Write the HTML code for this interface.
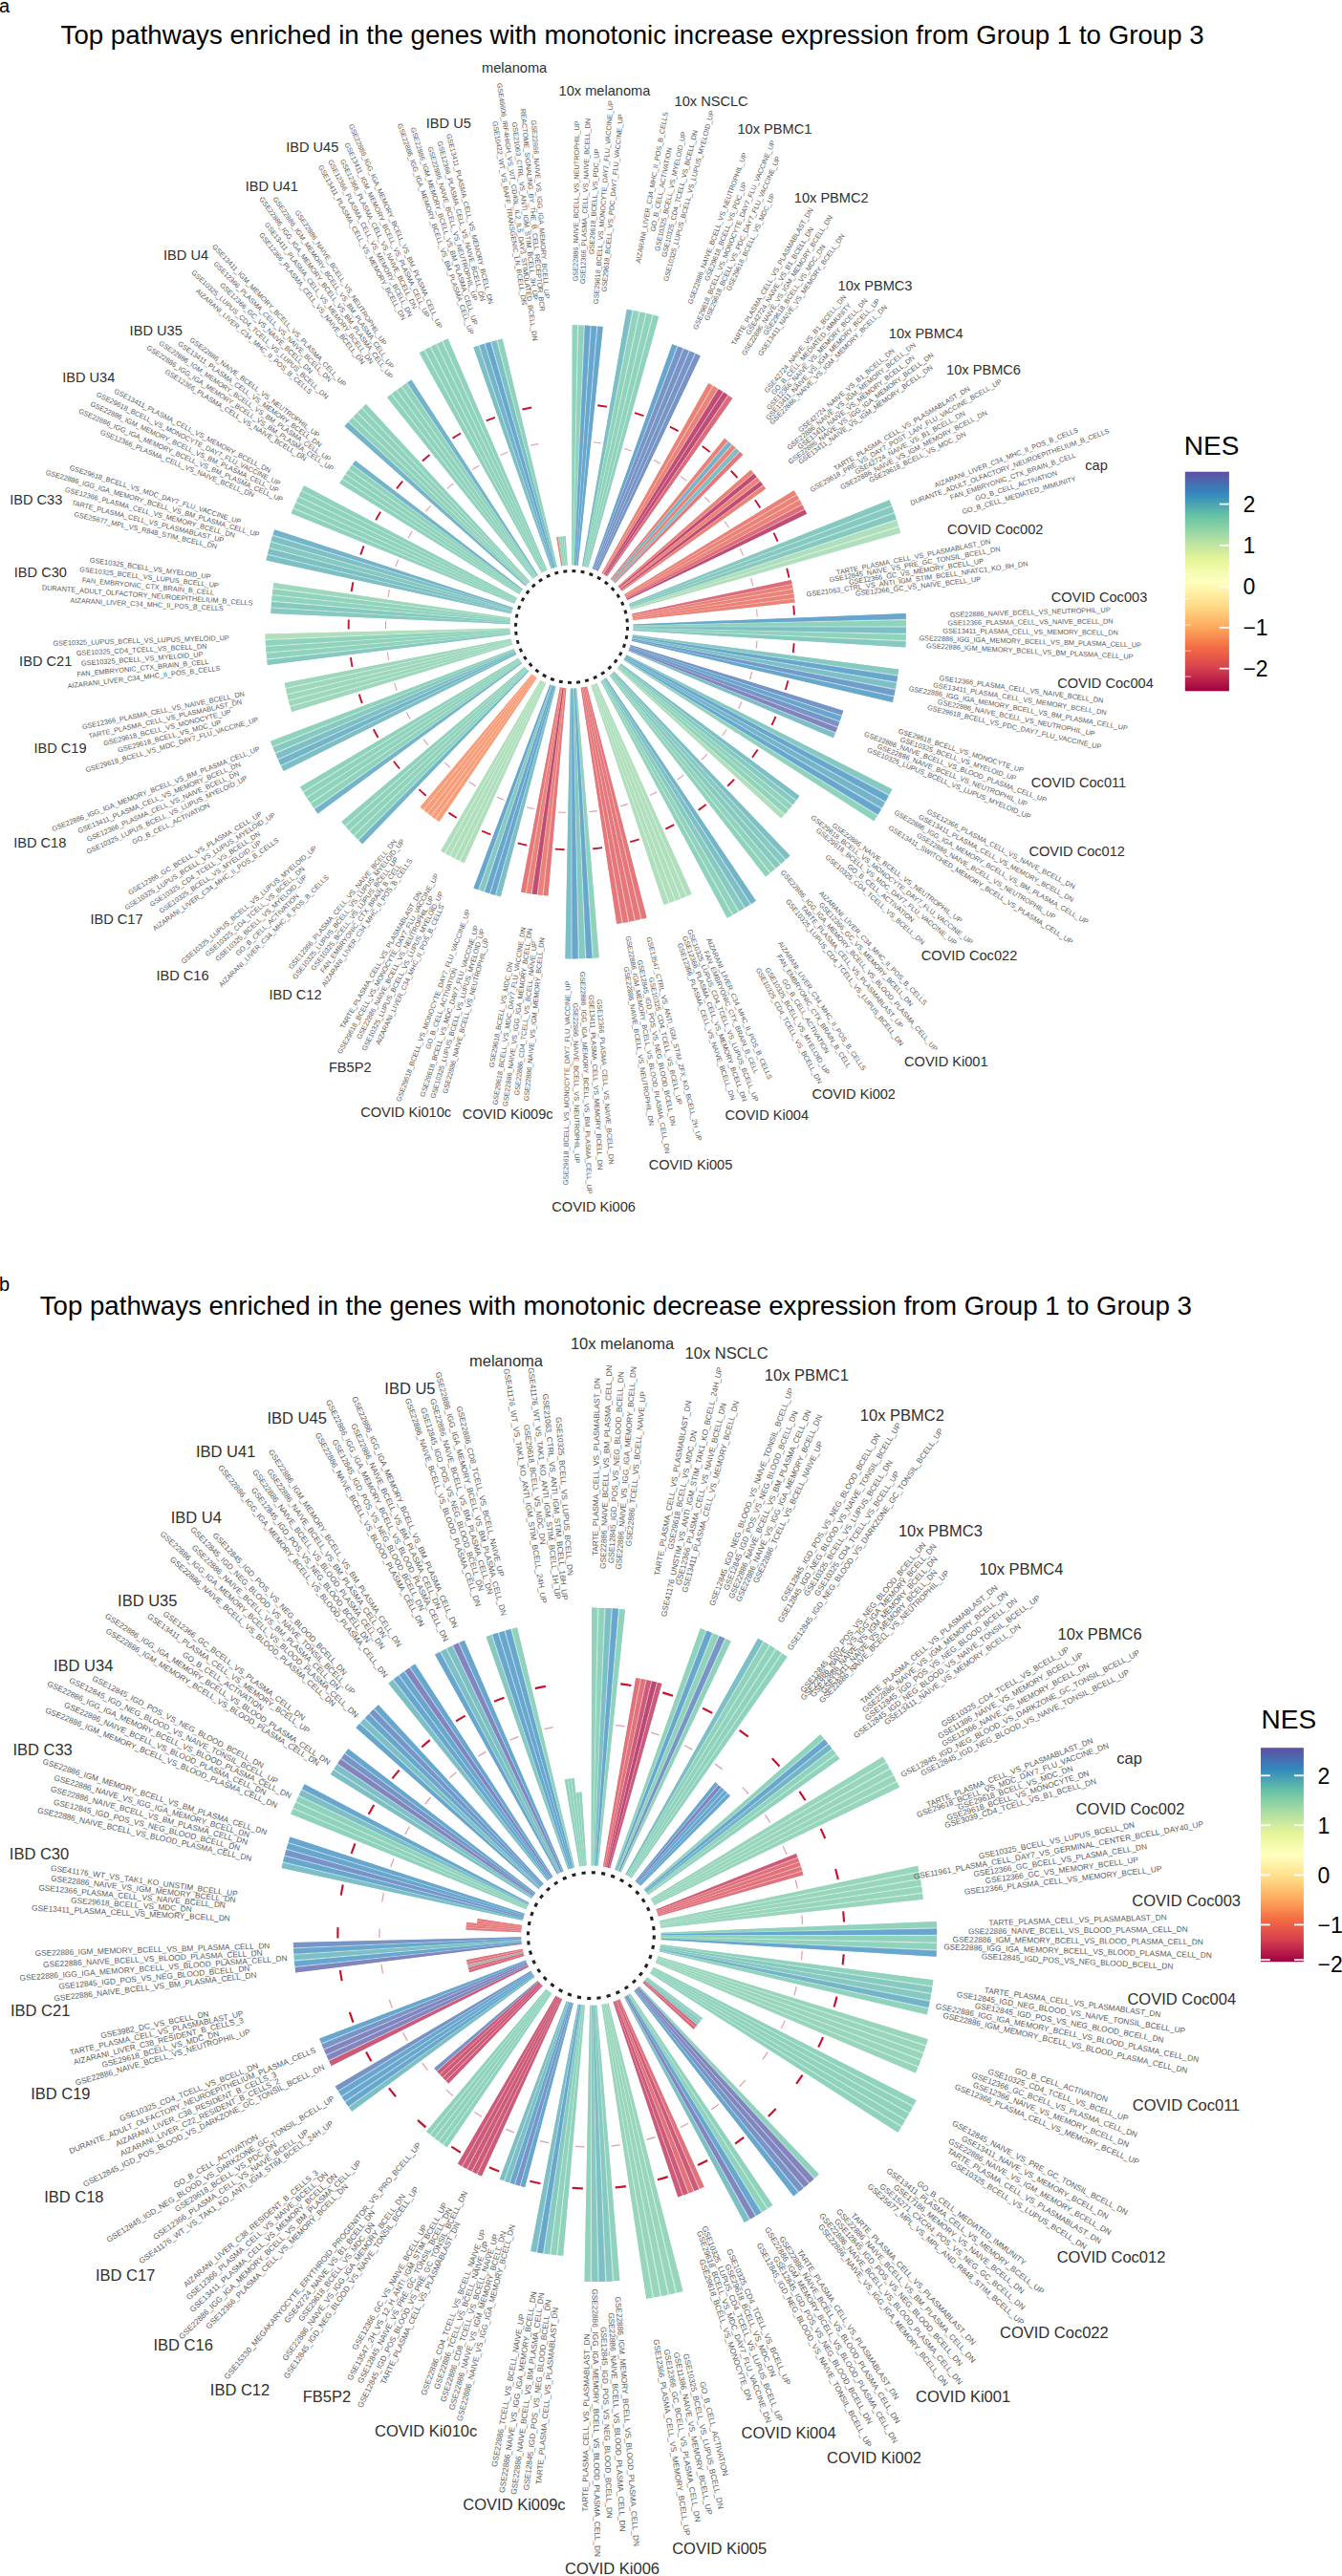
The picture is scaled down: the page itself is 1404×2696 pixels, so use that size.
<!DOCTYPE html><html><head><meta charset="utf-8"><title>Top pathways</title>
<style>html,body{margin:0;padding:0;background:#fff}svg{display:block;font-family:"Liberation Sans",Arial,Helvetica,sans-serif}</style></head><body>
<svg width="1404" height="2696" viewBox="0 0 1404 2696">
<rect width="1404" height="2696" fill="#fff"/>
<text x="-1" y="13.2" font-size="20" fill="#000">a</text>
<text x="63.6" y="46" font-size="27.66" fill="#000">Top pathways enriched in the genes with monotonic increase expression from Group 1 to Group 3</text>
<g>
<path d="M598.14 591.50L598.67 340.30A315.70 315.70 0 0 1 604.70 340.37L599.37 591.51A64.50 64.50 0 0 0 598.14 591.50Z" fill="#bfe5d8"/>
<path d="M599.37 591.51L604.70 340.37A315.70 315.70 0 0 1 611.40 340.58L600.74 591.56A64.50 64.50 0 0 0 599.37 591.51Z" fill="#bfe5d8"/>
<path d="M600.74 591.56L611.40 340.58A315.70 315.70 0 0 1 618.09 340.94L602.10 591.63A64.50 64.50 0 0 0 600.74 591.56Z" fill="#a7cce3"/>
<path d="M602.10 591.63L618.09 340.94A315.70 315.70 0 0 1 624.77 341.44L603.47 591.73A64.50 64.50 0 0 0 602.10 591.63Z" fill="#a7cce3"/>
<path d="M603.47 591.73L624.77 341.44A315.70 315.70 0 0 1 630.78 342.01L604.70 591.85A64.50 64.50 0 0 0 603.47 591.73Z" fill="#a7cce3"/>
<path d="M598.14 591.50L598.67 340.30A315.70 315.70 0 0 1 604.03 340.36L599.23 591.51A64.50 64.50 0 0 0 598.14 591.50Z" fill="#90d3bc"/>
<path d="M599.51 591.52L605.37 340.39A315.70 315.70 0 0 1 610.73 340.56L600.60 591.55A64.50 64.50 0 0 0 599.51 591.52Z" fill="#90d3bc"/>
<path d="M600.87 591.56L612.07 340.61A315.70 315.70 0 0 1 617.42 340.90L601.97 591.62A64.50 64.50 0 0 0 600.87 591.56Z" fill="#67a7ce"/>
<path d="M602.24 591.64L618.76 340.98A315.70 315.70 0 0 1 624.11 341.38L603.33 591.72A64.50 64.50 0 0 0 602.24 591.64Z" fill="#67a7ce"/>
<path d="M603.61 591.74L625.44 341.49A315.70 315.70 0 0 1 630.78 342.01L604.70 591.85A64.50 64.50 0 0 0 603.61 591.74Z" fill="#67a7ce"/>
<path d="M609.04 592.45L655.71 323.67A337.30 337.30 0 0 1 662.05 324.84L610.25 592.67A64.50 64.50 0 0 0 609.04 592.45Z" fill="#b3dadd"/>
<path d="M610.25 592.67L662.05 324.84A337.30 337.30 0 0 1 669.06 326.27L611.59 592.95A64.50 64.50 0 0 0 610.25 592.67Z" fill="#bfe5d8"/>
<path d="M611.59 592.95L669.06 326.27A337.30 337.30 0 0 1 676.04 327.85L612.92 593.25A64.50 64.50 0 0 0 611.59 592.95Z" fill="#bfe5d8"/>
<path d="M612.92 593.25L676.04 327.85A337.30 337.30 0 0 1 682.99 329.58L614.25 593.58A64.50 64.50 0 0 0 612.92 593.25Z" fill="#bfe5d8"/>
<path d="M614.25 593.58L682.99 329.58A337.30 337.30 0 0 1 689.21 331.27L615.44 593.90A64.50 64.50 0 0 0 614.25 593.58Z" fill="#bfe5d8"/>
<path d="M609.04 592.45L655.71 323.67A337.30 337.30 0 0 1 661.34 324.70L610.11 592.65A64.50 64.50 0 0 0 609.04 592.45Z" fill="#7cbfc4"/>
<path d="M610.38 592.70L662.75 324.97A337.30 337.30 0 0 1 668.36 326.12L611.45 592.92A64.50 64.50 0 0 0 610.38 592.70Z" fill="#90d3bc"/>
<path d="M611.72 592.98L669.76 326.42A337.30 337.30 0 0 1 675.35 327.69L612.79 593.22A64.50 64.50 0 0 0 611.72 592.98Z" fill="#90d3bc"/>
<path d="M613.06 593.28L676.74 328.02A337.30 337.30 0 0 1 682.30 329.40L614.12 593.55A64.50 64.50 0 0 0 613.06 593.28Z" fill="#90d3bc"/>
<path d="M614.39 593.62L683.68 329.76A337.30 337.30 0 0 1 689.21 331.27L615.44 593.90A64.50 64.50 0 0 0 614.39 593.62Z" fill="#90d3bc"/>
<path d="M619.62 595.23L703.23 360.16A314.00 314.00 0 0 1 708.87 362.22L620.77 595.65A64.50 64.50 0 0 0 619.62 595.23Z" fill="#a7cce3"/>
<path d="M620.77 595.65L708.87 362.22A314.00 314.00 0 0 1 715.08 364.64L622.05 596.15A64.50 64.50 0 0 0 620.77 595.65Z" fill="#b0c1dd"/>
<path d="M622.05 596.15L715.08 364.64A314.00 314.00 0 0 1 721.23 367.19L623.31 596.68A64.50 64.50 0 0 0 622.05 596.15Z" fill="#b0c1dd"/>
<path d="M623.31 596.68L721.23 367.19A314.00 314.00 0 0 1 727.34 369.87L624.57 597.23A64.50 64.50 0 0 0 623.31 596.68Z" fill="#b0c1dd"/>
<path d="M624.57 597.23L727.34 369.87A314.00 314.00 0 0 1 732.78 372.40L625.69 597.74A64.50 64.50 0 0 0 624.57 597.23Z" fill="#b0c1dd"/>
<path d="M619.62 595.23L703.23 360.16A314.00 314.00 0 0 1 708.24 361.99L620.65 595.61A64.50 64.50 0 0 0 619.62 595.23Z" fill="#67a7ce"/>
<path d="M620.90 595.70L709.49 362.46A314.00 314.00 0 0 1 714.46 364.39L621.92 596.10A64.50 64.50 0 0 0 620.90 595.70Z" fill="#7694c5"/>
<path d="M622.18 596.20L715.70 364.89A314.00 314.00 0 0 1 720.62 366.93L623.19 596.62A64.50 64.50 0 0 0 622.18 596.20Z" fill="#7694c5"/>
<path d="M623.44 596.73L721.85 367.46A314.00 314.00 0 0 1 726.73 369.60L624.44 597.17A64.50 64.50 0 0 0 623.44 596.73Z" fill="#7694c5"/>
<path d="M624.69 597.28L727.94 370.15A314.00 314.00 0 0 1 732.78 372.40L625.69 597.74A64.50 64.50 0 0 0 624.69 597.28Z" fill="#7694c5"/>
<path d="M629.58 599.76L741.19 400.95A292.50 292.50 0 0 1 746.04 403.73L630.64 600.37A64.50 64.50 0 0 0 629.58 599.76Z" fill="#f3b6b1"/>
<path d="M630.64 600.37L746.04 403.73A292.50 292.50 0 0 1 751.36 406.93L631.82 601.08A64.50 64.50 0 0 0 630.64 600.37Z" fill="#f3b6b1"/>
<path d="M631.82 601.08L751.36 406.93A292.50 292.50 0 0 1 756.61 410.24L632.98 601.81A64.50 64.50 0 0 0 631.82 601.08Z" fill="#da97af"/>
<path d="M632.98 601.81L756.61 410.24A292.50 292.50 0 0 1 761.79 413.66L634.12 602.56A64.50 64.50 0 0 0 632.98 601.81Z" fill="#da97af"/>
<path d="M634.12 602.56L761.79 413.66A292.50 292.50 0 0 1 766.39 416.83L635.13 603.26A64.50 64.50 0 0 0 634.12 602.56Z" fill="#ebaab3"/>
<path d="M629.58 599.76L741.19 400.95A292.50 292.50 0 0 1 745.50 403.42L630.53 600.30A64.50 64.50 0 0 0 629.58 599.76Z" fill="#eb8278"/>
<path d="M630.76 600.44L746.57 404.04A292.50 292.50 0 0 1 750.83 406.60L631.70 601.00A64.50 64.50 0 0 0 630.76 600.44Z" fill="#eb8278"/>
<path d="M631.93 601.15L751.89 407.25A292.50 292.50 0 0 1 756.09 409.90L632.86 601.73A64.50 64.50 0 0 0 631.93 601.15Z" fill="#bf4c75"/>
<path d="M633.09 601.88L757.13 410.58A292.50 292.50 0 0 1 761.28 413.31L634.00 602.48A64.50 64.50 0 0 0 633.09 601.88Z" fill="#bf4c75"/>
<path d="M634.23 602.64L762.31 414.01A292.50 292.50 0 0 1 766.39 416.83L635.13 603.26A64.50 64.50 0 0 0 634.23 602.64Z" fill="#dc6c7c"/>
<path d="M638.63 605.90L757.99 458.72A254.00 254.00 0 0 1 761.73 461.81L639.58 606.69A64.50 64.50 0 0 0 638.63 605.90Z" fill="#f3b6b1"/>
<path d="M639.58 606.69L761.73 461.81A254.00 254.00 0 0 1 765.81 465.33L640.61 607.58A64.50 64.50 0 0 0 639.58 606.69Z" fill="#aed4e0"/>
<path d="M640.61 607.58L765.81 465.33A254.00 254.00 0 0 1 769.82 468.93L641.63 608.50A64.50 64.50 0 0 0 640.61 607.58Z" fill="#f3b6b1"/>
<path d="M641.63 608.50L769.82 468.93A254.00 254.00 0 0 1 773.75 472.62L642.63 609.43A64.50 64.50 0 0 0 641.63 608.50Z" fill="#b3dadd"/>
<path d="M642.63 609.43L773.75 472.62A254.00 254.00 0 0 1 777.22 476.01L643.51 610.29A64.50 64.50 0 0 0 642.63 609.43Z" fill="#f0b0b2"/>
<path d="M638.63 605.90L757.99 458.72A254.00 254.00 0 0 1 761.31 461.46L639.47 606.60A64.50 64.50 0 0 0 638.63 605.90Z" fill="#eb8278"/>
<path d="M639.68 606.78L762.14 462.16A254.00 254.00 0 0 1 765.41 464.97L640.51 607.49A64.50 64.50 0 0 0 639.68 606.78Z" fill="#73b4c9"/>
<path d="M640.72 607.67L766.22 465.69A254.00 254.00 0 0 1 769.42 468.57L641.53 608.40A64.50 64.50 0 0 0 640.72 607.67Z" fill="#eb8278"/>
<path d="M641.73 608.59L770.22 469.30A254.00 254.00 0 0 1 773.36 472.25L642.53 609.34A64.50 64.50 0 0 0 641.73 608.59Z" fill="#7cbfc4"/>
<path d="M642.73 609.53L774.14 473.00A254.00 254.00 0 0 1 777.22 476.01L643.51 610.29A64.50 64.50 0 0 0 642.73 609.53Z" fill="#e5777b"/>
<path d="M646.51 613.49L785.49 491.69A249.30 249.30 0 0 1 788.60 495.30L647.31 614.42A64.50 64.50 0 0 0 646.51 613.49Z" fill="#f3b6b1"/>
<path d="M647.31 614.42L788.60 495.30A249.30 249.30 0 0 1 791.96 499.38L648.18 615.48A64.50 64.50 0 0 0 647.31 614.42Z" fill="#da97af"/>
<path d="M648.18 615.48L791.96 499.38A249.30 249.30 0 0 1 795.24 503.54L649.03 616.55A64.50 64.50 0 0 0 648.18 615.48Z" fill="#f3b6b1"/>
<path d="M649.03 616.55L795.24 503.54A249.30 249.30 0 0 1 798.44 507.76L649.86 617.65A64.50 64.50 0 0 0 649.03 616.55Z" fill="#da97af"/>
<path d="M649.86 617.65L798.44 507.76A249.30 249.30 0 0 1 801.23 511.61L650.58 618.64A64.50 64.50 0 0 0 649.86 617.65Z" fill="#f3b6b1"/>
<path d="M646.51 613.49L785.49 491.69A249.30 249.30 0 0 1 788.25 494.90L647.22 614.32A64.50 64.50 0 0 0 646.51 613.49Z" fill="#eb8278"/>
<path d="M647.40 614.53L788.94 495.71A249.30 249.30 0 0 1 791.63 498.97L648.10 615.37A64.50 64.50 0 0 0 647.40 614.53Z" fill="#bf4c75"/>
<path d="M648.27 615.59L792.30 499.80A249.30 249.30 0 0 1 794.92 503.12L648.95 616.45A64.50 64.50 0 0 0 648.27 615.59Z" fill="#eb8278"/>
<path d="M649.12 616.66L795.57 503.96A249.30 249.30 0 0 1 798.12 507.33L649.78 617.54A64.50 64.50 0 0 0 649.12 616.66Z" fill="#bf4c75"/>
<path d="M649.94 617.76L798.75 508.18A249.30 249.30 0 0 1 801.23 511.61L650.58 618.64A64.50 64.50 0 0 0 649.94 617.76Z" fill="#eb8278"/>
<path d="M653.00 622.30L830.77 513.36A273.00 273.00 0 0 1 833.45 517.83L653.63 623.36A64.50 64.50 0 0 0 653.00 622.30Z" fill="#f3b6b1"/>
<path d="M653.63 623.36L833.45 517.83A273.00 273.00 0 0 1 836.33 522.86L654.31 624.54A64.50 64.50 0 0 0 653.63 623.36Z" fill="#f3b6b1"/>
<path d="M654.31 624.54L836.33 522.86A273.00 273.00 0 0 1 839.11 527.95L654.96 625.75A64.50 64.50 0 0 0 654.31 624.54Z" fill="#f3b6b1"/>
<path d="M654.96 625.75L839.11 527.95A273.00 273.00 0 0 1 841.77 533.09L655.59 626.96A64.50 64.50 0 0 0 654.96 625.75Z" fill="#ebaab3"/>
<path d="M655.59 626.96L841.77 533.09A273.00 273.00 0 0 1 844.07 537.77L656.14 628.07A64.50 64.50 0 0 0 655.59 626.96Z" fill="#da97af"/>
<path d="M653.00 622.30L830.77 513.36A273.00 273.00 0 0 1 833.16 517.33L653.56 623.24A64.50 64.50 0 0 0 653.00 622.30Z" fill="#eb8278"/>
<path d="M653.70 623.47L833.75 518.33A273.00 273.00 0 0 1 836.05 522.35L654.24 624.42A64.50 64.50 0 0 0 653.70 623.47Z" fill="#eb8278"/>
<path d="M654.38 624.66L836.61 523.37A273.00 273.00 0 0 1 838.83 527.44L654.90 625.63A64.50 64.50 0 0 0 654.38 624.66Z" fill="#eb8278"/>
<path d="M655.03 625.87L839.38 528.46A273.00 273.00 0 0 1 841.51 532.58L655.53 626.84A64.50 64.50 0 0 0 655.03 625.87Z" fill="#dc6c7c"/>
<path d="M655.66 627.08L842.03 533.61A273.00 273.00 0 0 1 844.07 537.77L656.14 628.07A64.50 64.50 0 0 0 655.66 627.08Z" fill="#bf4c75"/>
<path d="M657.90 632.08L930.47 523.22A358.00 358.00 0 0 1 932.94 529.60L658.35 633.23A64.50 64.50 0 0 0 657.90 632.08Z" fill="#b9e0da"/>
<path d="M658.35 633.23L932.94 529.60A358.00 358.00 0 0 1 935.55 536.74L658.82 634.51A64.50 64.50 0 0 0 658.35 633.23Z" fill="#b9e0da"/>
<path d="M658.82 634.51L935.55 536.74A358.00 358.00 0 0 1 938.01 543.93L659.26 635.81A64.50 64.50 0 0 0 658.82 634.51Z" fill="#b9e0da"/>
<path d="M659.26 635.81L938.01 543.93A358.00 358.00 0 0 1 940.31 551.17L659.67 637.11A64.50 64.50 0 0 0 659.26 635.81Z" fill="#d1ecd8"/>
<path d="M659.67 637.11L940.31 551.17A358.00 358.00 0 0 1 942.25 557.73L660.02 638.29A64.50 64.50 0 0 0 659.67 637.11Z" fill="#d1ecd8"/>
<path d="M657.90 632.08L930.47 523.22A358.00 358.00 0 0 1 932.67 528.89L658.30 633.10A64.50 64.50 0 0 0 657.90 632.08Z" fill="#86c9c0"/>
<path d="M658.39 633.35L933.21 530.31A358.00 358.00 0 0 1 935.30 536.02L658.77 634.38A64.50 64.50 0 0 0 658.39 633.35Z" fill="#86c9c0"/>
<path d="M658.86 634.64L935.80 537.45A358.00 358.00 0 0 1 937.77 543.21L659.21 635.68A64.50 64.50 0 0 0 658.86 634.64Z" fill="#86c9c0"/>
<path d="M659.30 635.94L938.24 544.65A358.00 358.00 0 0 1 940.08 550.44L659.63 636.98A64.50 64.50 0 0 0 659.30 635.94Z" fill="#afdfbc"/>
<path d="M659.71 637.24L940.53 551.90A358.00 358.00 0 0 1 942.25 557.73L660.02 638.29A64.50 64.50 0 0 0 659.71 637.24Z" fill="#afdfbc"/>
<path d="M661.08 642.55L827.83 606.98A235.00 235.00 0 0 1 828.72 611.38L661.33 643.75A64.50 64.50 0 0 0 661.08 642.55Z" fill="#ebaab3"/>
<path d="M661.33 643.75L828.72 611.38A235.00 235.00 0 0 1 829.62 616.28L661.57 645.10A64.50 64.50 0 0 0 661.33 643.75Z" fill="#f3b6b1"/>
<path d="M661.57 645.10L829.62 616.28A235.00 235.00 0 0 1 830.41 621.21L661.79 646.45A64.50 64.50 0 0 0 661.57 645.10Z" fill="#f3b6b1"/>
<path d="M661.79 646.45L830.41 621.21A235.00 235.00 0 0 1 831.10 626.15L661.98 647.81A64.50 64.50 0 0 0 661.79 646.45Z" fill="#f3b6b1"/>
<path d="M661.98 647.81L831.10 626.15A235.00 235.00 0 0 1 831.62 630.61L662.12 649.03A64.50 64.50 0 0 0 661.98 647.81Z" fill="#f3b6b1"/>
<path d="M661.08 642.55L827.83 606.98A235.00 235.00 0 0 1 828.63 610.89L661.30 643.62A64.50 64.50 0 0 0 661.08 642.55Z" fill="#dc6c7c"/>
<path d="M661.35 643.89L828.82 611.87A235.00 235.00 0 0 1 829.53 615.79L661.55 644.96A64.50 64.50 0 0 0 661.35 643.89Z" fill="#eb8278"/>
<path d="M661.60 645.23L829.70 616.78A235.00 235.00 0 0 1 830.34 620.72L661.77 646.32A64.50 64.50 0 0 0 661.60 645.23Z" fill="#eb8278"/>
<path d="M661.81 646.59L830.48 621.70A235.00 235.00 0 0 1 831.03 625.66L661.96 647.67A64.50 64.50 0 0 0 661.81 646.59Z" fill="#eb8278"/>
<path d="M661.99 647.94L831.16 626.65A235.00 235.00 0 0 1 831.62 630.61L662.12 649.03A64.50 64.50 0 0 0 661.99 647.94Z" fill="#eb8278"/>
<path d="M662.45 653.40L947.72 641.89A350.00 350.00 0 0 1 947.92 648.57L662.49 654.63A64.50 64.50 0 0 0 662.45 653.40Z" fill="#a7cce3"/>
<path d="M662.49 654.63L947.92 648.57A350.00 350.00 0 0 1 948.00 656.00L662.50 656.00A64.50 64.50 0 0 0 662.49 654.63Z" fill="#bfe5d8"/>
<path d="M662.50 656.00L948.00 656.00A350.00 350.00 0 0 1 947.92 663.43L662.49 657.37A64.50 64.50 0 0 0 662.50 656.00Z" fill="#b3dadd"/>
<path d="M662.49 657.37L947.92 663.43A350.00 350.00 0 0 1 947.68 670.85L662.44 658.74A64.50 64.50 0 0 0 662.49 657.37Z" fill="#bfe5d8"/>
<path d="M662.44 658.74L947.68 670.85A350.00 350.00 0 0 1 947.34 677.53L662.38 659.97A64.50 64.50 0 0 0 662.44 658.74Z" fill="#b9e0da"/>
<path d="M662.45 653.40L947.72 641.89A350.00 350.00 0 0 1 947.90 647.83L662.48 654.49A64.50 64.50 0 0 0 662.45 653.40Z" fill="#67a7ce"/>
<path d="M662.49 654.77L947.94 649.31A350.00 350.00 0 0 1 948.00 655.26L662.50 655.86A64.50 64.50 0 0 0 662.49 654.77Z" fill="#90d3bc"/>
<path d="M662.50 656.14L948.00 656.74A350.00 350.00 0 0 1 947.94 662.69L662.49 657.23A64.50 64.50 0 0 0 662.50 656.14Z" fill="#7cbfc4"/>
<path d="M662.48 657.51L947.90 664.17A350.00 350.00 0 0 1 947.72 670.11L662.45 658.60A64.50 64.50 0 0 0 662.48 657.51Z" fill="#90d3bc"/>
<path d="M662.44 658.87L947.65 671.60A350.00 350.00 0 0 1 947.34 677.53L662.38 659.97A64.50 64.50 0 0 0 662.44 658.87Z" fill="#86c9c0"/>
<path d="M661.96 664.33L940.11 700.55A345.00 345.00 0 0 1 939.20 707.07L661.79 665.55A64.50 64.50 0 0 0 661.96 664.33Z" fill="#b9e0da"/>
<path d="M661.79 665.55L939.20 707.07A345.00 345.00 0 0 1 938.04 714.31L661.57 666.90A64.50 64.50 0 0 0 661.79 665.55Z" fill="#a7cce3"/>
<path d="M661.57 666.90L938.04 714.31A345.00 345.00 0 0 1 936.72 721.51L661.33 668.25A64.50 64.50 0 0 0 661.57 666.90Z" fill="#b3dadd"/>
<path d="M661.33 668.25L936.72 721.51A345.00 345.00 0 0 1 935.26 728.68L661.05 669.59A64.50 64.50 0 0 0 661.33 668.25Z" fill="#abc6e0"/>
<path d="M661.05 669.59L935.26 728.68A345.00 345.00 0 0 1 933.81 735.11L660.78 670.79A64.50 64.50 0 0 0 661.05 669.59Z" fill="#a7cce3"/>
<path d="M661.96 664.33L940.11 700.55A345.00 345.00 0 0 1 939.31 706.35L661.81 665.41A64.50 64.50 0 0 0 661.96 664.33Z" fill="#86c9c0"/>
<path d="M661.77 665.68L939.09 707.80A345.00 345.00 0 0 1 938.16 713.58L661.60 666.77A64.50 64.50 0 0 0 661.77 665.68Z" fill="#67a7ce"/>
<path d="M661.55 667.04L937.91 715.03A345.00 345.00 0 0 1 936.86 720.79L661.35 668.11A64.50 64.50 0 0 0 661.55 667.04Z" fill="#7cbfc4"/>
<path d="M661.30 668.38L936.58 722.23A345.00 345.00 0 0 1 935.41 727.97L661.08 669.45A64.50 64.50 0 0 0 661.30 668.38Z" fill="#6f9cc9"/>
<path d="M661.02 669.72L935.10 729.40A345.00 345.00 0 0 1 933.81 735.11L660.78 670.79A64.50 64.50 0 0 0 661.02 669.72Z" fill="#67a7ce"/>
<path d="M659.63 675.02L882.27 743.72A297.50 297.50 0 0 1 880.55 749.13L659.26 676.19A64.50 64.50 0 0 0 659.63 675.02Z" fill="#b0c1dd"/>
<path d="M659.26 676.19L880.55 749.13A297.50 297.50 0 0 1 878.51 755.11L658.82 677.49A64.50 64.50 0 0 0 659.26 676.19Z" fill="#a7cce3"/>
<path d="M658.82 677.49L878.51 755.11A297.50 297.50 0 0 1 876.34 761.04L658.35 678.77A64.50 64.50 0 0 0 658.82 677.49Z" fill="#b0c1dd"/>
<path d="M658.35 678.77L876.34 761.04A297.50 297.50 0 0 1 874.05 766.92L657.85 680.05A64.50 64.50 0 0 0 658.35 678.77Z" fill="#b6b8d9"/>
<path d="M657.85 680.05L874.05 766.92A297.50 297.50 0 0 1 871.88 772.18L657.38 681.19A64.50 64.50 0 0 0 657.85 680.05Z" fill="#b3dadd"/>
<path d="M659.63 675.02L882.27 743.72A297.50 297.50 0 0 1 880.74 748.53L659.30 676.06A64.50 64.50 0 0 0 659.63 675.02Z" fill="#7694c5"/>
<path d="M659.21 676.32L880.35 749.73A297.50 297.50 0 0 1 878.72 754.51L658.86 677.36A64.50 64.50 0 0 0 659.21 676.32Z" fill="#67a7ce"/>
<path d="M658.77 677.62L878.30 755.70A297.50 297.50 0 0 1 876.56 760.45L658.39 678.65A64.50 64.50 0 0 0 658.77 677.62Z" fill="#7694c5"/>
<path d="M658.30 678.90L876.12 761.63A297.50 297.50 0 0 1 874.28 766.34L657.90 679.92A64.50 64.50 0 0 0 658.30 678.90Z" fill="#8185be"/>
<path d="M657.80 680.18L873.81 767.51A297.50 297.50 0 0 1 871.88 772.18L657.38 681.19A64.50 64.50 0 0 0 657.80 680.18Z" fill="#7cbfc4"/>
<path d="M655.53 685.16L933.38 825.99A376.00 376.00 0 0 1 930.07 832.36L654.96 686.25A64.50 64.50 0 0 0 655.53 685.16Z" fill="#b9e0da"/>
<path d="M654.96 686.25L930.07 832.36A376.00 376.00 0 0 1 926.25 839.37L654.31 687.46A64.50 64.50 0 0 0 654.96 686.25Z" fill="#a7cce3"/>
<path d="M654.31 687.46L926.25 839.37A376.00 376.00 0 0 1 922.29 846.30L653.63 688.64A64.50 64.50 0 0 0 654.31 687.46Z" fill="#aed4e0"/>
<path d="M653.63 688.64L922.29 846.30A376.00 376.00 0 0 1 918.17 853.14L652.92 689.82A64.50 64.50 0 0 0 653.63 688.64Z" fill="#a7cce3"/>
<path d="M652.92 689.82L918.17 853.14A376.00 376.00 0 0 1 914.35 859.22L652.27 690.86A64.50 64.50 0 0 0 652.92 689.82Z" fill="#bfe5d8"/>
<path d="M655.53 685.16L933.38 825.99A376.00 376.00 0 0 1 930.45 831.66L655.03 686.13A64.50 64.50 0 0 0 655.53 685.16Z" fill="#86c9c0"/>
<path d="M654.90 686.37L929.70 833.07A376.00 376.00 0 0 1 926.64 838.68L654.38 687.34A64.50 64.50 0 0 0 654.90 686.37Z" fill="#67a7ce"/>
<path d="M654.24 687.58L925.86 840.07A376.00 376.00 0 0 1 922.69 845.61L653.70 688.53A64.50 64.50 0 0 0 654.24 687.58Z" fill="#73b4c9"/>
<path d="M653.56 688.76L921.88 846.99A376.00 376.00 0 0 1 918.59 852.46L653.00 689.70A64.50 64.50 0 0 0 653.56 688.76Z" fill="#67a7ce"/>
<path d="M652.85 689.93L917.76 853.82A376.00 376.00 0 0 1 914.35 859.22L652.27 690.86A64.50 64.50 0 0 0 652.85 689.93Z" fill="#90d3bc"/>
<path d="M649.78 694.46L836.41 833.11A297.00 297.00 0 0 1 832.98 837.63L649.03 695.45A64.50 64.50 0 0 0 649.78 694.46Z" fill="#b3dadd"/>
<path d="M649.03 695.45L832.98 837.63A297.00 297.00 0 0 1 829.08 842.58L648.18 696.52A64.50 64.50 0 0 0 649.03 695.45Z" fill="#b9e0da"/>
<path d="M648.18 696.52L829.08 842.58A297.00 297.00 0 0 1 825.06 847.44L647.31 697.58A64.50 64.50 0 0 0 648.18 696.52Z" fill="#bfe5d8"/>
<path d="M647.31 697.58L825.06 847.44A297.00 297.00 0 0 1 820.95 852.22L646.42 698.61A64.50 64.50 0 0 0 647.31 697.58Z" fill="#bfe5d8"/>
<path d="M646.42 698.61L820.95 852.22A297.00 297.00 0 0 1 817.16 856.44L645.60 699.53A64.50 64.50 0 0 0 646.42 698.61Z" fill="#d1ecd8"/>
<path d="M649.78 694.46L836.41 833.11A297.00 297.00 0 0 1 833.37 837.14L649.12 695.34A64.50 64.50 0 0 0 649.78 694.46Z" fill="#7cbfc4"/>
<path d="M648.95 695.55L832.60 838.13A297.00 297.00 0 0 1 829.47 842.09L648.27 696.41A64.50 64.50 0 0 0 648.95 695.55Z" fill="#86c9c0"/>
<path d="M648.10 696.63L828.68 843.07A297.00 297.00 0 0 1 825.47 846.96L647.40 697.47A64.50 64.50 0 0 0 648.10 696.63Z" fill="#90d3bc"/>
<path d="M647.22 697.68L824.66 847.93A297.00 297.00 0 0 1 821.37 851.75L646.51 698.51A64.50 64.50 0 0 0 647.22 697.68Z" fill="#90d3bc"/>
<path d="M646.33 698.72L820.53 852.69A297.00 297.00 0 0 1 817.16 856.44L645.60 699.53A64.50 64.50 0 0 0 646.33 698.72Z" fill="#afdfbc"/>
<path d="M642.53 702.66L826.52 895.45A331.00 331.00 0 0 1 821.91 899.77L641.63 703.50A64.50 64.50 0 0 0 642.53 702.66Z" fill="#b3dadd"/>
<path d="M641.63 703.50L821.91 899.77A331.00 331.00 0 0 1 816.68 904.47L640.61 704.42A64.50 64.50 0 0 0 641.63 703.50Z" fill="#b9e0da"/>
<path d="M640.61 704.42L816.68 904.47A331.00 331.00 0 0 1 811.36 909.06L639.58 705.31A64.50 64.50 0 0 0 640.61 704.42Z" fill="#b9e0da"/>
<path d="M639.58 705.31L811.36 909.06A331.00 331.00 0 0 1 805.94 913.53L638.52 706.18A64.50 64.50 0 0 0 639.58 705.31Z" fill="#bfe5d8"/>
<path d="M638.52 706.18L805.94 913.53A331.00 331.00 0 0 1 800.98 917.46L637.55 706.95A64.50 64.50 0 0 0 638.52 706.18Z" fill="#bfe5d8"/>
<path d="M642.53 702.66L826.52 895.45A331.00 331.00 0 0 1 822.42 899.30L641.73 703.41A64.50 64.50 0 0 0 642.53 702.66Z" fill="#7cbfc4"/>
<path d="M641.53 703.60L821.39 900.25A331.00 331.00 0 0 1 817.21 904.01L640.72 704.33A64.50 64.50 0 0 0 641.53 703.60Z" fill="#86c9c0"/>
<path d="M640.51 704.51L816.16 904.94A331.00 331.00 0 0 1 811.90 908.60L639.68 705.22A64.50 64.50 0 0 0 640.51 704.51Z" fill="#86c9c0"/>
<path d="M639.47 705.40L810.82 909.51A331.00 331.00 0 0 1 806.49 913.09L638.63 706.10A64.50 64.50 0 0 0 639.47 705.40Z" fill="#90d3bc"/>
<path d="M638.41 706.27L805.39 913.97A331.00 331.00 0 0 1 800.98 917.46L637.55 706.95A64.50 64.50 0 0 0 638.41 706.27Z" fill="#90d3bc"/>
<path d="M634.00 709.52L790.86 942.66A345.50 345.50 0 0 1 785.35 946.29L632.98 710.19A64.50 64.50 0 0 0 634.00 709.52Z" fill="#aed4e0"/>
<path d="M632.98 710.19L785.35 946.29A345.50 345.50 0 0 1 779.15 950.20L631.82 710.92A64.50 64.50 0 0 0 632.98 710.19Z" fill="#b3dadd"/>
<path d="M631.82 710.92L779.15 950.20A345.50 345.50 0 0 1 772.86 953.98L630.64 711.63A64.50 64.50 0 0 0 631.82 710.92Z" fill="#b9e0da"/>
<path d="M630.64 711.63L772.86 953.98A345.50 345.50 0 0 1 766.50 957.63L629.46 712.31A64.50 64.50 0 0 0 630.64 711.63Z" fill="#bfe5d8"/>
<path d="M629.46 712.31L766.50 957.63A345.50 345.50 0 0 1 760.71 960.79L628.37 712.90A64.50 64.50 0 0 0 629.46 712.31Z" fill="#bfe5d8"/>
<path d="M634.00 709.52L790.86 942.66A345.50 345.50 0 0 1 785.97 945.89L633.09 710.12A64.50 64.50 0 0 0 634.00 709.52Z" fill="#73b4c9"/>
<path d="M632.86 710.27L784.74 946.69A345.50 345.50 0 0 1 779.77 949.82L631.93 710.85A64.50 64.50 0 0 0 632.86 710.27Z" fill="#7cbfc4"/>
<path d="M631.70 711.00L778.52 950.59A345.50 345.50 0 0 1 773.49 953.61L630.76 711.56A64.50 64.50 0 0 0 631.70 711.00Z" fill="#86c9c0"/>
<path d="M630.53 711.70L772.23 954.35A345.50 345.50 0 0 1 767.14 957.27L629.58 712.24A64.50 64.50 0 0 0 630.53 711.70Z" fill="#90d3bc"/>
<path d="M629.34 712.38L765.86 957.98A345.50 345.50 0 0 1 760.71 960.79L628.37 712.90A64.50 64.50 0 0 0 629.34 712.38Z" fill="#90d3bc"/>
<path d="M624.44 714.83L723.65 935.56A306.50 306.50 0 0 1 718.29 937.91L623.31 715.32A64.50 64.50 0 0 0 624.44 714.83Z" fill="#d1ecd8"/>
<path d="M623.31 715.32L718.29 937.91A306.50 306.50 0 0 1 712.28 940.40L622.05 715.85A64.50 64.50 0 0 0 623.31 715.32Z" fill="#d1ecd8"/>
<path d="M622.05 715.85L712.28 940.40A306.50 306.50 0 0 1 706.22 942.76L620.77 716.35A64.50 64.50 0 0 0 622.05 715.85Z" fill="#d1ecd8"/>
<path d="M620.77 716.35L706.22 942.76A306.50 306.50 0 0 1 700.11 944.99L619.49 716.82A64.50 64.50 0 0 0 620.77 716.35Z" fill="#d1ecd8"/>
<path d="M619.49 716.82L700.11 944.99A306.50 306.50 0 0 1 694.57 946.89L618.32 717.21A64.50 64.50 0 0 0 619.49 716.82Z" fill="#d1ecd8"/>
<path d="M624.44 714.83L723.65 935.56A306.50 306.50 0 0 1 718.89 937.65L623.44 715.27A64.50 64.50 0 0 0 624.44 714.83Z" fill="#afdfbc"/>
<path d="M623.19 715.38L717.69 938.16A306.50 306.50 0 0 1 712.88 940.15L622.18 715.80A64.50 64.50 0 0 0 623.19 715.38Z" fill="#afdfbc"/>
<path d="M621.92 715.90L711.68 940.64A306.50 306.50 0 0 1 706.83 942.53L620.90 716.30A64.50 64.50 0 0 0 621.92 715.90Z" fill="#afdfbc"/>
<path d="M620.65 716.39L705.61 942.99A306.50 306.50 0 0 1 700.72 944.77L619.62 716.77A64.50 64.50 0 0 0 620.65 716.39Z" fill="#afdfbc"/>
<path d="M619.36 716.86L699.49 945.21A306.50 306.50 0 0 1 694.57 946.89L618.32 717.21A64.50 64.50 0 0 0 619.36 716.86Z" fill="#afdfbc"/>
<path d="M614.12 718.45L676.60 960.52A314.50 314.50 0 0 1 670.77 961.97L612.92 718.75A64.50 64.50 0 0 0 614.12 718.45Z" fill="#f0b0b2"/>
<path d="M612.92 718.75L670.77 961.97A314.50 314.50 0 0 1 664.26 963.44L611.59 719.05A64.50 64.50 0 0 0 612.92 718.75Z" fill="#f0b0b2"/>
<path d="M611.59 719.05L664.26 963.44A314.50 314.50 0 0 1 657.72 964.78L610.25 719.33A64.50 64.50 0 0 0 611.59 719.05Z" fill="#f0b0b2"/>
<path d="M610.25 719.33L657.72 964.78A314.50 314.50 0 0 1 651.15 965.98L608.90 719.57A64.50 64.50 0 0 0 610.25 719.33Z" fill="#f0b0b2"/>
<path d="M608.90 719.57L651.15 965.98A314.50 314.50 0 0 1 645.22 966.93L607.68 719.77A64.50 64.50 0 0 0 608.90 719.57Z" fill="#f0b0b2"/>
<path d="M614.12 718.45L676.60 960.52A314.50 314.50 0 0 1 671.42 961.81L613.06 718.72A64.50 64.50 0 0 0 614.12 718.45Z" fill="#e5777b"/>
<path d="M612.79 718.78L670.12 962.12A314.50 314.50 0 0 1 664.91 963.30L611.72 719.02A64.50 64.50 0 0 0 612.79 718.78Z" fill="#e5777b"/>
<path d="M611.45 719.08L663.61 963.58A314.50 314.50 0 0 1 658.37 964.65L610.38 719.30A64.50 64.50 0 0 0 611.45 719.08Z" fill="#e5777b"/>
<path d="M610.11 719.35L657.06 964.90A314.50 314.50 0 0 1 651.81 965.86L609.04 719.55A64.50 64.50 0 0 0 610.11 719.35Z" fill="#e5777b"/>
<path d="M608.77 719.60L650.49 966.09A314.50 314.50 0 0 1 645.22 966.93L607.68 719.77A64.50 64.50 0 0 0 608.77 719.60Z" fill="#e5777b"/>
<path d="M603.33 720.28L626.73 1002.21A347.40 347.40 0 0 1 620.11 1002.70L602.10 720.37A64.50 64.50 0 0 0 603.33 720.28Z" fill="#bfe5d8"/>
<path d="M602.10 720.37L620.11 1002.70A347.40 347.40 0 0 1 612.74 1003.09L600.74 720.44A64.50 64.50 0 0 0 602.10 720.37Z" fill="#a7cce3"/>
<path d="M600.74 720.44L612.74 1003.09A347.40 347.40 0 0 1 605.37 1003.32L599.37 720.49A64.50 64.50 0 0 0 600.74 720.44Z" fill="#b9e0da"/>
<path d="M599.37 720.49L605.37 1003.32A347.40 347.40 0 0 1 598.00 1003.40L598.00 720.50A64.50 64.50 0 0 0 599.37 720.49Z" fill="#a7cce3"/>
<path d="M598.00 720.50L598.00 1003.40A347.40 347.40 0 0 1 591.36 1003.34L596.77 720.49A64.50 64.50 0 0 0 598.00 720.50Z" fill="#b3dadd"/>
<path d="M603.33 720.28L626.73 1002.21A347.40 347.40 0 0 1 620.84 1002.65L602.24 720.36A64.50 64.50 0 0 0 603.33 720.28Z" fill="#90d3bc"/>
<path d="M601.97 720.38L619.37 1002.74A347.40 347.40 0 0 1 613.48 1003.05L600.87 720.44A64.50 64.50 0 0 0 601.97 720.38Z" fill="#67a7ce"/>
<path d="M600.60 720.45L612.01 1003.12A347.40 347.40 0 0 1 606.11 1003.31L599.51 720.48A64.50 64.50 0 0 0 600.60 720.45Z" fill="#86c9c0"/>
<path d="M599.23 720.49L604.64 1003.34A347.40 347.40 0 0 1 598.74 1003.40L598.14 720.50A64.50 64.50 0 0 0 599.23 720.49Z" fill="#67a7ce"/>
<path d="M597.86 720.50L597.26 1003.40A347.40 347.40 0 0 1 591.36 1003.34L596.77 720.49A64.50 64.50 0 0 0 597.86 720.50Z" fill="#7cbfc4"/>
<path d="M592.39 720.26L573.44 937.53A282.60 282.60 0 0 1 568.06 937.01L591.17 720.14A64.50 64.50 0 0 0 592.39 720.26Z" fill="#f0b0b2"/>
<path d="M591.17 720.14L568.06 937.01A282.60 282.60 0 0 1 562.10 936.31L589.81 719.98A64.50 64.50 0 0 0 591.17 720.14Z" fill="#f3b6b1"/>
<path d="M589.81 719.98L562.10 936.31A282.60 282.60 0 0 1 556.16 935.49L588.45 719.79A64.50 64.50 0 0 0 589.81 719.98Z" fill="#da97af"/>
<path d="M588.45 719.79L556.16 935.49A282.60 282.60 0 0 1 550.24 934.54L587.10 719.57A64.50 64.50 0 0 0 588.45 719.79Z" fill="#f3b6b1"/>
<path d="M587.10 719.57L550.24 934.54A282.60 282.60 0 0 1 544.93 933.57L585.89 719.35A64.50 64.50 0 0 0 587.10 719.57Z" fill="#f0b0b2"/>
<path d="M592.39 720.26L573.44 937.53A282.60 282.60 0 0 1 568.66 937.07L591.30 720.15A64.50 64.50 0 0 0 592.39 720.26Z" fill="#e5777b"/>
<path d="M591.03 720.12L567.47 936.95A282.60 282.60 0 0 1 562.70 936.39L589.94 719.99A64.50 64.50 0 0 0 591.03 720.12Z" fill="#eb8278"/>
<path d="M589.67 719.96L561.51 936.23A282.60 282.60 0 0 1 556.76 935.57L588.59 719.81A64.50 64.50 0 0 0 589.67 719.96Z" fill="#bf4c75"/>
<path d="M588.32 719.77L555.57 935.40A282.60 282.60 0 0 1 550.83 934.64L587.23 719.60A64.50 64.50 0 0 0 588.32 719.77Z" fill="#eb8278"/>
<path d="M586.96 719.55L549.65 934.43A282.60 282.60 0 0 1 544.93 933.57L585.89 719.35A64.50 64.50 0 0 0 586.96 719.55Z" fill="#e5777b"/>
<path d="M581.61 718.38L523.82 938.42A292.00 292.00 0 0 1 518.44 936.95L580.43 718.06A64.50 64.50 0 0 0 581.61 718.38Z" fill="#b3dadd"/>
<path d="M580.43 718.06L518.44 936.95A292.00 292.00 0 0 1 512.50 935.20L579.11 717.67A64.50 64.50 0 0 0 580.43 718.06Z" fill="#a7cce3"/>
<path d="M579.11 717.67L512.50 935.20A292.00 292.00 0 0 1 506.59 933.32L577.81 717.26A64.50 64.50 0 0 0 579.11 717.67Z" fill="#a7cce3"/>
<path d="M577.81 717.26L506.59 933.32A292.00 292.00 0 0 1 500.72 931.32L576.51 716.82A64.50 64.50 0 0 0 577.81 717.26Z" fill="#b9e0da"/>
<path d="M576.51 716.82L500.72 931.32A292.00 292.00 0 0 1 495.48 929.41L575.35 716.39A64.50 64.50 0 0 0 576.51 716.82Z" fill="#a7cce3"/>
<path d="M581.61 718.38L523.82 938.42A292.00 292.00 0 0 1 519.04 937.12L580.56 718.10A64.50 64.50 0 0 0 581.61 718.38Z" fill="#7cbfc4"/>
<path d="M580.29 718.02L517.84 936.78A292.00 292.00 0 0 1 513.09 935.38L579.24 717.71A64.50 64.50 0 0 0 580.29 718.02Z" fill="#67a7ce"/>
<path d="M578.98 717.63L511.90 935.02A292.00 292.00 0 0 1 507.18 933.52L577.94 717.30A64.50 64.50 0 0 0 578.98 717.63Z" fill="#67a7ce"/>
<path d="M577.68 717.21L506.00 933.13A292.00 292.00 0 0 1 501.31 931.53L576.64 716.86A64.50 64.50 0 0 0 577.68 717.21Z" fill="#86c9c0"/>
<path d="M576.38 716.77L500.14 931.11A292.00 292.00 0 0 1 495.48 929.41L575.35 716.39A64.50 64.50 0 0 0 576.38 716.77Z" fill="#67a7ce"/>
<path d="M571.31 714.72L485.64 903.16A271.50 271.50 0 0 1 480.94 900.97L570.19 714.20A64.50 64.50 0 0 0 571.31 714.72Z" fill="#d1ecd8"/>
<path d="M570.19 714.20L480.94 900.97A271.50 271.50 0 0 1 475.77 898.43L568.96 713.59A64.50 64.50 0 0 0 570.19 714.20Z" fill="#d1ecd8"/>
<path d="M568.96 713.59L475.77 898.43A271.50 271.50 0 0 1 470.65 895.78L567.75 712.96A64.50 64.50 0 0 0 568.96 713.59Z" fill="#d1ecd8"/>
<path d="M567.75 712.96L470.65 895.78A271.50 271.50 0 0 1 465.59 893.02L566.54 712.31A64.50 64.50 0 0 0 567.75 712.96Z" fill="#d1ecd8"/>
<path d="M566.54 712.31L465.59 893.02A271.50 271.50 0 0 1 461.09 890.45L565.47 711.70A64.50 64.50 0 0 0 566.54 712.31Z" fill="#d1ecd8"/>
<path d="M571.31 714.72L485.64 903.16A271.50 271.50 0 0 1 481.46 901.22L570.31 714.26A64.50 64.50 0 0 0 571.31 714.72Z" fill="#afdfbc"/>
<path d="M570.07 714.14L480.42 900.72A271.50 271.50 0 0 1 476.28 898.69L569.08 713.66A64.50 64.50 0 0 0 570.07 714.14Z" fill="#afdfbc"/>
<path d="M568.84 713.53L475.26 898.17A271.50 271.50 0 0 1 471.16 896.05L567.87 713.03A64.50 64.50 0 0 0 568.84 713.53Z" fill="#afdfbc"/>
<path d="M567.63 712.90L470.14 895.51A271.50 271.50 0 0 1 466.09 893.30L566.66 712.38A64.50 64.50 0 0 0 567.63 712.90Z" fill="#afdfbc"/>
<path d="M566.42 712.24L465.09 892.74A271.50 271.50 0 0 1 461.09 890.45L565.47 711.70A64.50 64.50 0 0 0 566.42 712.24Z" fill="#afdfbc"/>
<path d="M561.77 709.36L459.53 859.93A246.50 246.50 0 0 1 455.66 857.25L560.76 708.66A64.50 64.50 0 0 0 561.77 709.36Z" fill="#fbc6b1"/>
<path d="M560.76 708.66L455.66 857.25A246.50 246.50 0 0 1 451.42 854.19L559.65 707.86A64.50 64.50 0 0 0 560.76 708.66Z" fill="#fbc6b1"/>
<path d="M559.65 707.86L451.42 854.19A246.50 246.50 0 0 1 447.25 851.03L558.55 707.03A64.50 64.50 0 0 0 559.65 707.86Z" fill="#fbc6b1"/>
<path d="M558.55 707.03L447.25 851.03A246.50 246.50 0 0 1 443.14 847.79L557.48 706.18A64.50 64.50 0 0 0 558.55 707.03Z" fill="#fbc6b1"/>
<path d="M557.48 706.18L443.14 847.79A246.50 246.50 0 0 1 439.51 844.79L556.53 705.40A64.50 64.50 0 0 0 557.48 706.18Z" fill="#fbc6b1"/>
<path d="M561.77 709.36L459.53 859.93A246.50 246.50 0 0 1 456.09 857.55L560.87 708.74A64.50 64.50 0 0 0 561.77 709.36Z" fill="#f89d78"/>
<path d="M560.64 708.58L455.24 856.95A246.50 246.50 0 0 1 451.84 854.50L559.76 707.94A64.50 64.50 0 0 0 560.64 708.58Z" fill="#f89d78"/>
<path d="M559.54 707.78L451.00 853.87A246.50 246.50 0 0 1 447.66 851.35L558.66 707.12A64.50 64.50 0 0 0 559.54 707.78Z" fill="#f89d78"/>
<path d="M558.45 706.95L446.84 850.71A246.50 246.50 0 0 1 443.55 848.11L557.59 706.27A64.50 64.50 0 0 0 558.45 706.95Z" fill="#f89d78"/>
<path d="M557.37 706.10L442.74 847.46A246.50 246.50 0 0 1 439.51 844.79L556.53 705.40A64.50 64.50 0 0 0 557.37 706.10Z" fill="#f89d78"/>
<path d="M553.27 702.47L379.21 883.31A315.50 315.50 0 0 1 374.91 879.09L552.39 701.61A64.50 64.50 0 0 0 553.27 702.47Z" fill="#aed4e0"/>
<path d="M552.39 701.61L374.91 879.09A315.50 315.50 0 0 1 370.22 874.31L551.43 700.63A64.50 64.50 0 0 0 552.39 701.61Z" fill="#bfe5d8"/>
<path d="M551.43 700.63L370.22 874.31A315.50 315.50 0 0 1 365.64 869.42L550.50 699.63A64.50 64.50 0 0 0 551.43 700.63Z" fill="#bfe5d8"/>
<path d="M550.50 699.63L365.64 869.42A315.50 315.50 0 0 1 361.16 864.44L549.58 698.61A64.50 64.50 0 0 0 550.50 699.63Z" fill="#bfe5d8"/>
<path d="M549.58 698.61L361.16 864.44A315.50 315.50 0 0 1 357.22 859.88L548.78 697.68A64.50 64.50 0 0 0 549.58 698.61Z" fill="#bfe5d8"/>
<path d="M553.27 702.47L379.21 883.31A315.50 315.50 0 0 1 375.38 879.57L552.49 701.71A64.50 64.50 0 0 0 553.27 702.47Z" fill="#73b4c9"/>
<path d="M552.29 701.51L374.43 878.62A315.50 315.50 0 0 1 370.69 874.79L551.53 700.73A64.50 64.50 0 0 0 552.29 701.51Z" fill="#90d3bc"/>
<path d="M551.34 700.53L369.76 873.82A315.50 315.50 0 0 1 366.09 869.92L550.59 699.73A64.50 64.50 0 0 0 551.34 700.53Z" fill="#90d3bc"/>
<path d="M550.40 699.53L365.19 868.93A315.50 315.50 0 0 1 361.61 864.95L549.67 698.72A64.50 64.50 0 0 0 550.40 699.53Z" fill="#90d3bc"/>
<path d="M549.49 698.51L360.72 863.94A315.50 315.50 0 0 1 357.22 859.88L548.78 697.68A64.50 64.50 0 0 0 549.49 698.51Z" fill="#90d3bc"/>
<path d="M546.06 694.24L332.51 851.49A329.70 329.70 0 0 1 328.82 846.38L545.34 693.24A64.50 64.50 0 0 0 546.06 694.24Z" fill="#aed4e0"/>
<path d="M545.34 693.24L328.82 846.38A329.70 329.70 0 0 1 324.84 840.62L544.56 692.12A64.50 64.50 0 0 0 545.34 693.24Z" fill="#bfe5d8"/>
<path d="M544.56 692.12L324.84 840.62A329.70 329.70 0 0 1 320.98 834.78L543.81 690.98A64.50 64.50 0 0 0 544.56 692.12Z" fill="#bfe5d8"/>
<path d="M543.81 690.98L320.98 834.78A329.70 329.70 0 0 1 317.25 828.86L543.08 689.82A64.50 64.50 0 0 0 543.81 690.98Z" fill="#bfe5d8"/>
<path d="M543.08 689.82L317.25 828.86A329.70 329.70 0 0 1 314.00 823.47L542.44 688.76A64.50 64.50 0 0 0 543.08 689.82Z" fill="#bfe5d8"/>
<path d="M546.06 694.24L332.51 851.49A329.70 329.70 0 0 1 329.23 846.95L545.42 693.36A64.50 64.50 0 0 0 546.06 694.24Z" fill="#73b4c9"/>
<path d="M545.26 693.13L328.42 845.81A329.70 329.70 0 0 1 325.23 841.20L544.64 692.23A64.50 64.50 0 0 0 545.26 693.13Z" fill="#90d3bc"/>
<path d="M544.48 692.00L324.45 840.04A329.70 329.70 0 0 1 321.36 835.37L543.88 691.09A64.50 64.50 0 0 0 544.48 692.00Z" fill="#90d3bc"/>
<path d="M543.73 690.86L320.60 834.20A329.70 329.70 0 0 1 317.62 829.46L543.15 689.93A64.50 64.50 0 0 0 543.73 690.86Z" fill="#90d3bc"/>
<path d="M543.00 689.70L316.88 828.27A329.70 329.70 0 0 1 314.00 823.47L542.44 688.76A64.50 64.50 0 0 0 543.00 689.70Z" fill="#90d3bc"/>
<path d="M540.34 684.92L296.76 807.08A337.00 337.00 0 0 1 293.93 801.30L539.80 683.81A64.50 64.50 0 0 0 540.34 684.92Z" fill="#b3dadd"/>
<path d="M539.80 683.81L293.93 801.30A337.00 337.00 0 0 1 290.92 794.81L539.23 682.57A64.50 64.50 0 0 0 539.80 683.81Z" fill="#aed4e0"/>
<path d="M539.23 682.57L290.92 794.81A337.00 337.00 0 0 1 288.04 788.26L538.68 681.31A64.50 64.50 0 0 0 539.23 682.57Z" fill="#b3dadd"/>
<path d="M538.68 681.31L288.04 788.26A337.00 337.00 0 0 1 285.30 781.65L538.15 680.05A64.50 64.50 0 0 0 538.68 681.31Z" fill="#b9e0da"/>
<path d="M538.15 680.05L285.30 781.65A337.00 337.00 0 0 1 282.96 775.66L537.70 678.90A64.50 64.50 0 0 0 538.15 680.05Z" fill="#bfe5d8"/>
<path d="M540.34 684.92L296.76 807.08A337.00 337.00 0 0 1 294.24 801.94L539.86 683.93A64.50 64.50 0 0 0 540.34 684.92Z" fill="#7cbfc4"/>
<path d="M539.74 683.69L293.62 800.65A337.00 337.00 0 0 1 291.21 795.46L539.28 682.69A64.50 64.50 0 0 0 539.74 683.69Z" fill="#73b4c9"/>
<path d="M539.17 682.44L290.62 794.16A337.00 337.00 0 0 1 288.32 788.92L538.73 681.44A64.50 64.50 0 0 0 539.17 682.44Z" fill="#7cbfc4"/>
<path d="M538.62 681.19L287.76 787.60A337.00 337.00 0 0 1 285.57 782.32L538.20 680.18A64.50 64.50 0 0 0 538.62 681.19Z" fill="#86c9c0"/>
<path d="M538.10 679.92L285.04 780.99A337.00 337.00 0 0 1 282.96 775.66L537.70 678.90A64.50 64.50 0 0 0 538.10 679.92Z" fill="#90d3bc"/>
<path d="M536.29 674.76L305.22 744.98A306.00 306.00 0 0 1 303.58 739.37L535.94 673.57A64.50 64.50 0 0 0 536.29 674.76Z" fill="#c6e8d8"/>
<path d="M535.94 673.57L303.58 739.37A306.00 306.00 0 0 1 301.87 733.11L535.58 672.25A64.50 64.50 0 0 0 535.94 673.57Z" fill="#c6e8d8"/>
<path d="M535.58 672.25L301.87 733.11A306.00 306.00 0 0 1 300.30 726.80L535.25 670.92A64.50 64.50 0 0 0 535.58 672.25Z" fill="#c6e8d8"/>
<path d="M535.25 670.92L300.30 726.80A306.00 306.00 0 0 1 298.87 720.47L534.95 669.59A64.50 64.50 0 0 0 535.25 670.92Z" fill="#c6e8d8"/>
<path d="M534.95 669.59L298.87 720.47A306.00 306.00 0 0 1 297.69 714.74L534.70 668.38A64.50 64.50 0 0 0 534.95 669.59Z" fill="#c6e8d8"/>
<path d="M536.29 674.76L305.22 744.98A306.00 306.00 0 0 1 303.75 740.00L535.98 673.71A64.50 64.50 0 0 0 536.29 674.76Z" fill="#9dd8bc"/>
<path d="M535.90 673.44L303.40 738.75A306.00 306.00 0 0 1 302.04 733.73L535.62 672.39A64.50 64.50 0 0 0 535.90 673.44Z" fill="#9dd8bc"/>
<path d="M535.55 672.12L301.71 732.48A306.00 306.00 0 0 1 300.45 727.43L535.28 671.06A64.50 64.50 0 0 0 535.55 672.12Z" fill="#9dd8bc"/>
<path d="M535.22 670.79L300.15 726.17A306.00 306.00 0 0 1 299.01 721.10L534.98 669.72A64.50 64.50 0 0 0 535.22 670.79Z" fill="#9dd8bc"/>
<path d="M534.92 669.45L298.73 719.83A306.00 306.00 0 0 1 297.69 714.74L534.70 668.38A64.50 64.50 0 0 0 534.92 669.45Z" fill="#9dd8bc"/>
<path d="M534.01 664.06L279.91 696.05A320.60 320.60 0 0 1 279.20 689.96L533.86 662.83A64.50 64.50 0 0 0 534.01 664.06Z" fill="#b9e0da"/>
<path d="M533.86 662.83L279.20 689.96A320.60 320.60 0 0 1 278.55 683.19L533.73 661.47A64.50 64.50 0 0 0 533.86 662.83Z" fill="#bfe5d8"/>
<path d="M533.73 661.47L278.55 683.19A320.60 320.60 0 0 1 278.05 676.40L533.63 660.10A64.50 64.50 0 0 0 533.73 661.47Z" fill="#bfe5d8"/>
<path d="M533.63 660.10L278.05 676.40A320.60 320.60 0 0 1 277.69 669.61L533.56 658.74A64.50 64.50 0 0 0 533.63 660.10Z" fill="#bfe5d8"/>
<path d="M533.56 658.74L277.69 669.61A320.60 320.60 0 0 1 277.49 663.49L533.52 657.51A64.50 64.50 0 0 0 533.56 658.74Z" fill="#d1ecd8"/>
<path d="M534.01 664.06L279.91 696.05A320.60 320.60 0 0 1 279.28 690.64L533.88 662.97A64.50 64.50 0 0 0 534.01 664.06Z" fill="#86c9c0"/>
<path d="M533.85 662.70L279.13 689.29A320.60 320.60 0 0 1 278.61 683.87L533.74 661.61A64.50 64.50 0 0 0 533.85 662.70Z" fill="#90d3bc"/>
<path d="M533.72 661.33L278.50 682.51A320.60 320.60 0 0 1 278.09 677.08L533.64 660.24A64.50 64.50 0 0 0 533.72 661.33Z" fill="#90d3bc"/>
<path d="M533.62 659.97L278.01 675.72A320.60 320.60 0 0 1 277.72 670.29L533.56 658.87A64.50 64.50 0 0 0 533.62 659.97Z" fill="#90d3bc"/>
<path d="M533.55 658.60L277.66 668.93A320.60 320.60 0 0 1 277.49 663.49L533.52 657.51A64.50 64.50 0 0 0 533.55 658.60Z" fill="#afdfbc"/>
<path d="M533.56 653.13L283.31 641.96A315.00 315.00 0 0 1 283.64 635.95L533.63 651.90A64.50 64.50 0 0 0 533.56 653.13Z" fill="#b9e0da"/>
<path d="M533.63 651.90L283.64 635.95A315.00 315.00 0 0 1 284.13 629.29L533.73 650.53A64.50 64.50 0 0 0 533.63 651.90Z" fill="#b9e0da"/>
<path d="M533.73 650.53L284.13 629.29A315.00 315.00 0 0 1 284.77 622.63L533.86 649.17A64.50 64.50 0 0 0 533.73 650.53Z" fill="#bfe5d8"/>
<path d="M533.86 649.17L284.77 622.63A315.00 315.00 0 0 1 285.55 615.99L534.02 647.81A64.50 64.50 0 0 0 533.86 649.17Z" fill="#bfe5d8"/>
<path d="M534.02 647.81L285.55 615.99A315.00 315.00 0 0 1 286.37 610.03L534.19 646.59A64.50 64.50 0 0 0 534.02 647.81Z" fill="#c6e8d8"/>
<path d="M533.56 653.13L283.31 641.96A315.00 315.00 0 0 1 283.60 636.62L533.62 652.03A64.50 64.50 0 0 0 533.56 653.13Z" fill="#86c9c0"/>
<path d="M533.64 651.76L283.68 635.29A315.00 315.00 0 0 1 284.08 629.95L533.72 650.67A64.50 64.50 0 0 0 533.64 651.76Z" fill="#86c9c0"/>
<path d="M533.74 650.39L284.19 628.62A315.00 315.00 0 0 1 284.70 623.30L533.85 649.30A64.50 64.50 0 0 0 533.74 650.39Z" fill="#90d3bc"/>
<path d="M533.88 649.03L284.84 621.97A315.00 315.00 0 0 1 285.47 616.65L534.01 647.94A64.50 64.50 0 0 0 533.88 649.03Z" fill="#90d3bc"/>
<path d="M534.04 647.67L285.64 615.33A315.00 315.00 0 0 1 286.37 610.03L534.19 646.59A64.50 64.50 0 0 0 534.04 647.67Z" fill="#9dd8bc"/>
<path d="M534.98 642.28L278.49 586.43A327.00 327.00 0 0 1 279.87 580.34L535.25 641.08A64.50 64.50 0 0 0 534.98 642.28Z" fill="#b3dadd"/>
<path d="M535.25 641.08L279.87 580.34A327.00 327.00 0 0 1 281.55 573.60L535.58 639.75A64.50 64.50 0 0 0 535.25 641.08Z" fill="#b3dadd"/>
<path d="M535.58 639.75L281.55 573.60A327.00 327.00 0 0 1 283.37 566.90L535.94 638.43A64.50 64.50 0 0 0 535.58 639.75Z" fill="#b9e0da"/>
<path d="M535.94 638.43L283.37 566.90A327.00 327.00 0 0 1 285.33 560.25L536.33 637.11A64.50 64.50 0 0 0 535.94 638.43Z" fill="#b3dadd"/>
<path d="M536.33 637.11L285.33 560.25A327.00 327.00 0 0 1 287.22 554.29L536.70 635.94A64.50 64.50 0 0 0 536.33 637.11Z" fill="#aed4e0"/>
<path d="M534.98 642.28L278.49 586.43A327.00 327.00 0 0 1 279.71 581.01L535.22 641.21A64.50 64.50 0 0 0 534.98 642.28Z" fill="#7cbfc4"/>
<path d="M535.28 640.94L280.04 579.66A327.00 327.00 0 0 1 281.38 574.28L535.55 639.88A64.50 64.50 0 0 0 535.28 640.94Z" fill="#7cbfc4"/>
<path d="M535.62 639.61L281.73 572.93A327.00 327.00 0 0 1 283.18 567.57L535.90 638.56A64.50 64.50 0 0 0 535.62 639.61Z" fill="#86c9c0"/>
<path d="M535.98 638.29L283.56 566.24A327.00 327.00 0 0 1 285.13 560.91L536.29 637.24A64.50 64.50 0 0 0 535.98 638.29Z" fill="#7cbfc4"/>
<path d="M536.37 636.98L285.54 559.58A327.00 327.00 0 0 1 287.22 554.29L536.70 635.94A64.50 64.50 0 0 0 536.37 636.98Z" fill="#73b4c9"/>
<path d="M538.20 631.82L304.57 537.37A316.50 316.50 0 0 1 306.89 531.78L538.68 630.69A64.50 64.50 0 0 0 538.20 631.82Z" fill="#bfe5d8"/>
<path d="M538.68 630.69L306.89 531.78A316.50 316.50 0 0 1 309.60 525.63L539.23 629.43A64.50 64.50 0 0 0 538.68 630.69Z" fill="#bfe5d8"/>
<path d="M539.23 629.43L309.60 525.63A316.50 316.50 0 0 1 312.43 519.54L539.80 628.19A64.50 64.50 0 0 0 539.23 629.43Z" fill="#bfe5d8"/>
<path d="M539.80 628.19L312.43 519.54A316.50 316.50 0 0 1 315.39 513.51L540.41 626.96A64.50 64.50 0 0 0 539.80 628.19Z" fill="#bfe5d8"/>
<path d="M540.41 626.96L315.39 513.51A316.50 316.50 0 0 1 318.16 508.14L540.97 625.87A64.50 64.50 0 0 0 540.41 626.96Z" fill="#bfe5d8"/>
<path d="M538.20 631.82L304.57 537.37A316.50 316.50 0 0 1 306.63 532.40L538.62 630.81A64.50 64.50 0 0 0 538.20 631.82Z" fill="#90d3bc"/>
<path d="M538.73 630.56L307.16 531.17A316.50 316.50 0 0 1 309.32 526.25L539.17 629.56A64.50 64.50 0 0 0 538.73 630.56Z" fill="#90d3bc"/>
<path d="M539.28 629.31L309.87 525.02A316.50 316.50 0 0 1 312.14 520.15L539.74 628.31A64.50 64.50 0 0 0 539.28 629.31Z" fill="#90d3bc"/>
<path d="M539.86 628.07L312.72 518.94A316.50 316.50 0 0 1 315.09 514.11L540.34 627.08A64.50 64.50 0 0 0 539.86 628.07Z" fill="#90d3bc"/>
<path d="M540.47 626.84L315.69 512.91A316.50 316.50 0 0 1 318.16 508.14L540.97 625.87A64.50 64.50 0 0 0 540.47 626.84Z" fill="#90d3bc"/>
<path d="M543.15 622.07L355.21 505.79A285.50 285.50 0 0 1 358.12 501.18L543.81 621.02A64.50 64.50 0 0 0 543.15 622.07Z" fill="#bfe5d8"/>
<path d="M543.81 621.02L358.12 501.18A285.50 285.50 0 0 1 361.46 496.13L544.56 619.88A64.50 64.50 0 0 0 543.81 621.02Z" fill="#bfe5d8"/>
<path d="M544.56 619.88L361.46 496.13A285.50 285.50 0 0 1 364.91 491.14L545.34 618.76A64.50 64.50 0 0 0 544.56 619.88Z" fill="#bfe5d8"/>
<path d="M545.34 618.76L364.91 491.14A285.50 285.50 0 0 1 368.46 486.23L546.14 617.65A64.50 64.50 0 0 0 545.34 618.76Z" fill="#bfe5d8"/>
<path d="M546.14 617.65L368.46 486.23A285.50 285.50 0 0 1 371.74 481.88L546.88 616.66A64.50 64.50 0 0 0 546.14 617.65Z" fill="#aed4e0"/>
<path d="M543.15 622.07L355.21 505.79A285.50 285.50 0 0 1 357.79 501.69L543.73 621.14A64.50 64.50 0 0 0 543.15 622.07Z" fill="#90d3bc"/>
<path d="M543.88 620.91L358.45 500.68A285.50 285.50 0 0 1 361.12 496.63L544.48 620.00A64.50 64.50 0 0 0 543.88 620.91Z" fill="#90d3bc"/>
<path d="M544.64 619.77L361.80 495.63A285.50 285.50 0 0 1 364.56 491.64L545.26 618.87A64.50 64.50 0 0 0 544.64 619.77Z" fill="#90d3bc"/>
<path d="M545.42 618.64L365.26 490.65A285.50 285.50 0 0 1 368.10 486.72L546.06 617.76A64.50 64.50 0 0 0 545.42 618.64Z" fill="#90d3bc"/>
<path d="M546.22 617.54L368.82 485.75A285.50 285.50 0 0 1 371.74 481.88L546.88 616.66A64.50 64.50 0 0 0 546.22 617.54Z" fill="#73b4c9"/>
<path d="M549.67 613.28L360.48 446.06A317.00 317.00 0 0 1 364.54 441.56L550.50 612.37A64.50 64.50 0 0 0 549.67 613.28Z" fill="#aed4e0"/>
<path d="M550.50 612.37L364.54 441.56A317.00 317.00 0 0 1 369.14 436.66L551.43 611.37A64.50 64.50 0 0 0 550.50 612.37Z" fill="#bfe5d8"/>
<path d="M551.43 611.37L369.14 436.66A317.00 317.00 0 0 1 373.85 431.85L552.39 610.39A64.50 64.50 0 0 0 551.43 611.37Z" fill="#bfe5d8"/>
<path d="M552.39 610.39L373.85 431.85A317.00 317.00 0 0 1 378.66 427.14L553.37 609.43A64.50 64.50 0 0 0 552.39 610.39Z" fill="#bfe5d8"/>
<path d="M553.37 609.43L378.66 427.14A317.00 317.00 0 0 1 383.07 422.99L554.27 608.59A64.50 64.50 0 0 0 553.37 609.43Z" fill="#bfe5d8"/>
<path d="M549.67 613.28L360.48 446.06A317.00 317.00 0 0 1 364.08 442.06L550.40 612.47A64.50 64.50 0 0 0 549.67 613.28Z" fill="#73b4c9"/>
<path d="M550.59 612.27L364.99 441.07A317.00 317.00 0 0 1 368.67 437.14L551.34 611.47A64.50 64.50 0 0 0 550.59 612.27Z" fill="#90d3bc"/>
<path d="M551.53 611.27L369.61 436.17A317.00 317.00 0 0 1 373.37 432.32L552.29 610.49A64.50 64.50 0 0 0 551.53 611.27Z" fill="#90d3bc"/>
<path d="M552.49 610.29L374.32 431.37A317.00 317.00 0 0 1 378.17 427.61L553.27 609.53A64.50 64.50 0 0 0 552.49 610.29Z" fill="#90d3bc"/>
<path d="M553.47 609.34L379.14 426.67A317.00 317.00 0 0 1 383.07 422.99L554.27 608.59A64.50 64.50 0 0 0 553.47 609.34Z" fill="#90d3bc"/>
<path d="M557.59 605.73L405.02 415.95A308.00 308.00 0 0 1 409.64 412.31L558.55 604.97A64.50 64.50 0 0 0 557.59 605.73Z" fill="#bfe5d8"/>
<path d="M558.55 604.97L409.64 412.31A308.00 308.00 0 0 1 414.85 408.37L559.65 604.14A64.50 64.50 0 0 0 558.55 604.97Z" fill="#bfe5d8"/>
<path d="M559.65 604.14L414.85 408.37A308.00 308.00 0 0 1 420.15 404.54L560.76 603.34A64.50 64.50 0 0 0 559.65 604.14Z" fill="#bfe5d8"/>
<path d="M560.76 603.34L420.15 404.54A308.00 308.00 0 0 1 425.53 400.82L561.88 602.56A64.50 64.50 0 0 0 560.76 603.34Z" fill="#bfe5d8"/>
<path d="M561.88 602.56L425.53 400.82A308.00 308.00 0 0 1 430.43 397.57L562.91 601.88A64.50 64.50 0 0 0 561.88 602.56Z" fill="#aed4e0"/>
<path d="M557.59 605.73L405.02 415.95A308.00 308.00 0 0 1 409.12 412.71L558.45 605.05A64.50 64.50 0 0 0 557.59 605.73Z" fill="#90d3bc"/>
<path d="M558.66 604.88L410.16 411.91A308.00 308.00 0 0 1 414.33 408.76L559.54 604.22A64.50 64.50 0 0 0 558.66 604.88Z" fill="#90d3bc"/>
<path d="M559.76 604.06L415.38 407.98A308.00 308.00 0 0 1 419.62 404.92L560.64 603.42A64.50 64.50 0 0 0 559.76 604.06Z" fill="#90d3bc"/>
<path d="M560.87 603.26L420.68 404.16A308.00 308.00 0 0 1 424.99 401.19L561.77 602.64A64.50 64.50 0 0 0 560.87 603.26Z" fill="#90d3bc"/>
<path d="M562.00 602.48L426.07 400.45A308.00 308.00 0 0 1 430.43 397.57L562.91 601.88A64.50 64.50 0 0 0 562.00 602.48Z" fill="#73b4c9"/>
<path d="M566.66 599.62L438.64 369.31A328.00 328.00 0 0 1 444.15 366.32L567.75 599.04A64.50 64.50 0 0 0 566.66 599.62Z" fill="#bfe5d8"/>
<path d="M567.75 599.04L444.15 366.32A328.00 328.00 0 0 1 450.33 363.12L568.96 598.41A64.50 64.50 0 0 0 567.75 599.04Z" fill="#bfe5d8"/>
<path d="M568.96 598.41L450.33 363.12A328.00 328.00 0 0 1 456.58 360.05L570.19 597.80A64.50 64.50 0 0 0 568.96 598.41Z" fill="#bfe5d8"/>
<path d="M570.19 597.80L456.58 360.05A328.00 328.00 0 0 1 462.90 357.12L571.43 597.23A64.50 64.50 0 0 0 570.19 597.80Z" fill="#bfe5d8"/>
<path d="M571.43 597.23L462.90 357.12A328.00 328.00 0 0 1 468.63 354.59L572.56 596.73A64.50 64.50 0 0 0 571.43 597.23Z" fill="#bfe5d8"/>
<path d="M566.66 599.62L438.64 369.31A328.00 328.00 0 0 1 443.54 366.65L567.63 599.10A64.50 64.50 0 0 0 566.66 599.62Z" fill="#90d3bc"/>
<path d="M567.87 598.97L444.77 365.99A328.00 328.00 0 0 1 449.71 363.43L568.84 598.47A64.50 64.50 0 0 0 567.87 598.97Z" fill="#90d3bc"/>
<path d="M569.08 598.34L450.96 362.81A328.00 328.00 0 0 1 455.96 360.35L570.07 597.86A64.50 64.50 0 0 0 569.08 598.34Z" fill="#90d3bc"/>
<path d="M570.31 597.74L457.21 359.75A328.00 328.00 0 0 1 462.26 357.40L571.31 597.28A64.50 64.50 0 0 0 570.31 597.74Z" fill="#90d3bc"/>
<path d="M571.56 597.17L463.53 356.83A328.00 328.00 0 0 1 468.63 354.59L572.56 596.73A64.50 64.50 0 0 0 571.56 597.17Z" fill="#90d3bc"/>
<path d="M576.64 595.14L495.35 363.49A310.00 310.00 0 0 1 500.95 361.58L577.81 594.74A64.50 64.50 0 0 0 576.64 595.14Z" fill="#b3dadd"/>
<path d="M577.81 594.74L500.95 361.58A310.00 310.00 0 0 1 507.22 359.59L579.11 594.33A64.50 64.50 0 0 0 577.81 594.74Z" fill="#aed4e0"/>
<path d="M579.11 594.33L507.22 359.59A310.00 310.00 0 0 1 513.54 357.73L580.43 593.94A64.50 64.50 0 0 0 579.11 594.33Z" fill="#a7cce3"/>
<path d="M580.43 593.94L513.54 357.73A310.00 310.00 0 0 1 519.89 356.00L581.75 593.58A64.50 64.50 0 0 0 580.43 593.94Z" fill="#b3dadd"/>
<path d="M581.75 593.58L519.89 356.00A310.00 310.00 0 0 1 525.63 354.57L582.94 593.28A64.50 64.50 0 0 0 581.75 593.58Z" fill="#bfe5d8"/>
<path d="M576.64 595.14L495.35 363.49A310.00 310.00 0 0 1 500.33 361.79L577.68 594.79A64.50 64.50 0 0 0 576.64 595.14Z" fill="#7cbfc4"/>
<path d="M577.94 594.70L501.58 361.38A310.00 310.00 0 0 1 506.60 359.78L578.98 594.37A64.50 64.50 0 0 0 577.94 594.70Z" fill="#73b4c9"/>
<path d="M579.24 594.29L507.85 359.40A310.00 310.00 0 0 1 512.90 357.91L580.29 593.98A64.50 64.50 0 0 0 579.24 594.29Z" fill="#67a7ce"/>
<path d="M580.56 593.90L514.17 357.55A310.00 310.00 0 0 1 519.25 356.17L581.61 593.62A64.50 64.50 0 0 0 580.56 593.90Z" fill="#7cbfc4"/>
<path d="M581.88 593.55L520.52 355.84A310.00 310.00 0 0 1 525.63 354.57L582.94 593.28A64.50 64.50 0 0 0 581.88 593.55Z" fill="#90d3bc"/>
<path d="M587.23 592.40L582.14 562.33A95.00 95.00 0 0 1 583.94 562.05L588.45 592.21A64.50 64.50 0 0 0 587.23 592.40Z" fill="#f3b6b1"/>
<path d="M588.45 592.21L583.94 562.05A95.00 95.00 0 0 1 585.93 561.77L589.81 592.02A64.50 64.50 0 0 0 588.45 592.21Z" fill="#bfe5d8"/>
<path d="M589.81 592.02L585.93 561.77A95.00 95.00 0 0 1 587.94 561.53L591.17 591.86A64.50 64.50 0 0 0 589.81 592.02Z" fill="#bfe5d8"/>
<path d="M591.17 591.86L587.94 561.53A95.00 95.00 0 0 1 589.94 561.34L592.53 591.73A64.50 64.50 0 0 0 591.17 591.86Z" fill="#bfe5d8"/>
<path d="M592.53 591.73L589.94 561.34A95.00 95.00 0 0 1 591.75 561.21L593.76 591.64A64.50 64.50 0 0 0 592.53 591.73Z" fill="#bfe5d8"/>
<path d="M587.23 592.40L582.14 562.33A95.00 95.00 0 0 1 583.74 562.08L588.32 592.23A64.50 64.50 0 0 0 587.23 592.40Z" fill="#eb8278"/>
<path d="M588.59 592.19L584.14 562.02A95.00 95.00 0 0 1 585.73 561.80L589.67 592.04A64.50 64.50 0 0 0 588.59 592.19Z" fill="#90d3bc"/>
<path d="M589.94 592.01L586.13 561.74A95.00 95.00 0 0 1 587.74 561.56L591.03 591.88A64.50 64.50 0 0 0 589.94 592.01Z" fill="#90d3bc"/>
<path d="M591.30 591.85L588.14 561.51A95.00 95.00 0 0 1 589.74 561.36L592.39 591.74A64.50 64.50 0 0 0 591.30 591.85Z" fill="#90d3bc"/>
<path d="M592.67 591.72L590.14 561.33A95.00 95.00 0 0 1 591.75 561.21L593.76 591.64A64.50 64.50 0 0 0 592.67 591.72Z" fill="#90d3bc"/>
</g>
<g>
<path d="M620.64 462.82A194.50 194.50 0 0 1 628.85 463.96" fill="none" stroke="#dda0a6" stroke-width="1.10"/>
<path d="M625.16 424.29A233.30 233.30 0 0 1 635.00 425.65" fill="none" stroke="#c4122f" stroke-width="1.90"/>
<path d="M652.96 469.43A194.50 194.50 0 0 1 660.86 471.94" fill="none" stroke="#dda0a6" stroke-width="1.10"/>
<path d="M663.93 432.21A233.30 233.30 0 0 1 673.40 435.22" fill="none" stroke="#c4122f" stroke-width="1.90"/>
<path d="M683.70 481.40A194.50 194.50 0 0 1 691.06 485.21" fill="none" stroke="#dda0a6" stroke-width="1.10"/>
<path d="M700.80 446.57A233.30 233.30 0 0 1 709.62 451.14" fill="none" stroke="#c4122f" stroke-width="1.90"/>
<path d="M711.98 498.40A194.50 194.50 0 0 1 718.59 503.39" fill="none" stroke="#dda0a6" stroke-width="1.10"/>
<path d="M734.72 466.96A233.30 233.30 0 0 1 742.64 472.95" fill="none" stroke="#c4122f" stroke-width="1.90"/>
<path d="M736.98 519.93A194.50 194.50 0 0 1 742.64 525.97" fill="none" stroke="#dda0a6" stroke-width="1.10"/>
<path d="M764.70 492.78A233.30 233.30 0 0 1 771.50 500.03" fill="none" stroke="#c4122f" stroke-width="1.90"/>
<path d="M757.97 545.37A194.50 194.50 0 0 1 762.54 552.28" fill="none" stroke="#dda0a6" stroke-width="1.10"/>
<path d="M789.89 523.30A233.30 233.30 0 0 1 795.36 531.59" fill="none" stroke="#c4122f" stroke-width="1.90"/>
<path d="M774.37 574.00A194.50 194.50 0 0 1 777.70 581.58" fill="none" stroke="#dda0a6" stroke-width="1.10"/>
<path d="M809.55 557.64A233.30 233.30 0 0 1 813.55 566.73" fill="none" stroke="#c4122f" stroke-width="1.90"/>
<path d="M785.69 604.98A194.50 194.50 0 0 1 787.69 613.02" fill="none" stroke="#dda0a6" stroke-width="1.10"/>
<path d="M823.13 594.81A233.30 233.30 0 0 1 825.53 604.45" fill="none" stroke="#c4122f" stroke-width="1.90"/>
<path d="M791.61 637.44A194.50 194.50 0 0 1 792.23 645.70" fill="none" stroke="#dda0a6" stroke-width="1.10"/>
<path d="M830.23 633.73A233.30 233.30 0 0 1 830.97 643.64" fill="none" stroke="#c4122f" stroke-width="1.90"/>
<path d="M791.96 670.42A194.50 194.50 0 0 1 791.17 678.67" fill="none" stroke="#dda0a6" stroke-width="1.10"/>
<path d="M830.66 673.30A233.30 233.30 0 0 1 829.71 683.19" fill="none" stroke="#c4122f" stroke-width="1.90"/>
<path d="M786.74 703.00A194.50 194.50 0 0 1 784.56 710.99" fill="none" stroke="#dda0a6" stroke-width="1.10"/>
<path d="M824.39 712.37A233.30 233.30 0 0 1 821.78 721.96" fill="none" stroke="#c4122f" stroke-width="1.90"/>
<path d="M776.08 734.22A194.50 194.50 0 0 1 772.59 741.73" fill="none" stroke="#dda0a6" stroke-width="1.10"/>
<path d="M811.60 749.82A233.30 233.30 0 0 1 807.42 758.83" fill="none" stroke="#c4122f" stroke-width="1.90"/>
<path d="M760.30 763.19A194.50 194.50 0 0 1 755.59 770.00" fill="none" stroke="#dda0a6" stroke-width="1.10"/>
<path d="M792.68 784.57A233.30 233.30 0 0 1 787.03 792.74" fill="none" stroke="#c4122f" stroke-width="1.90"/>
<path d="M739.85 789.07A194.50 194.50 0 0 1 734.06 794.99" fill="none" stroke="#dda0a6" stroke-width="1.10"/>
<path d="M768.15 815.62A233.30 233.30 0 0 1 761.20 822.72" fill="none" stroke="#c4122f" stroke-width="1.90"/>
<path d="M715.32 811.13A194.50 194.50 0 0 1 708.61 815.99" fill="none" stroke="#dda0a6" stroke-width="1.10"/>
<path d="M738.72 842.08A233.30 233.30 0 0 1 730.67 847.90" fill="none" stroke="#c4122f" stroke-width="1.90"/>
<path d="M687.41 828.73A194.50 194.50 0 0 1 679.98 832.38" fill="none" stroke="#dda0a6" stroke-width="1.10"/>
<path d="M705.25 863.19A233.30 233.30 0 0 1 696.33 867.56" fill="none" stroke="#c4122f" stroke-width="1.90"/>
<path d="M656.94 841.36A194.50 194.50 0 0 1 648.99 843.70" fill="none" stroke="#dda0a6" stroke-width="1.10"/>
<path d="M668.69 878.33A233.30 233.30 0 0 1 659.16 881.14" fill="none" stroke="#c4122f" stroke-width="1.90"/>
<path d="M624.76 848.65A194.50 194.50 0 0 1 616.54 849.61" fill="none" stroke="#dda0a6" stroke-width="1.10"/>
<path d="M630.10 887.08A233.30 233.30 0 0 1 620.24 888.24" fill="none" stroke="#c4122f" stroke-width="1.90"/>
<path d="M591.82 850.40A194.50 194.50 0 0 1 583.55 849.96" fill="none" stroke="#dda0a6" stroke-width="1.10"/>
<path d="M590.59 889.18A233.30 233.30 0 0 1 580.67 888.66" fill="none" stroke="#c4122f" stroke-width="1.90"/>
<path d="M559.06 846.56A194.50 194.50 0 0 1 550.98 844.73" fill="none" stroke="#dda0a6" stroke-width="1.10"/>
<path d="M551.29 884.58A233.30 233.30 0 0 1 541.60 882.38" fill="none" stroke="#c4122f" stroke-width="1.90"/>
<path d="M527.41 837.24A194.50 194.50 0 0 1 519.76 834.07" fill="none" stroke="#dda0a6" stroke-width="1.10"/>
<path d="M513.33 873.39A233.30 233.30 0 0 1 504.15 869.59" fill="none" stroke="#c4122f" stroke-width="1.90"/>
<path d="M497.80 822.70A194.50 194.50 0 0 1 490.79 818.28" fill="none" stroke="#dda0a6" stroke-width="1.10"/>
<path d="M477.81 855.96A233.30 233.30 0 0 1 469.40 850.66" fill="none" stroke="#c4122f" stroke-width="1.90"/>
<path d="M471.07 803.37A194.50 194.50 0 0 1 464.91 797.83" fill="none" stroke="#dda0a6" stroke-width="1.10"/>
<path d="M445.74 832.77A233.30 233.30 0 0 1 438.36 826.13" fill="none" stroke="#c4122f" stroke-width="1.90"/>
<path d="M447.99 779.80A194.50 194.50 0 0 1 442.85 773.30" fill="none" stroke="#dda0a6" stroke-width="1.10"/>
<path d="M418.06 804.49A233.30 233.30 0 0 1 411.90 796.70" fill="none" stroke="#c4122f" stroke-width="1.90"/>
<path d="M429.22 752.66A194.50 194.50 0 0 1 425.26 745.39" fill="none" stroke="#dda0a6" stroke-width="1.10"/>
<path d="M395.55 771.95A233.30 233.30 0 0 1 390.80 763.22" fill="none" stroke="#c4122f" stroke-width="1.90"/>
<path d="M415.31 722.75A194.50 194.50 0 0 1 412.64 714.91" fill="none" stroke="#dda0a6" stroke-width="1.10"/>
<path d="M378.87 736.07A233.30 233.30 0 0 1 375.66 726.66" fill="none" stroke="#c4122f" stroke-width="1.90"/>
<path d="M406.66 690.92A194.50 194.50 0 0 1 405.35 682.74" fill="none" stroke="#dda0a6" stroke-width="1.10"/>
<path d="M368.49 697.88A233.30 233.30 0 0 1 366.92 688.07" fill="none" stroke="#c4122f" stroke-width="1.90"/>
<path d="M403.51 658.08A194.50 194.50 0 0 1 403.60 649.80" fill="none" stroke="#dda0a6" stroke-width="1.10"/>
<path d="M364.71 658.49A233.30 233.30 0 0 1 364.82 648.56" fill="none" stroke="#c4122f" stroke-width="1.90"/>
<path d="M405.96 625.18A194.50 194.50 0 0 1 407.44 617.03" fill="none" stroke="#dda0a6" stroke-width="1.10"/>
<path d="M367.65 619.03A233.30 233.30 0 0 1 369.43 609.26" fill="none" stroke="#c4122f" stroke-width="1.90"/>
<path d="M413.93 593.17A194.50 194.50 0 0 1 416.77 585.39" fill="none" stroke="#dda0a6" stroke-width="1.10"/>
<path d="M377.21 580.63A233.30 233.30 0 0 1 380.62 571.30" fill="none" stroke="#c4122f" stroke-width="1.90"/>
<path d="M427.20 562.96A194.50 194.50 0 0 1 431.31 555.77" fill="none" stroke="#dda0a6" stroke-width="1.10"/>
<path d="M393.12 544.40A233.30 233.30 0 0 1 398.06 535.78" fill="none" stroke="#c4122f" stroke-width="1.90"/>
<path d="M445.38 535.43A194.50 194.50 0 0 1 450.65 529.05" fill="none" stroke="#dda0a6" stroke-width="1.10"/>
<path d="M414.93 511.38A233.30 233.30 0 0 1 421.25 503.72" fill="none" stroke="#c4122f" stroke-width="1.90"/>
<path d="M467.95 511.37A194.50 194.50 0 0 1 474.22 505.97" fill="none" stroke="#dda0a6" stroke-width="1.10"/>
<path d="M442.00 482.52A233.30 233.30 0 0 1 449.53 476.04" fill="none" stroke="#c4122f" stroke-width="1.90"/>
<path d="M494.26 491.48A194.50 194.50 0 0 1 501.36 487.21" fill="none" stroke="#dda0a6" stroke-width="1.10"/>
<path d="M473.56 458.66A233.30 233.30 0 0 1 482.08 453.54" fill="none" stroke="#c4122f" stroke-width="1.90"/>
<path d="M523.56 476.31A194.50 194.50 0 0 1 531.27 473.30" fill="none" stroke="#dda0a6" stroke-width="1.10"/>
<path d="M508.71 440.46A233.30 233.30 0 0 1 517.96 436.86" fill="none" stroke="#c4122f" stroke-width="1.90"/>
<path d="M554.99 466.31A194.50 194.50 0 0 1 563.11 464.66" fill="none" stroke="#dda0a6" stroke-width="1.10"/>
<path d="M546.42 428.47A233.30 233.30 0 0 1 556.15 426.48" fill="none" stroke="#c4122f" stroke-width="1.90"/>
</g>
<circle cx="598.00" cy="656.00" r="58.50" fill="none" stroke="#222" stroke-width="3.00" stroke-dasharray="3.9 5.29"/>
<g font-size="7.30" fill="#5c5c5c" text-anchor="middle">
<text transform="translate(602.73 210.33) rotate(-89.39)" dy="2.55">GSE22886_NAIVE_BCELL_VS_NEUTROPHIL_UP</text>
<text transform="translate(612.19 210.53) rotate(-88.18)" dy="2.55">GSE12366_PLASMA_CELL_VS_NAIVE_BCELL_DN</text>
<text transform="translate(621.64 210.93) rotate(-86.96)" dy="2.55">GSE29618_BCELL_VS_PDC_UP</text>
<text transform="translate(631.08 211.53) rotate(-85.74)" dy="2.55">GSE29618_BCELL_VS_MONOCYTE_DAY7_FLU_VACCINE_UP</text>
<text transform="translate(640.51 212.33) rotate(-84.53)" dy="2.55">GSE29618_BCELL_VS_PDC_DAY7_FLU_VACCINE_UP</text>
<text transform="translate(681.86 196.29) rotate(-79.66)" dy="2.55">AIZARANI_LIVER_C34_MHC_II_POS_B_CELLS</text>
<text transform="translate(691.60 198.17) rotate(-78.45)" dy="2.55">GO_B_CELL_ACTIVATION</text>
<text transform="translate(701.29 200.26) rotate(-77.23)" dy="2.55">GSE10325_BCELL_VS_MYELOID_UP</text>
<text transform="translate(710.94 202.55) rotate(-76.01)" dy="2.55">GSE10325_CD4_TCELL_VS_BCELL_DN</text>
<text transform="translate(720.54 205.05) rotate(-74.80)" dy="2.55">GSE10325_LUPUS_BCELL_VS_LUPUS_MYELOID_UP</text>
<text transform="translate(750.35 238.96) rotate(-69.93)" dy="2.55">GSE22886_NAIVE_BCELL_VS_NEUTROPHIL_UP</text>
<text transform="translate(759.17 242.28) rotate(-68.72)" dy="2.55">GSE29618_BCELL_VS_PDC_UP</text>
<text transform="translate(767.91 245.80) rotate(-67.50)" dy="2.55">GSE29618_BCELL_VS_MONOCYTE_DAY7_FLU_VACCINE_UP</text>
<text transform="translate(776.58 249.50) rotate(-66.28)" dy="2.55">GSE29618_BCELL_VS_PDC_DAY7_FLU_VACCINE_UP</text>
<text transform="translate(785.17 253.38) rotate(-65.07)" dy="2.55">GSE29618_BCELL_VS_MDC_UP</text>
<text transform="translate(807.95 289.36) rotate(-60.20)" dy="2.55">TARTE_PLASMA_CELL_VS_PLASMABLAST_DN</text>
<text transform="translate(815.69 293.90) rotate(-58.99)" dy="2.55">GSE42724_NAIVE_VS_B1_BCELL_DN</text>
<text transform="translate(823.33 298.60) rotate(-57.77)" dy="2.55">GSE22886_NAIVE_VS_IGM_MEMORY_BCELL_DN</text>
<text transform="translate(830.86 303.46) rotate(-56.55)" dy="2.55">GSE29618_BCELL_VS_MDC_DN</text>
<text transform="translate(838.29 308.49) rotate(-55.34)" dy="2.55">GSE13411_NAIVE_VS_MEMORY_BCELL_DN</text>
<text transform="translate(842.39 359.81) rotate(-50.47)" dy="2.55">GSE42724_NAIVE_VS_B1_BCELL_DN</text>
<text transform="translate(848.63 365.07) rotate(-49.26)" dy="2.55">GO_B_CELL_MEDIATED_IMMUNITY</text>
<text transform="translate(854.74 370.45) rotate(-48.04)" dy="2.55">GSE12366_NAIVE_VS_MEMORY_BCELL_DN</text>
<text transform="translate(860.75 375.96) rotate(-46.82)" dy="2.55">GSE13411_NAIVE_VS_IGM_MEMORY_BCELL_UP</text>
<text transform="translate(866.63 381.60) rotate(-45.61)" dy="2.55">GSE22886_NAIVE_VS_IGM_MEMORY_BCELL_DN</text>
<text transform="translate(885.37 408.44) rotate(-40.74)" dy="2.55">GSE42724_NAIVE_VS_B1_BCELL_DN</text>
<text transform="translate(890.56 414.60) rotate(-39.53)" dy="2.55">GSE22886_NAIVE_VS_IGM_MEMORY_BCELL_DN</text>
<text transform="translate(895.62 420.86) rotate(-38.31)" dy="2.55">GSE13411_NAIVE_VS_MEMORY_BCELL_DN</text>
<text transform="translate(900.55 427.23) rotate(-37.09)" dy="2.55">GSE22886_NAIVE_VS_IGG_IGA_MEMORY_BCELL_DN</text>
<text transform="translate(905.33 433.70) rotate(-35.88)" dy="2.55">GSE13411_NAIVE_VS_IGM_MEMORY_BCELL_DN</text>
<text transform="translate(943.39 448.36) rotate(-31.01)" dy="2.55">TARTE_PLASMA_CELL_VS_PLASMABLAST_DN</text>
<text transform="translate(947.72 455.74) rotate(-29.80)" dy="2.55">GSE29618_PRE_VS_DAY7_POST_LAIV_FLU_VACCINE_BCELL_UP</text>
<text transform="translate(951.89 463.20) rotate(-28.58)" dy="2.55">GSE42724_NAIVE_VS_B1_BCELL_DN</text>
<text transform="translate(955.90 470.76) rotate(-27.36)" dy="2.55">GSE22886_NAIVE_VS_IGM_MEMORY_BCELL_DN</text>
<text transform="translate(959.75 478.40) rotate(-26.15)" dy="2.55">GSE29618_BCELL_VS_MDC_DN</text>
<text transform="translate(1052.72 478.86) rotate(-21.28)" dy="2.55">AIZARANI_LIVER_C34_MHC_II_POS_B_CELLS</text>
<text transform="translate(1056.37 488.55) rotate(-20.07)" dy="2.55">DURANTE_ADULT_OLFACTORY_NEUROEPITHELIUM_B_CELLS</text>
<text transform="translate(1059.82 498.32) rotate(-18.85)" dy="2.55">FAN_EMBRYONIC_CTX_BRAIN_B_CELL</text>
<text transform="translate(1063.07 508.16) rotate(-17.64)" dy="2.55">GO_B_CELL_ACTIVATION</text>
<text transform="translate(1066.10 518.06) rotate(-16.42)" dy="2.55">GO_B_CELL_MEDIATED_IMMUNITY</text>
<text transform="translate(955.60 582.89) rotate(-11.55)" dy="2.55">TARTE_PLASMA_CELL_VS_PLASMABLAST_DN</text>
<text transform="translate(957.07 590.50) rotate(-10.34)" dy="2.55">GSE12845_NAIVE_VS_PRE_GC_TONSIL_BCELL_DN</text>
<text transform="translate(958.38 598.14) rotate(-9.12)" dy="2.55">GSE12366_GC_VS_MEMORY_BCELL_UP</text>
<text transform="translate(959.53 605.80) rotate(-7.91)" dy="2.55">GSE21063_CTRL_VS_ANTI_IGM_STIM_BCELL_NFATC1_KO_8H_DN</text>
<text transform="translate(960.52 613.48) rotate(-6.69)" dy="2.55">GSE12366_GC_VS_NAIVE_BCELL_UP</text>
<text transform="translate(1077.76 640.72) rotate(-1.82)" dy="2.55">GSE22886_NAIVE_BCELL_VS_NEUTROPHIL_UP</text>
<text transform="translate(1077.97 650.91) rotate(-0.61)" dy="2.55">GSE12366_PLASMA_CELL_VS_NAIVE_BCELL_DN</text>
<text transform="translate(1077.97 661.09) rotate(0.61)" dy="2.55">GSE13411_PLASMA_CELL_VS_MEMORY_BCELL_DN</text>
<text transform="translate(1077.76 671.28) rotate(1.82)" dy="2.55">GSE22886_IGG_IGA_MEMORY_BCELL_VS_BM_PLASMA_CELL_UP</text>
<text transform="translate(1077.32 681.46) rotate(3.04)" dy="2.55">GSE22886_IGM_MEMORY_BCELL_VS_BM_PLASMA_CELL_UP</text>
<text transform="translate(1068.49 721.33) rotate(7.91)" dy="2.55">GSE12366_PLASMA_CELL_VS_NAIVE_BCELL_DN</text>
<text transform="translate(1066.99 731.30) rotate(9.12)" dy="2.55">GSE13411_PLASMA_CELL_VS_MEMORY_BCELL_DN</text>
<text transform="translate(1065.29 741.24) rotate(10.34)" dy="2.55">GSE22886_IGG_IGA_MEMORY_BCELL_VS_BM_PLASMA_CELL_UP</text>
<text transform="translate(1063.37 751.14) rotate(11.55)" dy="2.55">GSE22886_NAIVE_BCELL_VS_NEUTROPHIL_UP</text>
<text transform="translate(1061.25 761.00) rotate(12.77)" dy="2.55">GSE29618_BCELL_VS_PDC_DAY7_FLU_VACCINE_UP</text>
<text transform="translate(1005.41 785.51) rotate(17.64)" dy="2.55">GSE29618_BCELL_VS_MONOCYTE_UP</text>
<text transform="translate(1002.57 794.13) rotate(18.85)" dy="2.55">GSE10325_BCELL_VS_MYELOID_UP</text>
<text transform="translate(999.55 802.69) rotate(20.07)" dy="2.55">GSE22886_NAIVE_BCELL_VS_BLOOD_PLASMA_CELL_UP</text>
<text transform="translate(996.34 811.18) rotate(21.28)" dy="2.55">GSE22886_NAIVE_BCELL_VS_NEUTROPHIL_UP</text>
<text transform="translate(992.96 819.60) rotate(22.50)" dy="2.55">GSE10325_LUPUS_BCELL_VS_LUPUS_MYELOID_UP</text>
<text transform="translate(1047.38 888.59) rotate(27.36)" dy="2.55">GSE12366_PLASMA_CELL_VS_NAIVE_BCELL_DN</text>
<text transform="translate(1042.34 898.07) rotate(28.58)" dy="2.55">GSE13411_PLASMA_CELL_VS_MEMORY_BCELL_DN</text>
<text transform="translate(1037.10 907.45) rotate(29.80)" dy="2.55">GSE22886_IGG_IGA_MEMORY_BCELL_VS_BM_PLASMA_CELL_UP</text>
<text transform="translate(1031.67 916.71) rotate(31.01)" dy="2.55">GSE22886_NAIVE_BCELL_VS_NEUTROPHIL_UP</text>
<text transform="translate(1026.03 925.86) rotate(32.23)" dy="2.55">GSE13411_SWITCHED_MEMORY_BCELL_VS_PLASMA_CELL_UP</text>
<text transform="translate(938.59 913.54) rotate(37.09)" dy="2.55">GSE22886_NAIVE_BCELL_VS_NEUTROPHIL_UP</text>
<text transform="translate(933.05 920.71) rotate(38.31)" dy="2.55">GSE29618_BCELL_VS_MONOCYTE_DAY7_FLU_VACCINE_UP</text>
<text transform="translate(927.36 927.76) rotate(39.53)" dy="2.55">GSE29618_BCELL_VS_MDC_DAY7_FLU_VACCINE_UP</text>
<text transform="translate(921.51 934.69) rotate(40.74)" dy="2.55">GO_B_CELL_ACTIVATION</text>
<text transform="translate(915.52 941.49) rotate(41.96)" dy="2.55">GSE10325_CD4_TCELL_VS_BCELL_DN</text>
<text transform="translate(913.43 992.19) rotate(46.82)" dy="2.55">AIZARANI_LIVER_C34_MHC_II_POS_B_CELLS</text>
<text transform="translate(906.23 998.81) rotate(48.04)" dy="2.55">GSE12366_GC_VS_MEMORY_BCELL_DN</text>
<text transform="translate(898.88 1005.27) rotate(49.26)" dy="2.55">GSE22886_IGG_IGA_MEMORY_BCELL_VS_BLOOD_PLASMA_CELL_UP</text>
<text transform="translate(891.40 1011.58) rotate(50.47)" dy="2.55">TARTE_PLASMA_CELL_VS_PLASMABLAST_UP</text>
<text transform="translate(883.79 1017.73) rotate(51.69)" dy="2.55">GSE10325_LUPUS_CD4_TCELL_VS_LUPUS_BCELL_DN</text>
<text transform="translate(860.07 1052.76) rotate(56.55)" dy="2.55">AIZARANI_LIVER_C34_MHC_II_POS_B_CELLS</text>
<text transform="translate(851.59 1058.23) rotate(57.77)" dy="2.55">FAN_EMBRYONIC_CTX_BRAIN_B_CELL</text>
<text transform="translate(843.00 1063.53) rotate(58.99)" dy="2.55">GO_B_CELL_ACTIVATION</text>
<text transform="translate(834.29 1068.63) rotate(60.20)" dy="2.55">GSE10325_BCELL_VS_MYELOID_UP</text>
<text transform="translate(825.48 1073.56) rotate(61.42)" dy="2.55">GSE10325_CD4_TCELL_VS_BCELL_DN</text>
<text transform="translate(773.56 1055.64) rotate(66.28)" dy="2.55">AIZARANI_LIVER_C34_MHC_II_POS_B_CELLS</text>
<text transform="translate(765.04 1059.27) rotate(67.50)" dy="2.55">FAN_EMBRYONIC_CTX_BRAIN_B_CELL</text>
<text transform="translate(756.44 1062.73) rotate(68.72)" dy="2.55">GSE10325_LUPUS_CD4_TCELL_VS_LUPUS_BCELL_UP</text>
<text transform="translate(747.78 1066.00) rotate(69.93)" dy="2.55">GSE12366_PLASMA_CELL_VS_MEMORY_BCELL_DN</text>
<text transform="translate(739.04 1069.09) rotate(71.15)" dy="2.55">GSE12366_PLASMA_CELL_VS_NAIVE_BCELL_DN</text>
<text transform="translate(705.43 1087.32) rotate(76.01)" dy="2.55">GSE13547_CTRL_VS_ANTI_IGM_STIM_ZFX_KO_BCELL_2H_UP</text>
<text transform="translate(696.25 1089.50) rotate(77.23)" dy="2.55">GSE10325_CD4_TCELL_VS_BCELL_UP</text>
<text transform="translate(687.03 1091.49) rotate(78.45)" dy="2.55">GSE12845_IGD_POS_VS_NEG_BLOOD_BCELL_DN</text>
<text transform="translate(677.77 1093.28) rotate(79.66)" dy="2.55">GSE22886_IGM_MEMORY_BCELL_VS_BLOOD_PLASMA_CELL_DN</text>
<text transform="translate(668.47 1094.88) rotate(80.88)" dy="2.55">GSE22886_NAIVE_BCELL_VS_NEUTROPHIL_DN</text>
<text transform="translate(633.44 1132.08) rotate(85.74)" dy="2.55">GSE12366_PLASMA_CELL_VS_NAIVE_BCELL_DN</text>
<text transform="translate(623.32 1132.73) rotate(86.96)" dy="2.55">GSE13411_PLASMA_CELL_VS_MEMORY_BCELL_DN</text>
<text transform="translate(613.20 1133.16) rotate(88.18)" dy="2.55">GSE22886_IGG_IGA_MEMORY_BCELL_VS_BM_PLASMA_CELL_UP</text>
<text transform="translate(603.07 1133.37) rotate(89.39)" dy="2.55">GSE22886_NAIVE_BCELL_VS_NEUTROPHIL_UP</text>
<text transform="translate(592.93 1133.37) rotate(270.61)" dy="2.55">GSE29618_BCELL_VS_MONOCYTE_DAY7_FLU_VACCINE_UP</text>
<text transform="translate(558.65 1066.72) rotate(275.47)" dy="2.55">GSE22886_NAIVE_VS_IGM_MEMORY_BCELL_DN</text>
<text transform="translate(549.94 1065.79) rotate(276.69)" dy="2.55">GSE22886_CD4_TCELL_VS_BCELL_NAIVE_UP</text>
<text transform="translate(541.25 1064.68) rotate(277.91)" dy="2.55">GSE22886_NAIVE_VS_IGG_IGA_MEMORY_BCELL_DN</text>
<text transform="translate(532.59 1063.38) rotate(279.12)" dy="2.55">GSE29618_BCELL_VS_MDC_DAY7_FLU_VACCINE_DN</text>
<text transform="translate(523.96 1061.90) rotate(280.34)" dy="2.55">GSE29618_BCELL_VS_MDC_DN</text>
<text transform="translate(487.34 1063.23) rotate(285.20)" dy="2.55">GSE22886_NAIVE_BCELL_VS_NEUTROPHIL_UP</text>
<text transform="translate(478.72 1060.79) rotate(286.42)" dy="2.55">GSE10325_LUPUS_BCELL_VS_LUPUS_MYELOID_UP</text>
<text transform="translate(470.15 1058.17) rotate(287.64)" dy="2.55">GSE29618_BCELL_VS_MDC_DAY7_FLU_VACCINE_UP</text>
<text transform="translate(461.65 1055.36) rotate(288.85)" dy="2.55">GO_B_CELL_ACTIVATION</text>
<text transform="translate(453.20 1052.38) rotate(290.07)" dy="2.55">GSE29618_BCELL_VS_MONOCYTE_DAY7_FLU_VACCINE_UP</text>
<text transform="translate(428.75 1020.08) rotate(294.93)" dy="2.55">AIZARANI_LIVER_C34_MHC_II_POS_B_CELLS</text>
<text transform="translate(421.06 1016.41) rotate(296.15)" dy="2.55">GSE10325_LUPUS_BCELL_VS_LUPUS_MYELOID_UP</text>
<text transform="translate(413.45 1012.57) rotate(297.36)" dy="2.55">GSE22886_NAIVE_BCELL_VS_NEUTROPHIL_UP</text>
<text transform="translate(405.92 1008.57) rotate(298.58)" dy="2.55">GSE29618_BCELL_VS_MONOCYTE_DAY7_FLU_VACCINE_UP</text>
<text transform="translate(398.48 1004.42) rotate(299.80)" dy="2.55">TARTE_PLASMA_CELL_VS_PLASMABLAST_DN</text>
<text transform="translate(383.87 965.68) rotate(304.66)" dy="2.55">AIZARANI_LIVER_C34_MHC_II_POS_B_CELLS</text>
<text transform="translate(377.35 961.06) rotate(305.88)" dy="2.55">FAN_EMBRYONIC_CTX_BRAIN_B_CELL</text>
<text transform="translate(370.92 956.31) rotate(307.09)" dy="2.55">GSE10325_BCELL_VS_LUPUS_BCELL_UP</text>
<text transform="translate(364.60 951.42) rotate(308.31)" dy="2.55">GSE10325_LUPUS_BCELL_VS_LUPUS_MYELOID_UP</text>
<text transform="translate(358.38 946.40) rotate(309.53)" dy="2.55">GSE12366_PLASMA_CELL_VS_NAIVE_BCELL_DN</text>
<text transform="translate(286.35 974.34) rotate(314.39)" dy="2.55">AIZARANI_LIVER_C34_MHC_II_POS_B_CELLS</text>
<text transform="translate(279.66 967.65) rotate(315.61)" dy="2.55">GO_B_CELL_ACTIVATION</text>
<text transform="translate(273.12 960.83) rotate(316.82)" dy="2.55">GSE10325_BCELL_VS_MYELOID_UP</text>
<text transform="translate(266.72 953.86) rotate(318.04)" dy="2.55">GSE10325_CD4_TCELL_VS_BCELL_DN</text>
<text transform="translate(260.47 946.76) rotate(319.26)" dy="2.55">GSE10325_LUPUS_BCELL_VS_LUPUS_MYELOID_UP</text>
<text transform="translate(225.52 925.41) rotate(324.12)" dy="2.55">AIZARANI_LIVER_C34_MHC_II_POS_B_CELLS</text>
<text transform="translate(219.89 917.45) rotate(325.34)" dy="2.55">GSE10325_BCELL_VS_MYELOID_UP</text>
<text transform="translate(214.42 909.36) rotate(326.55)" dy="2.55">GSE10325_CD4_TCELL_VS_BCELL_DN</text>
<text transform="translate(209.13 901.17) rotate(327.77)" dy="2.55">GSE10325_LUPUS_BCELL_VS_LUPUS_MYELOID_UP</text>
<text transform="translate(204.02 892.86) rotate(328.99)" dy="2.55">GSE12366_GC_BCELL_VS_PLASMA_CELL_UP</text>
<text transform="translate(178.80 861.81) rotate(333.85)" dy="2.55">GO_B_CELL_ACTIVATION</text>
<text transform="translate(174.52 852.86) rotate(335.07)" dy="2.55">GSE10325_LUPUS_BCELL_VS_LUPUS_MYELOID_UP</text>
<text transform="translate(170.44 843.83) rotate(336.28)" dy="2.55">GSE12366_PLASMA_CELL_VS_NAIVE_BCELL_DN</text>
<text transform="translate(166.55 834.71) rotate(337.50)" dy="2.55">GSE13411_PLASMA_CELL_VS_MEMORY_BCELL_DN</text>
<text transform="translate(162.85 825.52) rotate(338.72)" dy="2.55">GSE22886_IGG_IGA_MEMORY_BCELL_VS_BM_PLASMA_CELL_UP</text>
<text transform="translate(179.78 779.24) rotate(343.58)" dy="2.55">GSE29618_BCELL_VS_MDC_DAY7_FLU_VACCINE_UP</text>
<text transform="translate(177.26 770.33) rotate(344.80)" dy="2.55">GSE29618_BCELL_VS_MDC_UP</text>
<text transform="translate(174.93 761.38) rotate(346.01)" dy="2.55">GSE29618_BCELL_VS_MONOCYTE_UP</text>
<text transform="translate(172.78 752.37) rotate(347.23)" dy="2.55">TARTE_PLASMA_CELL_VS_PLASMABLAST_DN</text>
<text transform="translate(170.84 743.33) rotate(348.45)" dy="2.55">GSE12366_PLASMA_CELL_VS_NAIVE_BCELL_DN</text>
<text transform="translate(150.47 708.49) rotate(353.31)" dy="2.55">AIZARANI_LIVER_C34_MHC_II_POS_B_CELLS</text>
<text transform="translate(149.45 698.98) rotate(354.53)" dy="2.55">FAN_EMBRYONIC_CTX_BRAIN_B_CELL</text>
<text transform="translate(148.64 689.45) rotate(355.74)" dy="2.55">GSE10325_BCELL_VS_MYELOID_UP</text>
<text transform="translate(148.03 679.90) rotate(356.96)" dy="2.55">GSE10325_CD4_TCELL_VS_BCELL_DN</text>
<text transform="translate(147.63 670.34) rotate(358.18)" dy="2.55">GSE10325_LUPUS_BCELL_VS_LUPUS_MYELOID_UP</text>
<text transform="translate(153.63 632.40) rotate(363.04)" dy="2.55">AIZARANI_LIVER_C34_MHC_II_POS_B_CELLS</text>
<text transform="translate(154.23 622.97) rotate(364.26)" dy="2.55">DURANTE_ADULT_OLFACTORY_NEUROEPITHELIUM_B_CELLS</text>
<text transform="translate(155.03 613.56) rotate(365.47)" dy="2.55">FAN_EMBRYONIC_CTX_BRAIN_B_CELL</text>
<text transform="translate(156.03 604.16) rotate(366.69)" dy="2.55">GSE10325_BCELL_VS_LUPUS_BCELL_UP</text>
<text transform="translate(157.23 594.80) rotate(367.91)" dy="2.55">GSE10325_BCELL_VS_MYELOID_UP</text>
<text transform="translate(152.30 554.98) rotate(372.77)" dy="2.55">GSE25677_MPL_VS_R848_STIM_BCELL_DN</text>
<text transform="translate(154.55 545.55) rotate(373.99)" dy="2.55">TARTE_PLASMA_CELL_VS_PLASMABLAST_UP</text>
<text transform="translate(156.99 536.16) rotate(375.20)" dy="2.55">GSE12366_PLASMA_CELL_VS_MEMORY_BCELL_DN</text>
<text transform="translate(159.64 526.83) rotate(376.42)" dy="2.55">GSE22886_IGG_IGA_MEMORY_BCELL_VS_BM_PLASMA_CELL_UP</text>
<text transform="translate(162.48 517.55) rotate(377.64)" dy="2.55">GSE29618_BCELL_VS_MDC_DAY7_FLU_VACCINE_UP</text>
<text transform="translate(185.49 485.13) rotate(382.50)" dy="2.55">GSE12366_PLASMA_CELL_VS_NAIVE_BCELL_DN</text>
<text transform="translate(189.21 476.41) rotate(383.72)" dy="2.55">GSE22886_IGG_IGA_MEMORY_BCELL_VS_BM_PLASMA_CELL_UP</text>
<text transform="translate(193.11 467.78) rotate(384.93)" dy="2.55">GSE22886_IGM_MEMORY_BCELL_VS_BM_PLASMA_CELL_UP</text>
<text transform="translate(197.20 459.23) rotate(386.15)" dy="2.55">GSE29618_BCELL_VS_MONOCYTE_DAY7_FLU_VACCINE_UP</text>
<text transform="translate(201.46 450.76) rotate(387.36)" dy="2.55">GSE13411_PLASMA_CELL_VS_MEMORY_BCELL_DN</text>
<text transform="translate(246.52 434.41) rotate(392.23)" dy="2.55">GSE12366_PLASMA_CELL_VS_NAIVE_BCELL_DN</text>
<text transform="translate(251.30 427.00) rotate(393.45)" dy="2.55">GSE22886_IGG_IGA_MEMORY_BCELL_VS_BM_PLASMA_CELL_UP</text>
<text transform="translate(256.24 419.69) rotate(394.66)" dy="2.55">GSE22886_IGM_MEMORY_BCELL_VS_BM_PLASMA_CELL_UP</text>
<text transform="translate(261.34 412.49) rotate(395.88)" dy="2.55">GSE13411_PLASMA_CELL_VS_MEMORY_BCELL_DN</text>
<text transform="translate(266.58 405.40) rotate(397.09)" dy="2.55">GSE22886_NAIVE_BCELL_VS_NEUTROPHIL_UP</text>
<text transform="translate(265.60 357.13) rotate(401.96)" dy="2.55">AIZARANI_LIVER_C34_MHC_II_POS_B_CELLS</text>
<text transform="translate(272.02 350.15) rotate(403.18)" dy="2.55">GSE10325_LUPUS_CD4_TCELL_VS_LUPUS_BCELL_DN</text>
<text transform="translate(278.59 343.30) rotate(404.39)" dy="2.55">GSE12366_GC_VS_NAIVE_BCELL_DN</text>
<text transform="translate(285.30 336.59) rotate(405.61)" dy="2.55">GSE12366_PLASMA_CELL_VS_NAIVE_BCELL_DN</text>
<text transform="translate(292.15 330.02) rotate(406.82)" dy="2.55">GSE13411_IGM_MEMORY_BCELL_VS_PLASMA_CELL_UP</text>
<text transform="translate(326.47 312.32) rotate(411.69)" dy="2.55">GSE12366_PLASMA_CELL_VS_NAIVE_BCELL_DN</text>
<text transform="translate(333.83 306.63) rotate(412.91)" dy="2.55">GSE13411_PLASMA_CELL_VS_MEMORY_BCELL_DN</text>
<text transform="translate(341.30 301.10) rotate(414.12)" dy="2.55">GSE22886_IGG_IGA_MEMORY_BCELL_VS_BM_PLASMA_CELL_UP</text>
<text transform="translate(348.89 295.74) rotate(415.34)" dy="2.55">GSE22886_IGM_MEMORY_BCELL_VS_BM_PLASMA_CELL_UP</text>
<text transform="translate(356.60 290.53) rotate(416.55)" dy="2.55">GSE22886_NAIVE_BCELL_VS_NEUTROPHIL_UP</text>
<text transform="translate(378.89 253.81) rotate(421.42)" dy="2.55">GSE13411_PLASMA_CELL_VS_MEMORY_BCELL_DN</text>
<text transform="translate(387.48 249.25) rotate(422.64)" dy="2.55">GSE12366_PLASMA_CELL_VS_MEMORY_BCELL_DN</text>
<text transform="translate(396.16 244.87) rotate(423.85)" dy="2.55">GSE12366_PLASMA_CELL_VS_NAIVE_BCELL_DN</text>
<text transform="translate(404.93 240.68) rotate(425.07)" dy="2.55">GSE13411_IGM_MEMORY_BCELL_VS_PLASMA_CELL_UP</text>
<text transform="translate(413.79 236.68) rotate(426.28)" dy="2.55">GSE22886_IGG_IGA_MEMORY_BCELL_VS_BM_PLASMA_CELL_UP</text>
<text transform="translate(455.83 239.60) rotate(431.15)" dy="2.55">GSE22886_IGG_IGA_MEMORY_BCELL_VS_BM_PLASMA_CELL_UP</text>
<text transform="translate(464.70 236.68) rotate(432.36)" dy="2.55">GSE22886_IGM_MEMORY_BCELL_VS_BM_PLASMA_CELL_UP</text>
<text transform="translate(473.63 233.94) rotate(433.58)" dy="2.55">GSE22886_NAIVE_BCELL_VS_NEUTROPHIL_UP</text>
<text transform="translate(482.62 231.40) rotate(434.80)" dy="2.55">GSE12366_PLASMA_CELL_VS_NAIVE_BCELL_DN</text>
<text transform="translate(491.66 229.04) rotate(436.01)" dy="2.55">GSE13411_PLASMA_CELL_VS_MEMORY_BCELL_DN</text>
<text transform="translate(533.22 222.82) rotate(440.88)" dy="2.55">GSE10422_WT_VS_BAFF_TRANSGENIC_LN_BCELL_DN</text>
<text transform="translate(541.23 221.69) rotate(442.09)" dy="2.55">GSE46606_IRF4HIGH_VS_WT_CD40L_IL2_IL5_DAY3_STIMULATED_BCELL_DN</text>
<text transform="translate(549.26 220.72) rotate(443.31)" dy="2.55">GSE21063_CTRL_VS_ANTI_IGM_STIM_BCELL_3H_UP</text>
<text transform="translate(557.31 219.89) rotate(444.53)" dy="2.55">REACTOME_SIGNALING_BY_THE_B_CELL_RECEPTOR_BCR</text>
<text transform="translate(565.37 219.22) rotate(445.74)" dy="2.55">GSE22886_NAIVE_VS_IGG_IGA_MEMORY_BCELL_UP</text>
</g>
<g font-size="14.60" fill="#303030">
<text x="584.6" y="99.6">10x melanoma</text>
<text x="705.6" y="110.7">10x NSCLC</text>
<text x="771.5" y="140.4">10x PBMC1</text>
<text x="830.8" y="212.3">10x PBMC2</text>
<text x="876.6" y="303.7">10x PBMC3</text>
<text x="929.8" y="353.5">10x PBMC4</text>
<text x="990.1" y="392.2">10x PBMC6</text>
<text x="1135.3" y="492.2">cap</text>
<text x="990.9" y="558.7">COVID Coc002</text>
<text x="1099.7" y="630.4">COVID Coc003</text>
<text x="1106.2" y="720.1">COVID Coc004</text>
<text x="1078.7" y="823.9">COVID Coc011</text>
<text x="1076.4" y="895.6">COVID Coc012</text>
<text x="963.7" y="1004.6">COVID Coc022</text>
<text x="946.0" y="1116.0">COVID Ki001</text>
<text x="849.4" y="1149.6">COVID Ki002</text>
<text x="758.5" y="1171.8">COVID Ki004</text>
<text x="678.7" y="1223.6">COVID Ki005</text>
<text x="577.3" y="1267.9">COVID Ki006</text>
<text x="483.7" y="1170.8">COVID Ki009c</text>
<text x="377.2" y="1168.5">COVID Ki010c</text>
<text x="343.9" y="1121.5">FB5P2</text>
<text x="281.4" y="1046.4">IBD C12</text>
<text x="163.4" y="1026.3">IBD C16</text>
<text x="94.4" y="967.3">IBD C17</text>
<text x="14.2" y="887.3">IBD C18</text>
<text x="35.4" y="788.3">IBD C19</text>
<text x="20.1" y="696.9">IBD C21</text>
<text x="14.8" y="604.1">IBD C30</text>
<text x="10.2" y="527.6">IBD C33</text>
<text x="65.2" y="399.7">IBD U34</text>
<text x="135.6" y="351.0">IBD U35</text>
<text x="171.0" y="272.1">IBD U4</text>
<text x="256.8" y="199.7">IBD U41</text>
<text x="299.2" y="159.2">IBD U45</text>
<text x="445.8" y="133.5">IBD U5</text>
<text x="504.1" y="75.7">melanoma</text>
</g>
<defs><linearGradient id="lgA" x1="0" y1="0" x2="0" y2="1"><stop offset="0.0000" stop-color="#5E4FA2"/><stop offset="0.1000" stop-color="#3288BD"/><stop offset="0.2000" stop-color="#66C2A5"/><stop offset="0.3000" stop-color="#ABDDA4"/><stop offset="0.4000" stop-color="#E6F598"/><stop offset="0.5000" stop-color="#FFFFBF"/><stop offset="0.6000" stop-color="#FEE08B"/><stop offset="0.7000" stop-color="#FDAE61"/><stop offset="0.8000" stop-color="#F46D43"/><stop offset="0.9000" stop-color="#D53E4F"/><stop offset="1.0000" stop-color="#9E0142"/></linearGradient></defs>
<rect x="1239.8" y="493.7" width="46.1" height="229.6" fill="url(#lgA)"/>
<path d="M1275.8 527.6h10.1" stroke="#fff" stroke-width="1.8" fill="none"/>
<path d="M1275.8 570.8h10.1" stroke="#fff" stroke-width="1.8" fill="none"/>
<path d="M1275.8 613.8h10.1" stroke="#fff" stroke-width="1.8" fill="none"/>
<path d="M1275.8 656.8h10.1" stroke="#fff" stroke-width="1.8" fill="none"/>
<path d="M1275.8 699.7h10.1" stroke="#fff" stroke-width="1.8" fill="none"/>
<path d="M1239.8 600.9h6.1" stroke="#fff" stroke-width="1.2" opacity="0.55" fill="none"/>
<path d="M1239.8 626.7h6.1" stroke="#fff" stroke-width="1.2" opacity="0.55" fill="none"/>
<path d="M1239.8 654.1h6.1" stroke="#fff" stroke-width="1.2" opacity="0.55" fill="none"/>
<path d="M1239.8 681.2h6.1" stroke="#fff" stroke-width="1.2" opacity="0.55" fill="none"/>
<path d="M1239.8 708.1h6.1" stroke="#fff" stroke-width="1.2" opacity="0.55" fill="none"/>
<text x="1238.8" y="475.8" font-size="28" fill="#000">NES</text>
<g font-size="23" fill="#000">
<text x="1300.4" y="535.9">2</text>
<text x="1300.4" y="579.1">1</text>
<text x="1300.4" y="622.1">0</text>
<text x="1300.4" y="665.1">−1</text>
<text x="1300.4" y="708.0">−2</text>
</g>
<text x="-1" y="1350.7" font-size="20" fill="#000">b</text>
<text x="41.7" y="1376.2" font-size="27.66" fill="#000">Top pathways enriched in the genes with monotonic decrease expression from Group 1 to Group 3</text>
<g>
<path d="M618.56 1952.40L619.13 1682.60A343.00 343.00 0 0 1 625.68 1682.68L619.95 1952.42A73.20 73.20 0 0 0 618.56 1952.40Z" fill="#bfe5d8"/>
<path d="M619.95 1952.42L625.68 1682.68A343.00 343.00 0 0 1 632.96 1682.91L621.51 1952.47A73.20 73.20 0 0 0 619.95 1952.42Z" fill="#bfe5d8"/>
<path d="M621.51 1952.47L632.96 1682.91A343.00 343.00 0 0 1 640.23 1683.30L623.06 1952.55A73.20 73.20 0 0 0 621.51 1952.47Z" fill="#b3dadd"/>
<path d="M623.06 1952.55L640.23 1683.30A343.00 343.00 0 0 1 647.49 1683.84L624.61 1952.66A73.20 73.20 0 0 0 623.06 1952.55Z" fill="#a7cce3"/>
<path d="M624.61 1952.66L647.49 1683.84A343.00 343.00 0 0 1 654.01 1684.45L626.00 1952.80A73.20 73.20 0 0 0 624.61 1952.66Z" fill="#bfe5d8"/>
<path d="M618.56 1952.40L619.13 1682.60A343.00 343.00 0 0 1 624.95 1682.66L619.80 1952.41A73.20 73.20 0 0 0 618.56 1952.40Z" fill="#90d3bc"/>
<path d="M620.11 1952.42L626.41 1682.69A343.00 343.00 0 0 1 632.23 1682.88L621.35 1952.46A73.20 73.20 0 0 0 620.11 1952.42Z" fill="#90d3bc"/>
<path d="M621.66 1952.47L633.68 1682.94A343.00 343.00 0 0 1 639.50 1683.25L622.90 1952.54A73.20 73.20 0 0 0 621.66 1952.47Z" fill="#7cbfc4"/>
<path d="M623.21 1952.56L640.95 1683.34A343.00 343.00 0 0 1 646.76 1683.77L624.45 1952.65A73.20 73.20 0 0 0 623.21 1952.56Z" fill="#67a7ce"/>
<path d="M624.76 1952.68L648.21 1683.90A343.00 343.00 0 0 1 654.01 1684.45L626.00 1952.80A73.20 73.20 0 0 0 624.76 1952.68Z" fill="#90d3bc"/>
<path d="M630.92 1953.48L665.23 1755.94A273.70 273.70 0 0 1 670.37 1756.88L632.30 1953.73A73.20 73.20 0 0 0 630.92 1953.48Z" fill="#eeadb3"/>
<path d="M632.30 1953.73L670.37 1756.88A273.70 273.70 0 0 1 676.06 1758.04L633.82 1954.04A73.20 73.20 0 0 0 632.30 1953.73Z" fill="#eeadb3"/>
<path d="M633.82 1954.04L676.06 1758.04A273.70 273.70 0 0 1 681.73 1759.33L635.34 1954.39A73.20 73.20 0 0 0 633.82 1954.04Z" fill="#e19fb1"/>
<path d="M635.34 1954.39L681.73 1759.33A273.70 273.70 0 0 1 687.37 1760.73L636.84 1954.76A73.20 73.20 0 0 0 635.34 1954.39Z" fill="#d895ae"/>
<path d="M636.84 1954.76L687.37 1760.73A273.70 273.70 0 0 1 692.41 1762.10L638.19 1955.13A73.20 73.20 0 0 0 636.84 1954.76Z" fill="#e19fb1"/>
<path d="M630.92 1953.48L665.23 1755.94A273.70 273.70 0 0 1 669.80 1756.77L632.15 1953.70A73.20 73.20 0 0 0 630.92 1953.48Z" fill="#e1727c"/>
<path d="M632.45 1953.76L670.94 1756.99A273.70 273.70 0 0 1 675.49 1757.92L633.67 1954.01A73.20 73.20 0 0 0 632.45 1953.76Z" fill="#e1727c"/>
<path d="M633.97 1954.08L676.63 1758.17A273.70 273.70 0 0 1 681.16 1759.19L635.19 1954.35A73.20 73.20 0 0 0 633.97 1954.08Z" fill="#cc5a78"/>
<path d="M635.49 1954.42L682.29 1759.46A273.70 273.70 0 0 1 686.80 1760.59L636.69 1954.72A73.20 73.20 0 0 0 635.49 1954.42Z" fill="#bb4874"/>
<path d="M637.00 1954.80L687.93 1760.88A273.70 273.70 0 0 1 692.41 1762.10L638.19 1955.13A73.20 73.20 0 0 0 637.00 1954.80Z" fill="#cc5a78"/>
<path d="M642.93 1956.63L732.68 1704.32A341.00 341.00 0 0 1 738.80 1706.56L644.25 1957.11A73.20 73.20 0 0 0 642.93 1956.63Z" fill="#bfe5d8"/>
<path d="M644.25 1957.11L738.80 1706.56A341.00 341.00 0 0 1 745.54 1709.19L645.69 1957.68A73.20 73.20 0 0 0 644.25 1957.11Z" fill="#a7cce3"/>
<path d="M645.69 1957.68L745.54 1709.19A341.00 341.00 0 0 1 752.23 1711.96L647.13 1958.27A73.20 73.20 0 0 0 645.69 1957.68Z" fill="#bfe5d8"/>
<path d="M647.13 1958.27L752.23 1711.96A341.00 341.00 0 0 1 758.86 1714.87L648.55 1958.90A73.20 73.20 0 0 0 647.13 1958.27Z" fill="#b0c1dd"/>
<path d="M648.55 1958.90L758.86 1714.87A341.00 341.00 0 0 1 764.77 1717.61L649.82 1959.49A73.20 73.20 0 0 0 648.55 1958.90Z" fill="#bfe5d8"/>
<path d="M642.93 1956.63L732.68 1704.32A341.00 341.00 0 0 1 738.12 1706.31L644.10 1957.06A73.20 73.20 0 0 0 642.93 1956.63Z" fill="#90d3bc"/>
<path d="M644.39 1957.17L739.48 1706.82A341.00 341.00 0 0 1 744.87 1708.92L645.55 1957.62A73.20 73.20 0 0 0 644.39 1957.17Z" fill="#67a7ce"/>
<path d="M645.84 1957.74L746.22 1709.46A341.00 341.00 0 0 1 751.57 1711.68L646.99 1958.21A73.20 73.20 0 0 0 645.84 1957.74Z" fill="#90d3bc"/>
<path d="M647.27 1958.33L752.90 1712.24A341.00 341.00 0 0 1 758.20 1714.57L648.41 1958.83A73.20 73.20 0 0 0 647.27 1958.33Z" fill="#7694c5"/>
<path d="M648.69 1958.96L759.52 1715.17A341.00 341.00 0 0 1 764.77 1717.61L649.82 1959.49A73.20 73.20 0 0 0 648.69 1958.96Z" fill="#90d3bc"/>
<path d="M654.23 1961.77L792.97 1714.65A356.60 356.60 0 0 1 798.88 1718.04L655.45 1962.47A73.20 73.20 0 0 0 654.23 1961.77Z" fill="#b3dadd"/>
<path d="M655.45 1962.47L798.88 1718.04A356.60 356.60 0 0 1 805.37 1721.94L656.78 1963.27A73.20 73.20 0 0 0 655.45 1962.47Z" fill="#bfe5d8"/>
<path d="M656.78 1963.27L805.37 1721.94A356.60 356.60 0 0 1 811.77 1725.98L658.09 1964.10A73.20 73.20 0 0 0 656.78 1963.27Z" fill="#bfe5d8"/>
<path d="M658.09 1964.10L811.77 1725.98A356.60 356.60 0 0 1 818.09 1730.15L659.39 1964.95A73.20 73.20 0 0 0 658.09 1964.10Z" fill="#bfe5d8"/>
<path d="M659.39 1964.95L818.09 1730.15A356.60 356.60 0 0 1 823.69 1734.02L660.54 1965.75A73.20 73.20 0 0 0 659.39 1964.95Z" fill="#bfe5d8"/>
<path d="M654.23 1961.77L792.97 1714.65A356.60 356.60 0 0 1 798.23 1717.66L655.31 1962.39A73.20 73.20 0 0 0 654.23 1961.77Z" fill="#7cbfc4"/>
<path d="M655.58 1962.55L799.53 1718.43A356.60 356.60 0 0 1 804.72 1721.55L656.65 1963.19A73.20 73.20 0 0 0 655.58 1962.55Z" fill="#90d3bc"/>
<path d="M656.91 1963.35L806.01 1722.34A356.60 356.60 0 0 1 811.13 1725.57L657.96 1964.01A73.20 73.20 0 0 0 656.91 1963.35Z" fill="#90d3bc"/>
<path d="M658.22 1964.18L812.41 1726.39A356.60 356.60 0 0 1 817.46 1729.73L659.26 1964.87A73.20 73.20 0 0 0 658.22 1964.18Z" fill="#90d3bc"/>
<path d="M659.52 1965.04L818.71 1730.58A356.60 356.60 0 0 1 823.69 1734.02L660.54 1965.75A73.20 73.20 0 0 0 659.52 1965.04Z" fill="#90d3bc"/>
<path d="M664.51 1968.75L748.34 1865.37A206.30 206.30 0 0 1 751.38 1867.88L665.58 1969.64A73.20 73.20 0 0 0 664.51 1968.75Z" fill="#a7cce3"/>
<path d="M665.58 1969.64L751.38 1867.88A206.30 206.30 0 0 1 754.70 1870.74L666.76 1970.65A73.20 73.20 0 0 0 665.58 1969.64Z" fill="#b6b8d9"/>
<path d="M666.76 1970.65L754.70 1870.74A206.30 206.30 0 0 1 757.95 1873.66L667.92 1971.69A73.20 73.20 0 0 0 666.76 1970.65Z" fill="#a7cce3"/>
<path d="M667.92 1971.69L757.95 1873.66A206.30 206.30 0 0 1 761.15 1876.66L669.05 1972.75A73.20 73.20 0 0 0 667.92 1971.69Z" fill="#a7cce3"/>
<path d="M669.05 1972.75L761.15 1876.66A206.30 206.30 0 0 1 763.97 1879.41L670.05 1973.73A73.20 73.20 0 0 0 669.05 1972.75Z" fill="#a7cce3"/>
<path d="M664.51 1968.75L748.34 1865.37A206.30 206.30 0 0 1 751.04 1867.60L665.47 1969.54A73.20 73.20 0 0 0 664.51 1968.75Z" fill="#67a7ce"/>
<path d="M665.70 1969.74L751.71 1868.16A206.30 206.30 0 0 1 754.37 1870.45L666.64 1970.55A73.20 73.20 0 0 0 665.70 1969.74Z" fill="#8185be"/>
<path d="M666.88 1970.75L755.03 1871.03A206.30 206.30 0 0 1 757.63 1873.37L667.80 1971.58A73.20 73.20 0 0 0 666.88 1970.75Z" fill="#67a7ce"/>
<path d="M668.03 1971.79L758.28 1873.96A206.30 206.30 0 0 1 760.83 1876.36L668.94 1972.65A73.20 73.20 0 0 0 668.03 1971.79Z" fill="#67a7ce"/>
<path d="M669.16 1972.86L761.46 1876.96A206.30 206.30 0 0 1 763.97 1879.41L670.05 1973.73A73.20 73.20 0 0 0 669.16 1972.86Z" fill="#67a7ce"/>
<path d="M673.45 1977.36L858.31 1815.35A319.00 319.00 0 0 1 862.28 1819.97L674.36 1978.42A73.20 73.20 0 0 0 673.45 1977.36Z" fill="#bfe5d8"/>
<path d="M674.36 1978.42L862.28 1819.97A319.00 319.00 0 0 1 866.59 1825.20L675.35 1979.61A73.20 73.20 0 0 0 674.36 1978.42Z" fill="#a7cce3"/>
<path d="M675.35 1979.61L866.59 1825.20A319.00 319.00 0 0 1 870.79 1830.51L676.32 1980.83A73.20 73.20 0 0 0 675.35 1979.61Z" fill="#aed4e0"/>
<path d="M676.32 1980.83L870.79 1830.51A319.00 319.00 0 0 1 874.88 1835.91L677.25 1982.07A73.20 73.20 0 0 0 676.32 1980.83Z" fill="#bfe5d8"/>
<path d="M677.25 1982.07L874.88 1835.91A319.00 319.00 0 0 1 878.45 1840.85L678.07 1983.21A73.20 73.20 0 0 0 677.25 1982.07Z" fill="#bfe5d8"/>
<path d="M673.45 1977.36L858.31 1815.35A319.00 319.00 0 0 1 861.85 1819.46L674.26 1978.30A73.20 73.20 0 0 0 673.45 1977.36Z" fill="#90d3bc"/>
<path d="M674.46 1978.53L862.72 1820.49A319.00 319.00 0 0 1 866.17 1824.67L675.25 1979.49A73.20 73.20 0 0 0 674.46 1978.53Z" fill="#67a7ce"/>
<path d="M675.45 1979.74L867.02 1825.73A319.00 319.00 0 0 1 870.38 1829.98L676.22 1980.71A73.20 73.20 0 0 0 675.45 1979.74Z" fill="#73b4c9"/>
<path d="M676.41 1980.96L871.20 1831.05A319.00 319.00 0 0 1 874.47 1835.37L677.16 1981.95A73.20 73.20 0 0 0 676.41 1980.96Z" fill="#90d3bc"/>
<path d="M677.34 1982.20L875.28 1836.46A319.00 319.00 0 0 1 878.45 1840.85L678.07 1983.21A73.20 73.20 0 0 0 677.34 1982.20Z" fill="#90d3bc"/>
<path d="M680.81 1987.35L923.65 1838.55A358.00 358.00 0 0 1 927.16 1844.41L681.53 1988.55A73.20 73.20 0 0 0 680.81 1987.35Z" fill="#c3e7d8"/>
<path d="M681.53 1988.55L927.16 1844.41A358.00 358.00 0 0 1 930.94 1851.01L682.30 1989.90A73.20 73.20 0 0 0 681.53 1988.55Z" fill="#c3e7d8"/>
<path d="M682.30 1989.90L930.94 1851.01A358.00 358.00 0 0 1 934.57 1857.68L683.05 1991.27A73.20 73.20 0 0 0 682.30 1989.90Z" fill="#c3e7d8"/>
<path d="M683.05 1991.27L934.57 1857.68A358.00 358.00 0 0 1 938.07 1864.43L683.76 1992.65A73.20 73.20 0 0 0 683.05 1991.27Z" fill="#c3e7d8"/>
<path d="M683.76 1992.65L938.07 1864.43A358.00 358.00 0 0 1 941.09 1870.56L684.38 1993.90A73.20 73.20 0 0 0 683.76 1992.65Z" fill="#c3e7d8"/>
<path d="M680.81 1987.35L923.65 1838.55A358.00 358.00 0 0 1 926.78 1843.76L681.45 1988.42A73.20 73.20 0 0 0 680.81 1987.35Z" fill="#98d6bc"/>
<path d="M681.61 1988.69L927.55 1845.07A358.00 358.00 0 0 1 930.57 1850.34L682.23 1989.77A73.20 73.20 0 0 0 681.61 1988.69Z" fill="#98d6bc"/>
<path d="M682.38 1990.04L931.31 1851.67A358.00 358.00 0 0 1 934.22 1857.01L682.97 1991.13A73.20 73.20 0 0 0 682.38 1990.04Z" fill="#98d6bc"/>
<path d="M683.12 1991.40L934.93 1858.35A358.00 358.00 0 0 1 937.72 1863.75L683.69 1992.51A73.20 73.20 0 0 0 683.12 1991.40Z" fill="#98d6bc"/>
<path d="M683.83 1992.78L938.41 1865.11A358.00 358.00 0 0 1 941.09 1870.56L684.38 1993.90A73.20 73.20 0 0 0 683.83 1992.78Z" fill="#98d6bc"/>
<path d="M686.38 1998.45L832.92 1939.93A231.00 231.00 0 0 1 834.52 1944.04L686.89 1999.75A73.20 73.20 0 0 0 686.38 1998.45Z" fill="#e19fb1"/>
<path d="M686.89 1999.75L834.52 1944.04A231.00 231.00 0 0 1 836.20 1948.64L687.42 2001.21A73.20 73.20 0 0 0 686.89 1999.75Z" fill="#eeadb3"/>
<path d="M687.42 2001.21L836.20 1948.64A231.00 231.00 0 0 1 837.79 1953.29L687.92 2002.68A73.20 73.20 0 0 0 687.42 2001.21Z" fill="#eeadb3"/>
<path d="M687.92 2002.68L837.79 1953.29A231.00 231.00 0 0 1 839.27 1957.96L688.39 2004.17A73.20 73.20 0 0 0 687.92 2002.68Z" fill="#eeadb3"/>
<path d="M688.39 2004.17L839.27 1957.96A231.00 231.00 0 0 1 840.53 1962.19L688.79 2005.51A73.20 73.20 0 0 0 688.39 2004.17Z" fill="#eeadb3"/>
<path d="M686.38 1998.45L832.92 1939.93A231.00 231.00 0 0 1 834.35 1943.58L686.83 1999.61A73.20 73.20 0 0 0 686.38 1998.45Z" fill="#cc5a78"/>
<path d="M686.94 1999.90L834.69 1944.50A231.00 231.00 0 0 1 836.04 1948.18L687.37 2001.07A73.20 73.20 0 0 0 686.94 1999.90Z" fill="#e1727c"/>
<path d="M687.47 2001.36L836.37 1949.11A231.00 231.00 0 0 1 837.64 1952.82L687.87 2002.54A73.20 73.20 0 0 0 687.47 2001.36Z" fill="#e1727c"/>
<path d="M687.97 2002.83L837.94 1953.75A231.00 231.00 0 0 1 839.13 1957.49L688.35 2004.02A73.20 73.20 0 0 0 687.97 2002.83Z" fill="#e1727c"/>
<path d="M688.44 2004.31L839.42 1958.43A231.00 231.00 0 0 1 840.53 1962.19L688.79 2005.51A73.20 73.20 0 0 0 688.44 2004.31Z" fill="#e1727c"/>
<path d="M689.99 2010.33L960.21 1952.69A349.50 349.50 0 0 1 961.54 1959.24L690.27 2011.70A73.20 73.20 0 0 0 689.99 2010.33Z" fill="#c3e7d8"/>
<path d="M690.27 2011.70L961.54 1959.24A349.50 349.50 0 0 1 962.87 1966.53L690.55 2013.23A73.20 73.20 0 0 0 690.27 2011.70Z" fill="#c3e7d8"/>
<path d="M690.55 2013.23L962.87 1966.53A349.50 349.50 0 0 1 964.05 1973.86L690.79 2014.76A73.20 73.20 0 0 0 690.55 2013.23Z" fill="#c3e7d8"/>
<path d="M690.79 2014.76L964.05 1973.86A349.50 349.50 0 0 1 965.07 1981.21L691.01 2016.30A73.20 73.20 0 0 0 690.79 2014.76Z" fill="#c3e7d8"/>
<path d="M691.01 2016.30L965.07 1981.21A349.50 349.50 0 0 1 965.85 1987.84L691.17 2017.69A73.20 73.20 0 0 0 691.01 2016.30Z" fill="#c3e7d8"/>
<path d="M689.99 2010.33L960.21 1952.69A349.50 349.50 0 0 1 961.40 1958.51L690.24 2011.55A73.20 73.20 0 0 0 689.99 2010.33Z" fill="#98d6bc"/>
<path d="M690.30 2011.85L961.68 1959.96A349.50 349.50 0 0 1 962.75 1965.80L690.52 2013.08A73.20 73.20 0 0 0 690.30 2011.85Z" fill="#98d6bc"/>
<path d="M690.57 2013.38L963.00 1967.27A349.50 349.50 0 0 1 963.94 1973.13L690.77 2014.61A73.20 73.20 0 0 0 690.57 2013.38Z" fill="#98d6bc"/>
<path d="M690.82 2014.92L964.16 1974.59A349.50 349.50 0 0 1 964.97 1980.47L690.99 2016.15A73.20 73.20 0 0 0 690.82 2014.92Z" fill="#98d6bc"/>
<path d="M691.03 2016.46L965.16 1981.94A349.50 349.50 0 0 1 965.85 1987.84L691.17 2017.69A73.20 73.20 0 0 0 691.03 2016.46Z" fill="#98d6bc"/>
<path d="M691.54 2022.65L979.91 2011.01A361.80 361.80 0 0 1 980.12 2017.92L691.58 2024.05A73.20 73.20 0 0 0 691.54 2022.65Z" fill="#bfe5d8"/>
<path d="M691.58 2024.05L980.12 2017.92A361.80 361.80 0 0 1 980.20 2025.60L691.60 2025.60A73.20 73.20 0 0 0 691.58 2024.05Z" fill="#a7cce3"/>
<path d="M691.60 2025.60L980.20 2025.60A361.80 361.80 0 0 1 980.12 2033.28L691.58 2027.15A73.20 73.20 0 0 0 691.60 2025.60Z" fill="#bfe5d8"/>
<path d="M691.58 2027.15L980.12 2033.28A361.80 361.80 0 0 1 979.87 2040.96L691.53 2028.71A73.20 73.20 0 0 0 691.58 2027.15Z" fill="#bfe5d8"/>
<path d="M691.53 2028.71L979.87 2040.96A361.80 361.80 0 0 1 979.51 2047.86L691.46 2030.10A73.20 73.20 0 0 0 691.53 2028.71Z" fill="#a7cce3"/>
<path d="M691.54 2022.65L979.91 2011.01A361.80 361.80 0 0 1 980.10 2017.15L691.58 2023.89A73.20 73.20 0 0 0 691.54 2022.65Z" fill="#90d3bc"/>
<path d="M691.59 2024.20L980.13 2018.69A361.80 361.80 0 0 1 980.20 2024.83L691.60 2025.44A73.20 73.20 0 0 0 691.59 2024.20Z" fill="#67a7ce"/>
<path d="M691.60 2025.76L980.20 2026.37A361.80 361.80 0 0 1 980.13 2032.51L691.59 2027.00A73.20 73.20 0 0 0 691.60 2025.76Z" fill="#90d3bc"/>
<path d="M691.58 2027.31L980.10 2034.05A361.80 361.80 0 0 1 979.91 2040.19L691.54 2028.55A73.20 73.20 0 0 0 691.58 2027.31Z" fill="#90d3bc"/>
<path d="M691.53 2028.86L979.84 2041.72A361.80 361.80 0 0 1 979.51 2047.86L691.46 2030.10A73.20 73.20 0 0 0 691.53 2028.86Z" fill="#67a7ce"/>
<path d="M690.99 2035.05L976.38 2072.21A361.00 361.00 0 0 1 975.42 2079.04L690.79 2036.44A73.20 73.20 0 0 0 690.99 2035.05Z" fill="#bfe5d8"/>
<path d="M690.79 2036.44L975.42 2079.04A361.00 361.00 0 0 1 974.21 2086.61L690.55 2037.97A73.20 73.20 0 0 0 690.79 2036.44Z" fill="#b9e0da"/>
<path d="M690.55 2037.97L974.21 2086.61A361.00 361.00 0 0 1 972.83 2094.15L690.27 2039.50A73.20 73.20 0 0 0 690.55 2037.97Z" fill="#b9e0da"/>
<path d="M690.27 2039.50L972.83 2094.15A361.00 361.00 0 0 1 971.30 2101.66L689.96 2041.02A73.20 73.20 0 0 0 690.27 2039.50Z" fill="#aed4e0"/>
<path d="M689.96 2041.02L971.30 2101.66A361.00 361.00 0 0 1 969.78 2108.38L689.65 2042.39A73.20 73.20 0 0 0 689.96 2041.02Z" fill="#bfe5d8"/>
<path d="M690.99 2035.05L976.38 2072.21A361.00 361.00 0 0 1 975.53 2078.29L690.82 2036.28A73.20 73.20 0 0 0 690.99 2035.05Z" fill="#90d3bc"/>
<path d="M690.77 2036.59L975.31 2079.80A361.00 361.00 0 0 1 974.34 2085.85L690.57 2037.82A73.20 73.20 0 0 0 690.77 2036.59Z" fill="#86c9c0"/>
<path d="M690.52 2038.12L974.08 2087.36A361.00 361.00 0 0 1 972.98 2093.40L690.30 2039.35A73.20 73.20 0 0 0 690.52 2038.12Z" fill="#86c9c0"/>
<path d="M690.24 2039.65L972.69 2094.90A361.00 361.00 0 0 1 971.46 2100.91L689.99 2040.87A73.20 73.20 0 0 0 690.24 2039.65Z" fill="#73b4c9"/>
<path d="M689.92 2041.17L971.14 2102.40A361.00 361.00 0 0 1 969.78 2108.38L689.65 2042.39A73.20 73.20 0 0 0 689.92 2041.17Z" fill="#90d3bc"/>
<path d="M688.35 2047.18L970.80 2134.34A368.80 368.80 0 0 1 968.66 2141.05L687.92 2048.52A73.20 73.20 0 0 0 688.35 2047.18Z" fill="#c3e7d8"/>
<path d="M687.92 2048.52L968.66 2141.05A368.80 368.80 0 0 1 966.13 2148.46L687.42 2049.99A73.20 73.20 0 0 0 687.92 2048.52Z" fill="#c3e7d8"/>
<path d="M687.42 2049.99L966.13 2148.46A368.80 368.80 0 0 1 963.45 2155.82L686.89 2051.45A73.20 73.20 0 0 0 687.42 2049.99Z" fill="#c3e7d8"/>
<path d="M686.89 2051.45L963.45 2155.82A368.80 368.80 0 0 1 960.61 2163.11L686.32 2052.89A73.20 73.20 0 0 0 686.89 2051.45Z" fill="#c3e7d8"/>
<path d="M686.32 2052.89L960.61 2163.11A368.80 368.80 0 0 1 957.92 2169.62L685.79 2054.19A73.20 73.20 0 0 0 686.32 2052.89Z" fill="#c3e7d8"/>
<path d="M688.35 2047.18L970.80 2134.34A368.80 368.80 0 0 1 968.91 2140.31L687.97 2048.37A73.20 73.20 0 0 0 688.35 2047.18Z" fill="#98d6bc"/>
<path d="M687.87 2048.66L968.42 2141.80A368.80 368.80 0 0 1 966.39 2147.72L687.47 2049.84A73.20 73.20 0 0 0 687.87 2048.66Z" fill="#98d6bc"/>
<path d="M687.37 2050.13L965.87 2149.20A368.80 368.80 0 0 1 963.72 2155.08L686.94 2051.30A73.20 73.20 0 0 0 687.37 2050.13Z" fill="#98d6bc"/>
<path d="M686.83 2051.59L963.17 2156.55A368.80 368.80 0 0 1 960.90 2162.38L686.38 2052.75A73.20 73.20 0 0 0 686.83 2051.59Z" fill="#98d6bc"/>
<path d="M686.26 2053.04L960.31 2163.84A368.80 368.80 0 0 1 957.92 2169.62L685.79 2054.19A73.20 73.20 0 0 0 686.26 2053.04Z" fill="#98d6bc"/>
<path d="M683.69 2058.69L958.60 2198.03A381.40 381.40 0 0 1 955.24 2204.50L683.05 2059.93A73.20 73.20 0 0 0 683.69 2058.69Z" fill="#bfe5d8"/>
<path d="M683.05 2059.93L955.24 2204.50A381.40 381.40 0 0 1 951.37 2211.61L682.30 2061.30A73.20 73.20 0 0 0 683.05 2059.93Z" fill="#bfe5d8"/>
<path d="M682.30 2061.30L951.37 2211.61A381.40 381.40 0 0 1 947.34 2218.63L681.53 2062.65A73.20 73.20 0 0 0 682.30 2061.30Z" fill="#bfe5d8"/>
<path d="M681.53 2062.65L947.34 2218.63A381.40 381.40 0 0 1 943.17 2225.57L680.73 2063.98A73.20 73.20 0 0 0 681.53 2062.65Z" fill="#bfe5d8"/>
<path d="M680.73 2063.98L943.17 2225.57A381.40 381.40 0 0 1 939.29 2231.74L679.99 2065.16A73.20 73.20 0 0 0 680.73 2063.98Z" fill="#bfe5d8"/>
<path d="M683.69 2058.69L958.60 2198.03A381.40 381.40 0 0 1 955.62 2203.78L683.12 2059.80A73.20 73.20 0 0 0 683.69 2058.69Z" fill="#90d3bc"/>
<path d="M682.97 2060.07L954.86 2205.21A381.40 381.40 0 0 1 951.76 2210.90L682.38 2061.16A73.20 73.20 0 0 0 682.97 2060.07Z" fill="#90d3bc"/>
<path d="M682.23 2061.43L950.97 2212.31A381.40 381.40 0 0 1 947.75 2217.93L681.61 2062.51A73.20 73.20 0 0 0 682.23 2061.43Z" fill="#90d3bc"/>
<path d="M681.45 2062.78L946.93 2219.33A381.40 381.40 0 0 1 943.60 2224.88L680.81 2063.85A73.20 73.20 0 0 0 681.45 2062.78Z" fill="#90d3bc"/>
<path d="M680.65 2064.11L942.75 2226.26A381.40 381.40 0 0 1 939.29 2231.74L679.99 2065.16A73.20 73.20 0 0 0 680.65 2064.11Z" fill="#90d3bc"/>
<path d="M677.16 2069.25L735.04 2112.25A145.30 145.30 0 0 1 733.36 2114.46L676.32 2070.37A73.20 73.20 0 0 0 677.16 2069.25Z" fill="#bfe5d8"/>
<path d="M676.32 2070.37L733.36 2114.46A145.30 145.30 0 0 1 731.45 2116.88L675.35 2071.59A73.20 73.20 0 0 0 676.32 2070.37Z" fill="#b9e0da"/>
<path d="M675.35 2071.59L731.45 2116.88A145.30 145.30 0 0 1 729.49 2119.26L674.36 2072.78A73.20 73.20 0 0 0 675.35 2071.59Z" fill="#b9e0da"/>
<path d="M674.36 2072.78L729.49 2119.26A145.30 145.30 0 0 1 727.47 2121.60L673.35 2073.96A73.20 73.20 0 0 0 674.36 2072.78Z" fill="#e8a7b2"/>
<path d="M673.35 2073.96L727.47 2121.60A145.30 145.30 0 0 1 725.62 2123.66L672.42 2075.00A73.20 73.20 0 0 0 673.35 2073.96Z" fill="#e8a7b2"/>
<path d="M677.16 2069.25L735.04 2112.25A145.30 145.30 0 0 1 733.55 2114.22L676.41 2070.24A73.20 73.20 0 0 0 677.16 2069.25Z" fill="#90d3bc"/>
<path d="M676.22 2070.49L733.17 2114.70A145.30 145.30 0 0 1 731.64 2116.64L675.45 2071.46A73.20 73.20 0 0 0 676.22 2070.49Z" fill="#86c9c0"/>
<path d="M675.25 2071.71L731.25 2117.12A145.30 145.30 0 0 1 729.68 2119.02L674.46 2072.67A73.20 73.20 0 0 0 675.25 2071.71Z" fill="#86c9c0"/>
<path d="M674.26 2072.90L729.29 2119.49A145.30 145.30 0 0 1 727.68 2121.36L673.45 2073.84A73.20 73.20 0 0 0 674.26 2072.90Z" fill="#d8677b"/>
<path d="M673.25 2074.08L727.27 2121.83A145.30 145.30 0 0 1 725.62 2123.66L672.42 2075.00A73.20 73.20 0 0 0 673.25 2074.08Z" fill="#d8677b"/>
<path d="M668.94 2078.55L856.87 2275.47A345.40 345.40 0 0 1 852.05 2279.98L667.92 2079.51A73.20 73.20 0 0 0 668.94 2078.55Z" fill="#bfe5d8"/>
<path d="M667.92 2079.51L852.05 2279.98A345.40 345.40 0 0 1 846.60 2284.88L666.76 2080.55A73.20 73.20 0 0 0 667.92 2079.51Z" fill="#b6b8d9"/>
<path d="M666.76 2080.55L846.60 2284.88A345.40 345.40 0 0 1 841.04 2289.67L665.58 2081.56A73.20 73.20 0 0 0 666.76 2080.55Z" fill="#b6b8d9"/>
<path d="M665.58 2081.56L841.04 2289.67A345.40 345.40 0 0 1 835.39 2294.33L664.39 2082.55A73.20 73.20 0 0 0 665.58 2081.56Z" fill="#b0c1dd"/>
<path d="M664.39 2082.55L835.39 2294.33A345.40 345.40 0 0 1 830.21 2298.43L663.29 2083.42A73.20 73.20 0 0 0 664.39 2082.55Z" fill="#a7cce3"/>
<path d="M668.94 2078.55L856.87 2275.47A345.40 345.40 0 0 1 852.59 2279.48L668.03 2079.41A73.20 73.20 0 0 0 668.94 2078.55Z" fill="#90d3bc"/>
<path d="M667.80 2079.62L851.51 2280.48A345.40 345.40 0 0 1 847.15 2284.40L666.88 2080.45A73.20 73.20 0 0 0 667.80 2079.62Z" fill="#8185be"/>
<path d="M666.64 2080.65L846.05 2285.37A345.40 345.40 0 0 1 841.60 2289.19L665.70 2081.46A73.20 73.20 0 0 0 666.64 2080.65Z" fill="#8185be"/>
<path d="M665.47 2081.66L840.48 2290.14A345.40 345.40 0 0 1 835.96 2293.87L664.51 2082.45A73.20 73.20 0 0 0 665.47 2081.66Z" fill="#7694c5"/>
<path d="M664.26 2082.65L834.82 2294.79A345.40 345.40 0 0 1 830.21 2298.43L663.29 2083.42A73.20 73.20 0 0 0 664.26 2082.65Z" fill="#67a7ce"/>
<path d="M659.26 2086.33L808.42 2308.03A340.40 340.40 0 0 1 802.99 2311.61L658.09 2087.10A73.20 73.20 0 0 0 659.26 2086.33Z" fill="#bfe5d8"/>
<path d="M658.09 2087.10L802.99 2311.61A340.40 340.40 0 0 1 796.87 2315.46L656.78 2087.93A73.20 73.20 0 0 0 658.09 2087.10Z" fill="#bfe5d8"/>
<path d="M656.78 2087.93L796.87 2315.46A340.40 340.40 0 0 1 790.68 2319.18L655.45 2088.73A73.20 73.20 0 0 0 656.78 2087.93Z" fill="#a7cce3"/>
<path d="M655.45 2088.73L790.68 2319.18A340.40 340.40 0 0 1 784.41 2322.77L654.10 2089.50A73.20 73.20 0 0 0 655.45 2088.73Z" fill="#b6b8d9"/>
<path d="M654.10 2089.50L784.41 2322.77A340.40 340.40 0 0 1 778.70 2325.89L652.87 2090.17A73.20 73.20 0 0 0 654.10 2089.50Z" fill="#b3dadd"/>
<path d="M659.26 2086.33L808.42 2308.03A340.40 340.40 0 0 1 803.59 2311.21L658.22 2087.02A73.20 73.20 0 0 0 659.26 2086.33Z" fill="#90d3bc"/>
<path d="M657.96 2087.19L802.38 2312.00A340.40 340.40 0 0 1 797.49 2315.08L656.91 2087.85A73.20 73.20 0 0 0 657.96 2087.19Z" fill="#90d3bc"/>
<path d="M656.65 2088.01L796.26 2315.84A340.40 340.40 0 0 1 791.30 2318.82L655.58 2088.65A73.20 73.20 0 0 0 656.65 2088.01Z" fill="#67a7ce"/>
<path d="M655.31 2088.81L790.06 2319.55A340.40 340.40 0 0 1 785.04 2322.42L654.23 2089.43A73.20 73.20 0 0 0 655.31 2088.81Z" fill="#8185be"/>
<path d="M653.96 2089.58L783.78 2323.13A340.40 340.40 0 0 1 778.70 2325.89L652.87 2090.17A73.20 73.20 0 0 0 653.96 2089.58Z" fill="#7cbfc4"/>
<path d="M648.41 2092.37L736.68 2288.74A288.50 288.50 0 0 1 731.63 2290.95L647.13 2092.93A73.20 73.20 0 0 0 648.41 2092.37Z" fill="#eeadb3"/>
<path d="M647.13 2092.93L731.63 2290.95A288.50 288.50 0 0 1 725.97 2293.30L645.69 2093.52A73.20 73.20 0 0 0 647.13 2092.93Z" fill="#e19fb1"/>
<path d="M645.69 2093.52L725.97 2293.30A288.50 288.50 0 0 1 720.26 2295.52L644.25 2094.09A73.20 73.20 0 0 0 645.69 2093.52Z" fill="#eeadb3"/>
<path d="M644.25 2094.09L720.26 2295.52A288.50 288.50 0 0 1 714.51 2297.62L642.79 2094.62A73.20 73.20 0 0 0 644.25 2094.09Z" fill="#e19fb1"/>
<path d="M642.79 2094.62L714.51 2297.62A288.50 288.50 0 0 1 709.30 2299.41L641.46 2095.07A73.20 73.20 0 0 0 642.79 2094.62Z" fill="#e19fb1"/>
<path d="M648.41 2092.37L736.68 2288.74A288.50 288.50 0 0 1 732.19 2290.71L647.27 2092.87A73.20 73.20 0 0 0 648.41 2092.37Z" fill="#e1727c"/>
<path d="M646.99 2092.99L731.06 2291.19A288.50 288.50 0 0 1 726.54 2293.07L645.84 2093.46A73.20 73.20 0 0 0 646.99 2092.99Z" fill="#cc5a78"/>
<path d="M645.55 2093.58L725.40 2293.52A288.50 288.50 0 0 1 720.84 2295.30L644.39 2094.03A73.20 73.20 0 0 0 645.55 2093.58Z" fill="#e1727c"/>
<path d="M644.10 2094.14L719.69 2295.73A288.50 288.50 0 0 1 715.09 2297.42L642.93 2094.57A73.20 73.20 0 0 0 644.10 2094.14Z" fill="#cc5a78"/>
<path d="M642.64 2094.67L713.93 2297.82A288.50 288.50 0 0 1 709.30 2299.41L641.46 2095.07A73.20 73.20 0 0 0 642.64 2094.67Z" fill="#cc5a78"/>
<path d="M636.69 2096.48L714.50 2397.90A384.50 384.50 0 0 1 707.37 2399.67L635.34 2096.81A73.20 73.20 0 0 0 636.69 2096.48Z" fill="#c3e7d8"/>
<path d="M635.34 2096.81L707.37 2399.67A384.50 384.50 0 0 1 699.41 2401.47L633.82 2097.16A73.20 73.20 0 0 0 635.34 2096.81Z" fill="#c3e7d8"/>
<path d="M633.82 2097.16L699.41 2401.47A384.50 384.50 0 0 1 691.41 2403.10L632.30 2097.47A73.20 73.20 0 0 0 633.82 2097.16Z" fill="#c3e7d8"/>
<path d="M632.30 2097.47L691.41 2403.10A384.50 384.50 0 0 1 683.38 2404.57L630.77 2097.75A73.20 73.20 0 0 0 632.30 2097.47Z" fill="#c3e7d8"/>
<path d="M630.77 2097.75L683.38 2404.57A384.50 384.50 0 0 1 676.13 2405.74L629.39 2097.97A73.20 73.20 0 0 0 630.77 2097.75Z" fill="#c3e7d8"/>
<path d="M636.69 2096.48L714.50 2397.90A384.50 384.50 0 0 1 708.16 2399.48L635.49 2096.78A73.20 73.20 0 0 0 636.69 2096.48Z" fill="#98d6bc"/>
<path d="M635.19 2096.85L706.57 2399.85A384.50 384.50 0 0 1 700.20 2401.30L633.97 2097.12A73.20 73.20 0 0 0 635.19 2096.85Z" fill="#98d6bc"/>
<path d="M633.67 2097.19L698.61 2401.64A384.50 384.50 0 0 1 692.21 2402.95L632.45 2097.44A73.20 73.20 0 0 0 633.67 2097.19Z" fill="#98d6bc"/>
<path d="M632.15 2097.50L690.61 2403.26A384.50 384.50 0 0 1 684.19 2404.43L630.92 2097.72A73.20 73.20 0 0 0 632.15 2097.50Z" fill="#98d6bc"/>
<path d="M630.62 2097.77L682.58 2404.71A384.50 384.50 0 0 1 676.13 2405.74L629.39 2097.97A73.20 73.20 0 0 0 630.62 2097.77Z" fill="#98d6bc"/>
<path d="M624.45 2098.55L648.38 2386.86A362.50 362.50 0 0 1 641.47 2387.37L623.06 2098.65A73.20 73.20 0 0 0 624.45 2098.55Z" fill="#bfe5d8"/>
<path d="M623.06 2098.65L641.47 2387.37A362.50 362.50 0 0 1 633.78 2387.77L621.51 2098.73A73.20 73.20 0 0 0 623.06 2098.65Z" fill="#b9e0da"/>
<path d="M621.51 2098.73L633.78 2387.77A362.50 362.50 0 0 1 626.09 2388.02L619.95 2098.78A73.20 73.20 0 0 0 621.51 2098.73Z" fill="#b3dadd"/>
<path d="M619.95 2098.78L626.09 2388.02A362.50 362.50 0 0 1 618.40 2388.10L618.40 2098.80A73.20 73.20 0 0 0 619.95 2098.78Z" fill="#b9e0da"/>
<path d="M618.40 2098.80L618.40 2388.10A362.50 362.50 0 0 1 611.48 2388.03L617.00 2098.79A73.20 73.20 0 0 0 618.40 2098.80Z" fill="#bfe5d8"/>
<path d="M624.45 2098.55L648.38 2386.86A362.50 362.50 0 0 1 642.24 2387.32L623.21 2098.64A73.20 73.20 0 0 0 624.45 2098.55Z" fill="#90d3bc"/>
<path d="M622.90 2098.66L640.70 2387.41A362.50 362.50 0 0 1 634.55 2387.74L621.66 2098.73A73.20 73.20 0 0 0 622.90 2098.66Z" fill="#86c9c0"/>
<path d="M621.35 2098.74L633.02 2387.81A362.50 362.50 0 0 1 626.86 2388.00L620.11 2098.78A73.20 73.20 0 0 0 621.35 2098.74Z" fill="#7cbfc4"/>
<path d="M619.80 2098.79L625.32 2388.03A362.50 362.50 0 0 1 619.17 2388.10L618.56 2098.80A73.20 73.20 0 0 0 619.80 2098.79Z" fill="#86c9c0"/>
<path d="M618.24 2098.80L617.63 2388.10A362.50 362.50 0 0 1 611.48 2388.03L617.00 2098.79A73.20 73.20 0 0 0 618.24 2098.80Z" fill="#90d3bc"/>
<path d="M612.04 2098.52L589.15 2360.83A336.50 336.50 0 0 1 582.75 2360.21L610.65 2098.39A73.20 73.20 0 0 0 612.04 2098.52Z" fill="#bfe5d8"/>
<path d="M610.65 2098.39L582.75 2360.21A336.50 336.50 0 0 1 575.66 2359.37L609.10 2098.21A73.20 73.20 0 0 0 610.65 2098.39Z" fill="#bfe5d8"/>
<path d="M609.10 2098.21L575.66 2359.37A336.50 336.50 0 0 1 568.58 2358.39L607.56 2097.99A73.20 73.20 0 0 0 609.10 2098.21Z" fill="#b9e0da"/>
<path d="M607.56 2097.99L568.58 2358.39A336.50 336.50 0 0 1 561.53 2357.26L606.03 2097.75A73.20 73.20 0 0 0 607.56 2097.99Z" fill="#a7cce3"/>
<path d="M606.03 2097.75L561.53 2357.26A336.50 336.50 0 0 1 555.21 2356.11L604.65 2097.50A73.20 73.20 0 0 0 606.03 2097.75Z" fill="#b3dadd"/>
<path d="M612.04 2098.52L589.15 2360.83A336.50 336.50 0 0 1 583.46 2360.28L610.80 2098.40A73.20 73.20 0 0 0 612.04 2098.52Z" fill="#90d3bc"/>
<path d="M610.49 2098.37L582.04 2360.13A336.50 336.50 0 0 1 576.37 2359.46L609.26 2098.23A73.20 73.20 0 0 0 610.49 2098.37Z" fill="#90d3bc"/>
<path d="M608.95 2098.19L574.95 2359.28A336.50 336.50 0 0 1 569.29 2358.50L607.72 2098.02A73.20 73.20 0 0 0 608.95 2098.19Z" fill="#86c9c0"/>
<path d="M607.41 2097.97L567.88 2358.29A336.50 336.50 0 0 1 562.24 2357.38L606.18 2097.77A73.20 73.20 0 0 0 607.41 2097.97Z" fill="#67a7ce"/>
<path d="M605.88 2097.72L560.83 2357.14A336.50 336.50 0 0 1 555.21 2356.11L604.65 2097.50A73.20 73.20 0 0 0 605.88 2097.72Z" fill="#7cbfc4"/>
<path d="M599.80 2096.40L549.18 2289.16A272.50 272.50 0 0 1 544.15 2287.79L598.46 2096.03A73.20 73.20 0 0 0 599.80 2096.40Z" fill="#a7cce3"/>
<path d="M598.46 2096.03L544.15 2287.79A272.50 272.50 0 0 1 538.61 2286.16L596.97 2095.59A73.20 73.20 0 0 0 598.46 2096.03Z" fill="#b0c1dd"/>
<path d="M596.97 2095.59L538.61 2286.16A272.50 272.50 0 0 1 533.09 2284.40L595.48 2095.12A73.20 73.20 0 0 0 596.97 2095.59Z" fill="#a7cce3"/>
<path d="M595.48 2095.12L533.09 2284.40A272.50 272.50 0 0 1 527.62 2282.53L594.01 2094.62A73.20 73.20 0 0 0 595.48 2095.12Z" fill="#b3dadd"/>
<path d="M594.01 2094.62L527.62 2282.53A272.50 272.50 0 0 1 522.73 2280.75L592.70 2094.14A73.20 73.20 0 0 0 594.01 2094.62Z" fill="#b3dadd"/>
<path d="M599.80 2096.40L549.18 2289.16A272.50 272.50 0 0 1 544.71 2287.95L598.61 2096.07A73.20 73.20 0 0 0 599.80 2096.40Z" fill="#67a7ce"/>
<path d="M598.31 2095.99L543.60 2287.63A272.50 272.50 0 0 1 539.16 2286.32L597.11 2095.64A73.20 73.20 0 0 0 598.31 2095.99Z" fill="#7694c5"/>
<path d="M596.82 2095.55L538.05 2285.99A272.50 272.50 0 0 1 533.64 2284.58L595.63 2095.17A73.20 73.20 0 0 0 596.82 2095.55Z" fill="#67a7ce"/>
<path d="M595.34 2095.07L532.54 2284.22A272.50 272.50 0 0 1 528.17 2282.73L594.16 2094.67A73.20 73.20 0 0 0 595.34 2095.07Z" fill="#7cbfc4"/>
<path d="M593.87 2094.57L527.07 2282.34A272.50 272.50 0 0 1 522.73 2280.75L592.70 2094.14A73.20 73.20 0 0 0 593.87 2094.57Z" fill="#7cbfc4"/>
<path d="M588.11 2092.24L503.89 2277.49A276.70 276.70 0 0 1 499.10 2275.26L586.84 2091.65A73.20 73.20 0 0 0 588.11 2092.24Z" fill="#e19fb1"/>
<path d="M586.84 2091.65L499.10 2275.26A276.70 276.70 0 0 1 493.83 2272.67L585.45 2090.96A73.20 73.20 0 0 0 586.84 2091.65Z" fill="#e19fb1"/>
<path d="M585.45 2090.96L493.83 2272.67A276.70 276.70 0 0 1 488.61 2269.97L584.07 2090.25A73.20 73.20 0 0 0 585.45 2090.96Z" fill="#e19fb1"/>
<path d="M584.07 2090.25L488.61 2269.97A276.70 276.70 0 0 1 483.45 2267.16L582.70 2089.50A73.20 73.20 0 0 0 584.07 2090.25Z" fill="#e19fb1"/>
<path d="M582.70 2089.50L483.45 2267.16A276.70 276.70 0 0 1 478.86 2264.54L581.49 2088.81A73.20 73.20 0 0 0 582.70 2089.50Z" fill="#e19fb1"/>
<path d="M588.11 2092.24L503.89 2277.49A276.70 276.70 0 0 1 499.63 2275.51L586.98 2091.71A73.20 73.20 0 0 0 588.11 2092.24Z" fill="#cc5a78"/>
<path d="M586.70 2091.58L498.57 2275.01A276.70 276.70 0 0 1 494.35 2272.94L585.58 2091.03A73.20 73.20 0 0 0 586.70 2091.58Z" fill="#cc5a78"/>
<path d="M585.31 2090.89L493.30 2272.41A276.70 276.70 0 0 1 489.13 2270.25L584.20 2090.32A73.20 73.20 0 0 0 585.31 2090.89Z" fill="#cc5a78"/>
<path d="M583.93 2090.17L488.09 2269.70A276.70 276.70 0 0 1 483.97 2267.45L582.84 2089.58A73.20 73.20 0 0 0 583.93 2090.17Z" fill="#cc5a78"/>
<path d="M582.57 2089.43L482.94 2266.88A276.70 276.70 0 0 1 478.86 2264.54L581.49 2088.81A73.20 73.20 0 0 0 582.57 2089.43Z" fill="#cc5a78"/>
<path d="M577.28 2086.16L467.86 2247.32A268.00 268.00 0 0 1 463.65 2244.41L576.13 2085.36A73.20 73.20 0 0 0 577.28 2086.16Z" fill="#bfe5d8"/>
<path d="M576.13 2085.36L463.65 2244.41A268.00 268.00 0 0 1 459.04 2241.07L574.87 2084.45A73.20 73.20 0 0 0 576.13 2085.36Z" fill="#bfe5d8"/>
<path d="M574.87 2084.45L459.04 2241.07A268.00 268.00 0 0 1 454.50 2237.64L573.63 2083.52A73.20 73.20 0 0 0 574.87 2084.45Z" fill="#bfe5d8"/>
<path d="M573.63 2083.52L454.50 2237.64A268.00 268.00 0 0 1 450.04 2234.11L572.41 2082.55A73.20 73.20 0 0 0 573.63 2083.52Z" fill="#bfe5d8"/>
<path d="M572.41 2082.55L450.04 2234.11A268.00 268.00 0 0 1 446.08 2230.86L571.33 2081.66A73.20 73.20 0 0 0 572.41 2082.55Z" fill="#bfe5d8"/>
<path d="M577.28 2086.16L467.86 2247.32A268.00 268.00 0 0 1 464.11 2244.73L576.26 2085.45A73.20 73.20 0 0 0 577.28 2086.16Z" fill="#90d3bc"/>
<path d="M576.01 2085.27L463.18 2244.08A268.00 268.00 0 0 1 459.50 2241.41L575.00 2084.54A73.20 73.20 0 0 0 576.01 2085.27Z" fill="#90d3bc"/>
<path d="M574.75 2084.36L458.58 2240.73A268.00 268.00 0 0 1 454.95 2237.99L573.76 2083.61A73.20 73.20 0 0 0 574.75 2084.36Z" fill="#90d3bc"/>
<path d="M573.51 2083.42L454.05 2237.29A268.00 268.00 0 0 1 450.48 2234.47L572.54 2082.65A73.20 73.20 0 0 0 573.51 2083.42Z" fill="#90d3bc"/>
<path d="M572.29 2082.45L449.59 2233.76A268.00 268.00 0 0 1 446.08 2230.86L571.33 2081.66A73.20 73.20 0 0 0 572.29 2082.45Z" fill="#90d3bc"/>
<path d="M567.64 2078.34L469.30 2180.50A215.00 215.00 0 0 1 466.37 2177.63L566.64 2077.36A73.20 73.20 0 0 0 567.64 2078.34Z" fill="#e19fb1"/>
<path d="M566.64 2077.36L466.37 2177.63A215.00 215.00 0 0 1 463.18 2174.37L565.55 2076.25A73.20 73.20 0 0 0 566.64 2077.36Z" fill="#e19fb1"/>
<path d="M565.55 2076.25L463.18 2174.37A215.00 215.00 0 0 1 460.06 2171.04L564.49 2075.12A73.20 73.20 0 0 0 565.55 2076.25Z" fill="#e19fb1"/>
<path d="M564.49 2075.12L460.06 2171.04A215.00 215.00 0 0 1 457.01 2167.65L563.45 2073.96A73.20 73.20 0 0 0 564.49 2075.12Z" fill="#e19fb1"/>
<path d="M563.45 2073.96L457.01 2167.65A215.00 215.00 0 0 1 454.32 2164.54L562.54 2072.90A73.20 73.20 0 0 0 563.45 2073.96Z" fill="#b0c1dd"/>
<path d="M567.64 2078.34L469.30 2180.50A215.00 215.00 0 0 1 466.70 2177.95L566.75 2077.47A73.20 73.20 0 0 0 567.64 2078.34Z" fill="#cc5a78"/>
<path d="M566.53 2077.25L466.05 2177.30A215.00 215.00 0 0 1 463.50 2174.70L565.66 2076.36A73.20 73.20 0 0 0 566.53 2077.25Z" fill="#cc5a78"/>
<path d="M565.45 2076.14L462.86 2174.04A215.00 215.00 0 0 1 460.37 2171.37L564.59 2075.23A73.20 73.20 0 0 0 565.45 2076.14Z" fill="#cc5a78"/>
<path d="M564.38 2075.00L459.75 2170.70A215.00 215.00 0 0 1 457.31 2167.99L563.55 2074.08A73.20 73.20 0 0 0 564.38 2075.00Z" fill="#cc5a78"/>
<path d="M563.35 2073.84L456.70 2167.30A215.00 215.00 0 0 1 454.32 2164.54L562.54 2072.90A73.20 73.20 0 0 0 563.35 2073.84Z" fill="#7694c5"/>
<path d="M559.46 2069.00L368.21 2209.82A310.70 310.70 0 0 1 364.73 2205.01L558.64 2067.87A73.20 73.20 0 0 0 559.46 2069.00Z" fill="#b3dadd"/>
<path d="M558.64 2067.87L364.73 2205.01A310.70 310.70 0 0 1 360.98 2199.58L557.75 2066.59A73.20 73.20 0 0 0 558.64 2067.87Z" fill="#a7cce3"/>
<path d="M557.75 2066.59L360.98 2199.58A310.70 310.70 0 0 1 357.35 2194.08L556.90 2065.29A73.20 73.20 0 0 0 557.75 2066.59Z" fill="#a7cce3"/>
<path d="M556.90 2065.29L357.35 2194.08A310.70 310.70 0 0 1 353.83 2188.50L556.07 2063.98A73.20 73.20 0 0 0 556.90 2065.29Z" fill="#a7cce3"/>
<path d="M556.07 2063.98L353.83 2188.50A310.70 310.70 0 0 1 350.77 2183.42L555.35 2062.78A73.20 73.20 0 0 0 556.07 2063.98Z" fill="#b0c1dd"/>
<path d="M559.46 2069.00L368.21 2209.82A310.70 310.70 0 0 1 365.11 2205.55L558.73 2067.99A73.20 73.20 0 0 0 559.46 2069.00Z" fill="#7cbfc4"/>
<path d="M558.55 2067.74L364.35 2204.47A310.70 310.70 0 0 1 361.35 2200.13L557.84 2066.72A73.20 73.20 0 0 0 558.55 2067.74Z" fill="#67a7ce"/>
<path d="M557.67 2066.46L360.61 2199.04A310.70 310.70 0 0 1 357.71 2194.63L556.98 2065.42A73.20 73.20 0 0 0 557.67 2066.46Z" fill="#67a7ce"/>
<path d="M556.81 2065.16L356.99 2193.53A310.70 310.70 0 0 1 354.18 2189.06L556.15 2064.11A73.20 73.20 0 0 0 556.81 2065.16Z" fill="#67a7ce"/>
<path d="M555.99 2063.85L353.48 2187.94A310.70 310.70 0 0 1 350.77 2183.42L555.35 2062.78A73.20 73.20 0 0 0 555.99 2063.85Z" fill="#7694c5"/>
<path d="M552.97 2058.42L346.66 2161.89A304.00 304.00 0 0 1 344.11 2156.67L552.35 2057.16A73.20 73.20 0 0 0 552.97 2058.42Z" fill="#e19fb1"/>
<path d="M552.35 2057.16L344.11 2156.67A304.00 304.00 0 0 1 341.39 2150.82L551.70 2055.75A73.20 73.20 0 0 0 552.35 2057.16Z" fill="#b6b8d9"/>
<path d="M551.70 2055.75L341.39 2150.82A304.00 304.00 0 0 1 338.79 2144.91L551.07 2054.33A73.20 73.20 0 0 0 551.70 2055.75Z" fill="#b6b8d9"/>
<path d="M551.07 2054.33L338.79 2144.91A304.00 304.00 0 0 1 336.32 2138.95L550.48 2052.89A73.20 73.20 0 0 0 551.07 2054.33Z" fill="#b0c1dd"/>
<path d="M550.48 2052.89L336.32 2138.95A304.00 304.00 0 0 1 334.21 2133.54L549.97 2051.59A73.20 73.20 0 0 0 550.48 2052.89Z" fill="#a7cce3"/>
<path d="M552.97 2058.42L346.66 2161.89A304.00 304.00 0 0 1 344.39 2157.25L552.42 2057.30A73.20 73.20 0 0 0 552.97 2058.42Z" fill="#cc5a78"/>
<path d="M552.29 2057.02L343.83 2156.09A304.00 304.00 0 0 1 341.65 2151.41L551.76 2055.89A73.20 73.20 0 0 0 552.29 2057.02Z" fill="#8185be"/>
<path d="M551.63 2055.61L341.12 2150.23A304.00 304.00 0 0 1 339.05 2145.50L551.13 2054.47A73.20 73.20 0 0 0 551.63 2055.61Z" fill="#8185be"/>
<path d="M551.01 2054.19L338.54 2144.32A304.00 304.00 0 0 1 336.56 2139.55L550.54 2053.04A73.20 73.20 0 0 0 551.01 2054.19Z" fill="#7694c5"/>
<path d="M550.42 2052.75L336.08 2138.35A304.00 304.00 0 0 1 334.21 2133.54L549.97 2051.59A73.20 73.20 0 0 0 550.42 2052.75Z" fill="#67a7ce"/>
<path d="M548.36 2046.89L491.15 2064.28A133.00 133.00 0 0 1 490.43 2061.84L547.97 2045.54A73.20 73.20 0 0 0 548.36 2046.89Z" fill="#e8a7b2"/>
<path d="M547.97 2045.54L490.43 2061.84A133.00 133.00 0 0 1 489.69 2059.11L547.56 2044.04A73.20 73.20 0 0 0 547.97 2045.54Z" fill="#e8a7b2"/>
<path d="M547.56 2044.04L489.69 2059.11A133.00 133.00 0 0 1 489.01 2056.37L547.19 2042.54A73.20 73.20 0 0 0 547.56 2044.04Z" fill="#cccfd3"/>
<path d="M547.19 2042.54L489.01 2056.37A133.00 133.00 0 0 1 488.39 2053.62L546.84 2041.02A73.20 73.20 0 0 0 547.19 2042.54Z" fill="#eeadb3"/>
<path d="M546.84 2041.02L488.39 2053.62A133.00 133.00 0 0 1 487.87 2051.13L546.56 2039.65A73.20 73.20 0 0 0 546.84 2041.02Z" fill="#eeadb3"/>
<path d="M548.36 2046.89L491.15 2064.28A133.00 133.00 0 0 1 490.51 2062.11L548.01 2045.69A73.20 73.20 0 0 0 548.36 2046.89Z" fill="#d8677b"/>
<path d="M547.93 2045.39L490.36 2061.57A133.00 133.00 0 0 1 489.76 2059.39L547.60 2044.20A73.20 73.20 0 0 0 547.93 2045.39Z" fill="#d8677b"/>
<path d="M547.52 2043.89L489.62 2058.84A133.00 133.00 0 0 1 489.07 2056.65L547.22 2042.69A73.20 73.20 0 0 0 547.52 2043.89Z" fill="#a7adb3"/>
<path d="M547.15 2042.39L488.94 2056.10A133.00 133.00 0 0 1 488.44 2053.90L546.88 2041.17A73.20 73.20 0 0 0 547.15 2042.39Z" fill="#e1727c"/>
<path d="M546.81 2040.87L488.33 2053.34A133.00 133.00 0 0 1 487.87 2051.13L546.56 2039.65A73.20 73.20 0 0 0 546.81 2040.87Z" fill="#e1727c"/>
<path d="M545.77 2034.74L309.24 2064.52A311.60 311.60 0 0 1 308.55 2058.61L545.61 2033.35A73.20 73.20 0 0 0 545.77 2034.74Z" fill="#b6b8d9"/>
<path d="M545.61 2033.35L308.55 2058.61A311.60 311.60 0 0 1 307.92 2052.03L545.46 2031.81A73.20 73.20 0 0 0 545.61 2033.35Z" fill="#a7cce3"/>
<path d="M545.46 2031.81L307.92 2052.03A311.60 311.60 0 0 1 307.43 2045.43L545.35 2030.26A73.20 73.20 0 0 0 545.46 2031.81Z" fill="#b3dadd"/>
<path d="M545.35 2030.26L307.43 2045.43A311.60 311.60 0 0 1 307.08 2038.82L545.27 2028.71A73.20 73.20 0 0 0 545.35 2030.26Z" fill="#a7cce3"/>
<path d="M545.27 2028.71L307.08 2038.82A311.60 311.60 0 0 1 306.88 2032.88L545.22 2027.31A73.20 73.20 0 0 0 545.27 2028.71Z" fill="#b0c1dd"/>
<path d="M545.77 2034.74L309.24 2064.52A311.60 311.60 0 0 1 308.62 2059.27L545.63 2033.51A73.20 73.20 0 0 0 545.77 2034.74Z" fill="#8185be"/>
<path d="M545.60 2033.20L308.48 2057.95A311.60 311.60 0 0 1 307.98 2052.68L545.48 2031.96A73.20 73.20 0 0 0 545.60 2033.20Z" fill="#67a7ce"/>
<path d="M545.45 2031.65L307.87 2051.37A311.60 311.60 0 0 1 307.47 2046.09L545.36 2030.41A73.20 73.20 0 0 0 545.45 2031.65Z" fill="#7cbfc4"/>
<path d="M545.34 2030.10L307.39 2044.77A311.60 311.60 0 0 1 307.11 2039.49L545.27 2028.86A73.20 73.20 0 0 0 545.34 2030.10Z" fill="#67a7ce"/>
<path d="M545.26 2028.55L307.05 2038.16A311.60 311.60 0 0 1 306.88 2032.88L545.22 2027.31A73.20 73.20 0 0 0 545.26 2028.55Z" fill="#7694c5"/>
<path d="M545.27 2022.34L487.53 2019.76A131.00 131.00 0 0 1 487.67 2017.26L545.35 2020.94A73.20 73.20 0 0 0 545.27 2022.34Z" fill="#f0b1b2"/>
<path d="M545.35 2020.94L487.67 2017.26A131.00 131.00 0 0 1 487.87 2014.49L545.46 2019.39A73.20 73.20 0 0 0 545.35 2020.94Z" fill="#f0b1b2"/>
<path d="M545.46 2019.39L487.87 2014.49A131.00 131.00 0 0 1 488.14 2011.72L545.61 2017.85A73.20 73.20 0 0 0 545.46 2019.39Z" fill="#f0b1b2"/>
<path d="M545.61 2017.85L499.08 2012.89A120.00 120.00 0 0 1 499.37 2010.36L545.79 2016.30A73.20 73.20 0 0 0 545.61 2017.85Z" fill="#f0b1b2"/>
<path d="M545.79 2016.30L499.37 2010.36A120.00 120.00 0 0 1 499.68 2008.09L545.98 2014.92A73.20 73.20 0 0 0 545.79 2016.30Z" fill="#f0b1b2"/>
<path d="M545.27 2022.34L487.53 2019.76A131.00 131.00 0 0 1 487.65 2017.54L545.34 2021.10A73.20 73.20 0 0 0 545.27 2022.34Z" fill="#e6797b"/>
<path d="M545.36 2020.79L487.68 2016.99A131.00 131.00 0 0 1 487.85 2014.77L545.45 2019.55A73.20 73.20 0 0 0 545.36 2020.79Z" fill="#e6797b"/>
<path d="M545.48 2019.24L487.90 2014.21A131.00 131.00 0 0 1 488.11 2012.00L545.60 2018.00A73.20 73.20 0 0 0 545.48 2019.24Z" fill="#e6797b"/>
<path d="M545.63 2017.69L499.10 2012.63A120.00 120.00 0 0 1 499.34 2010.61L545.77 2016.46A73.20 73.20 0 0 0 545.63 2017.69Z" fill="#e6797b"/>
<path d="M545.81 2016.15L499.40 2010.11A120.00 120.00 0 0 1 499.68 2008.09L545.98 2014.92A73.20 73.20 0 0 0 545.81 2016.15Z" fill="#e6797b"/>
<path d="M546.88 2010.03L294.59 1955.09A331.40 331.40 0 0 1 295.99 1948.92L547.19 2008.66A73.20 73.20 0 0 0 546.88 2010.03Z" fill="#b3dadd"/>
<path d="M547.19 2008.66L295.99 1948.92A331.40 331.40 0 0 1 297.69 1942.09L547.56 2007.16A73.20 73.20 0 0 0 547.19 2008.66Z" fill="#a7cce3"/>
<path d="M547.56 2007.16L297.69 1942.09A331.40 331.40 0 0 1 299.54 1935.31L547.97 2005.66A73.20 73.20 0 0 0 547.56 2007.16Z" fill="#b0c1dd"/>
<path d="M547.97 2005.66L299.54 1935.31A331.40 331.40 0 0 1 301.53 1928.56L548.41 2004.17A73.20 73.20 0 0 0 547.97 2005.66Z" fill="#a7cce3"/>
<path d="M548.41 2004.17L301.53 1928.56A331.40 331.40 0 0 1 303.44 1922.52L548.83 2002.83A73.20 73.20 0 0 0 548.41 2004.17Z" fill="#a7cce3"/>
<path d="M546.88 2010.03L294.59 1955.09A331.40 331.40 0 0 1 295.83 1949.60L547.15 2008.81A73.20 73.20 0 0 0 546.88 2010.03Z" fill="#7cbfc4"/>
<path d="M547.22 2008.51L296.16 1948.24A331.40 331.40 0 0 1 297.52 1942.78L547.52 2007.31A73.20 73.20 0 0 0 547.22 2008.51Z" fill="#67a7ce"/>
<path d="M547.60 2007.00L297.87 1941.41A331.40 331.40 0 0 1 299.35 1935.98L547.93 2005.81A73.20 73.20 0 0 0 547.60 2007.00Z" fill="#7694c5"/>
<path d="M548.01 2005.51L299.73 1934.63A331.40 331.40 0 0 1 301.32 1929.23L548.36 2004.31A73.20 73.20 0 0 0 548.01 2005.51Z" fill="#67a7ce"/>
<path d="M548.45 2004.02L301.73 1927.89A331.40 331.40 0 0 1 303.44 1922.52L548.83 2002.83A73.20 73.20 0 0 0 548.45 2004.02Z" fill="#67a7ce"/>
<path d="M550.54 1998.16L304.11 1898.53A339.00 339.00 0 0 1 306.60 1892.55L551.07 1996.87A73.20 73.20 0 0 0 550.54 1998.16Z" fill="#bfe5d8"/>
<path d="M551.07 1996.87L306.60 1892.55A339.00 339.00 0 0 1 309.49 1885.97L551.70 1995.45A73.20 73.20 0 0 0 551.07 1996.87Z" fill="#bfe5d8"/>
<path d="M551.70 1995.45L309.49 1885.97A339.00 339.00 0 0 1 312.53 1879.44L552.35 1994.04A73.20 73.20 0 0 0 551.70 1995.45Z" fill="#bfe5d8"/>
<path d="M552.35 1994.04L312.53 1879.44A339.00 339.00 0 0 1 315.70 1872.98L553.04 1992.65A73.20 73.20 0 0 0 552.35 1994.04Z" fill="#b3dadd"/>
<path d="M553.04 1992.65L315.70 1872.98A339.00 339.00 0 0 1 318.67 1867.23L553.68 1991.40A73.20 73.20 0 0 0 553.04 1992.65Z" fill="#a7cce3"/>
<path d="M550.54 1998.16L304.11 1898.53A339.00 339.00 0 0 1 306.32 1893.22L551.01 1997.01A73.20 73.20 0 0 0 550.54 1998.16Z" fill="#90d3bc"/>
<path d="M551.13 1996.73L306.88 1891.89A339.00 339.00 0 0 1 309.20 1886.62L551.63 1995.59A73.20 73.20 0 0 0 551.13 1996.73Z" fill="#90d3bc"/>
<path d="M551.76 1995.31L309.79 1885.31A339.00 339.00 0 0 1 312.22 1880.09L552.29 1994.18A73.20 73.20 0 0 0 551.76 1995.31Z" fill="#90d3bc"/>
<path d="M552.42 1993.90L312.84 1878.79A339.00 339.00 0 0 1 315.37 1873.62L552.97 1992.78A73.20 73.20 0 0 0 552.42 1993.90Z" fill="#7cbfc4"/>
<path d="M553.11 1992.51L316.02 1872.34A339.00 339.00 0 0 1 318.67 1867.23L553.68 1991.40A73.20 73.20 0 0 0 553.11 1992.51Z" fill="#67a7ce"/>
<path d="M556.15 1987.09L345.84 1856.98A320.50 320.50 0 0 1 349.11 1851.80L556.90 1985.91A73.20 73.20 0 0 0 556.15 1987.09Z" fill="#b3dadd"/>
<path d="M556.90 1985.91L349.11 1851.80A320.50 320.50 0 0 1 352.86 1846.13L557.75 1984.61A73.20 73.20 0 0 0 556.90 1985.91Z" fill="#b3dadd"/>
<path d="M557.75 1984.61L352.86 1846.13A320.50 320.50 0 0 1 356.73 1840.53L558.64 1983.33A73.20 73.20 0 0 0 557.75 1984.61Z" fill="#b6b8d9"/>
<path d="M558.64 1983.33L356.73 1840.53A320.50 320.50 0 0 1 360.72 1835.02L559.55 1982.07A73.20 73.20 0 0 0 558.64 1983.33Z" fill="#b0c1dd"/>
<path d="M559.55 1982.07L360.72 1835.02A320.50 320.50 0 0 1 364.41 1830.13L560.39 1980.96A73.20 73.20 0 0 0 559.55 1982.07Z" fill="#a7cce3"/>
<path d="M556.15 1987.09L345.84 1856.98A320.50 320.50 0 0 1 348.74 1852.38L556.81 1986.04A73.20 73.20 0 0 0 556.15 1987.09Z" fill="#7cbfc4"/>
<path d="M556.98 1985.78L349.48 1851.23A320.50 320.50 0 0 1 352.48 1846.69L557.67 1984.74A73.20 73.20 0 0 0 556.98 1985.78Z" fill="#7cbfc4"/>
<path d="M557.84 1984.48L353.24 1845.56A320.50 320.50 0 0 1 356.34 1841.09L558.55 1983.46A73.20 73.20 0 0 0 557.84 1984.48Z" fill="#8185be"/>
<path d="M558.73 1983.21L357.13 1839.98A320.50 320.50 0 0 1 360.31 1835.57L559.46 1982.20A73.20 73.20 0 0 0 558.73 1983.21Z" fill="#7694c5"/>
<path d="M559.64 1981.95L361.12 1834.47A320.50 320.50 0 0 1 364.41 1830.13L560.39 1980.96A73.20 73.20 0 0 0 559.64 1981.95Z" fill="#67a7ce"/>
<path d="M563.55 1977.12L372.42 1808.18A328.30 328.30 0 0 1 376.61 1803.52L564.49 1976.08A73.20 73.20 0 0 0 563.55 1977.12Z" fill="#a7cce3"/>
<path d="M564.49 1976.08L376.61 1803.52A328.30 328.30 0 0 1 381.38 1798.44L565.55 1974.95A73.20 73.20 0 0 0 564.49 1976.08Z" fill="#b3dadd"/>
<path d="M565.55 1974.95L381.38 1798.44A328.30 328.30 0 0 1 386.26 1793.46L566.64 1973.84A73.20 73.20 0 0 0 565.55 1974.95Z" fill="#a7cce3"/>
<path d="M566.64 1973.84L386.26 1793.46A328.30 328.30 0 0 1 391.24 1788.58L567.75 1972.75A73.20 73.20 0 0 0 566.64 1973.84Z" fill="#b0c1dd"/>
<path d="M567.75 1972.75L391.24 1788.58A328.30 328.30 0 0 1 395.81 1784.29L568.77 1971.79A73.20 73.20 0 0 0 567.75 1972.75Z" fill="#a7cce3"/>
<path d="M563.55 1977.12L372.42 1808.18A328.30 328.30 0 0 1 376.14 1804.03L564.38 1976.20A73.20 73.20 0 0 0 563.55 1977.12Z" fill="#67a7ce"/>
<path d="M564.59 1975.97L377.09 1803.01A328.30 328.30 0 0 1 380.90 1798.94L565.45 1975.06A73.20 73.20 0 0 0 564.59 1975.97Z" fill="#7cbfc4"/>
<path d="M565.66 1974.84L381.86 1797.93A328.30 328.30 0 0 1 385.76 1793.95L566.53 1973.95A73.20 73.20 0 0 0 565.66 1974.84Z" fill="#67a7ce"/>
<path d="M566.75 1973.73L386.75 1792.96A328.30 328.30 0 0 1 390.73 1789.06L567.64 1972.86A73.20 73.20 0 0 0 566.75 1973.73Z" fill="#7694c5"/>
<path d="M567.86 1972.65L391.74 1788.10A328.30 328.30 0 0 1 395.81 1784.29L568.77 1971.79A73.20 73.20 0 0 0 567.86 1972.65Z" fill="#67a7ce"/>
<path d="M572.54 1968.55L406.31 1761.78A338.50 338.50 0 0 1 411.39 1757.78L573.63 1967.68A73.20 73.20 0 0 0 572.54 1968.55Z" fill="#b3dadd"/>
<path d="M573.63 1967.68L411.39 1757.78A338.50 338.50 0 0 1 417.12 1753.45L574.87 1966.75A73.20 73.20 0 0 0 573.63 1967.68Z" fill="#a7cce3"/>
<path d="M574.87 1966.75L417.12 1753.45A338.50 338.50 0 0 1 422.94 1749.24L576.13 1965.84A73.20 73.20 0 0 0 574.87 1966.75Z" fill="#a7cce3"/>
<path d="M576.13 1965.84L422.94 1749.24A338.50 338.50 0 0 1 428.85 1745.15L577.41 1964.95A73.20 73.20 0 0 0 576.13 1965.84Z" fill="#b6b8d9"/>
<path d="M577.41 1964.95L428.85 1745.15A338.50 338.50 0 0 1 434.24 1741.58L578.58 1964.18A73.20 73.20 0 0 0 577.41 1964.95Z" fill="#a7cce3"/>
<path d="M572.54 1968.55L406.31 1761.78A338.50 338.50 0 0 1 410.82 1758.22L573.51 1967.78A73.20 73.20 0 0 0 572.54 1968.55Z" fill="#7cbfc4"/>
<path d="M573.76 1967.59L411.95 1757.34A338.50 338.50 0 0 1 416.54 1753.87L574.75 1966.84A73.20 73.20 0 0 0 573.76 1967.59Z" fill="#67a7ce"/>
<path d="M575.00 1966.66L417.69 1753.02A338.50 338.50 0 0 1 422.35 1749.65L576.01 1965.93A73.20 73.20 0 0 0 575.00 1966.66Z" fill="#67a7ce"/>
<path d="M576.26 1965.75L423.53 1748.82A338.50 338.50 0 0 1 428.25 1745.55L577.28 1965.04A73.20 73.20 0 0 0 576.26 1965.75Z" fill="#8185be"/>
<path d="M577.54 1964.87L429.44 1744.75A338.50 338.50 0 0 1 434.24 1741.58L578.58 1964.18A73.20 73.20 0 0 0 577.54 1964.87Z" fill="#67a7ce"/>
<path d="M582.84 1961.62L455.06 1731.75A336.20 336.20 0 0 1 460.70 1728.68L584.07 1960.95A73.20 73.20 0 0 0 582.84 1961.62Z" fill="#a7cce3"/>
<path d="M584.07 1960.95L460.70 1728.68A336.20 336.20 0 0 1 467.04 1725.40L585.45 1960.24A73.20 73.20 0 0 0 584.07 1960.95Z" fill="#b3dadd"/>
<path d="M585.45 1960.24L467.04 1725.40A336.20 336.20 0 0 1 473.45 1722.25L586.84 1959.55A73.20 73.20 0 0 0 585.45 1960.24Z" fill="#b3dadd"/>
<path d="M586.84 1959.55L473.45 1722.25A336.20 336.20 0 0 1 479.92 1719.24L588.25 1958.90A73.20 73.20 0 0 0 586.84 1959.55Z" fill="#b6b8d9"/>
<path d="M588.25 1958.90L479.92 1719.24A336.20 336.20 0 0 1 485.80 1716.66L589.53 1958.33A73.20 73.20 0 0 0 588.25 1958.90Z" fill="#a7cce3"/>
<path d="M582.84 1961.62L455.06 1731.75A336.20 336.20 0 0 1 460.07 1729.01L583.93 1961.03A73.20 73.20 0 0 0 582.84 1961.62Z" fill="#67a7ce"/>
<path d="M584.20 1960.88L461.33 1728.34A336.20 336.20 0 0 1 466.40 1725.72L585.31 1960.31A73.20 73.20 0 0 0 584.20 1960.88Z" fill="#7cbfc4"/>
<path d="M585.58 1960.17L467.68 1725.08A336.20 336.20 0 0 1 472.80 1722.56L586.70 1959.62A73.20 73.20 0 0 0 585.58 1960.17Z" fill="#7cbfc4"/>
<path d="M586.98 1959.49L474.09 1721.95A336.20 336.20 0 0 1 479.27 1719.54L588.11 1958.96A73.20 73.20 0 0 0 586.98 1959.49Z" fill="#8185be"/>
<path d="M588.39 1958.83L480.57 1718.95A336.20 336.20 0 0 1 485.80 1716.66L589.53 1958.33A73.20 73.20 0 0 0 588.39 1958.83Z" fill="#67a7ce"/>
<path d="M594.16 1956.53L508.66 1712.90A331.40 331.40 0 0 1 514.65 1710.86L595.48 1956.08A73.20 73.20 0 0 0 594.16 1956.53Z" fill="#b9e0da"/>
<path d="M595.48 1956.08L514.65 1710.86A331.40 331.40 0 0 1 521.36 1708.73L596.97 1955.61A73.20 73.20 0 0 0 595.48 1956.08Z" fill="#a7cce3"/>
<path d="M596.97 1955.61L521.36 1708.73A331.40 331.40 0 0 1 528.11 1706.74L598.46 1955.17A73.20 73.20 0 0 0 596.97 1955.61Z" fill="#a7cce3"/>
<path d="M598.46 1955.17L528.11 1706.74A331.40 331.40 0 0 1 534.89 1704.89L599.96 1954.76A73.20 73.20 0 0 0 598.46 1955.17Z" fill="#a7cce3"/>
<path d="M599.96 1954.76L534.89 1704.89A331.40 331.40 0 0 1 541.04 1703.36L601.31 1954.42A73.20 73.20 0 0 0 599.96 1954.76Z" fill="#bfe5d8"/>
<path d="M594.16 1956.53L508.66 1712.90A331.40 331.40 0 0 1 513.99 1711.08L595.34 1956.13A73.20 73.20 0 0 0 594.16 1956.53Z" fill="#86c9c0"/>
<path d="M595.63 1956.03L515.32 1710.64A331.40 331.40 0 0 1 520.69 1708.93L596.82 1955.65A73.20 73.20 0 0 0 595.63 1956.03Z" fill="#67a7ce"/>
<path d="M597.11 1955.56L522.03 1708.52A331.40 331.40 0 0 1 527.43 1706.93L598.31 1955.21A73.20 73.20 0 0 0 597.11 1955.56Z" fill="#67a7ce"/>
<path d="M598.61 1955.13L528.78 1706.55A331.40 331.40 0 0 1 534.21 1705.07L599.80 1954.80A73.20 73.20 0 0 0 598.61 1955.13Z" fill="#67a7ce"/>
<path d="M600.11 1954.72L535.58 1704.72A331.40 331.40 0 0 1 541.04 1703.36L601.31 1954.42A73.20 73.20 0 0 0 600.11 1954.72Z" fill="#90d3bc"/>
<path d="M606.18 1953.43L590.76 1862.32A165.60 165.60 0 0 1 593.88 1861.82L607.56 1953.21A73.20 73.20 0 0 0 606.18 1953.43Z" fill="#bfe5d8"/>
<path d="M607.56 1953.21L593.88 1861.82A165.60 165.60 0 0 1 597.37 1861.34L609.10 1952.99A73.20 73.20 0 0 0 607.56 1953.21Z" fill="#bfe5d8"/>
<path d="M609.10 1952.99L597.37 1861.34A165.60 165.60 0 0 1 600.86 1860.93L610.65 1952.81A73.20 73.20 0 0 0 609.10 1952.99Z" fill="#bfe5d8"/>
<path d="M610.65 1952.81L602.47 1876.05A150.40 150.40 0 0 1 605.65 1875.74L612.19 1952.66A73.20 73.20 0 0 0 610.65 1952.81Z" fill="#bfe5d8"/>
<path d="M612.19 1952.66L605.65 1875.74A150.40 150.40 0 0 1 608.51 1875.53L613.59 1952.56A73.20 73.20 0 0 0 612.19 1952.66Z" fill="#bfe5d8"/>
<path d="M606.18 1953.43L590.76 1862.32A165.60 165.60 0 0 1 593.54 1861.88L607.41 1953.23A73.20 73.20 0 0 0 606.18 1953.43Z" fill="#90d3bc"/>
<path d="M607.72 1953.18L594.23 1861.77A165.60 165.60 0 0 1 597.02 1861.39L608.95 1953.01A73.20 73.20 0 0 0 607.72 1953.18Z" fill="#90d3bc"/>
<path d="M609.26 1952.97L597.71 1861.30A165.60 165.60 0 0 1 600.51 1860.97L610.49 1952.83A73.20 73.20 0 0 0 609.26 1952.97Z" fill="#90d3bc"/>
<path d="M610.80 1952.80L602.78 1876.01A150.40 150.40 0 0 1 605.33 1875.77L612.04 1952.68A73.20 73.20 0 0 0 610.80 1952.80Z" fill="#90d3bc"/>
<path d="M612.35 1952.65L605.96 1875.72A150.40 150.40 0 0 1 608.51 1875.53L613.59 1952.56A73.20 73.20 0 0 0 612.35 1952.65Z" fill="#90d3bc"/>
</g>
<g>
<path d="M644.19 1805.61A221.50 221.50 0 0 1 653.53 1806.90" fill="none" stroke="#dda0a6" stroke-width="1.25"/>
<path d="M649.25 1762.40A265.00 265.00 0 0 1 660.43 1763.95" fill="none" stroke="#c4122f" stroke-width="2.16"/>
<path d="M680.99 1813.13A221.50 221.50 0 0 1 689.98 1815.99" fill="none" stroke="#dda0a6" stroke-width="1.25"/>
<path d="M693.29 1771.40A265.00 265.00 0 0 1 704.04 1774.82" fill="none" stroke="#c4122f" stroke-width="2.16"/>
<path d="M716.00 1826.76A221.50 221.50 0 0 1 724.38 1831.10" fill="none" stroke="#dda0a6" stroke-width="1.25"/>
<path d="M735.17 1787.71A265.00 265.00 0 0 1 745.19 1792.90" fill="none" stroke="#c4122f" stroke-width="2.16"/>
<path d="M748.20 1846.12A221.50 221.50 0 0 1 755.73 1851.81" fill="none" stroke="#dda0a6" stroke-width="1.25"/>
<path d="M773.69 1810.87A265.00 265.00 0 0 1 782.69 1817.68" fill="none" stroke="#c4122f" stroke-width="2.16"/>
<path d="M776.67 1870.64A221.50 221.50 0 0 1 783.12 1877.51" fill="none" stroke="#dda0a6" stroke-width="1.25"/>
<path d="M807.75 1840.20A265.00 265.00 0 0 1 815.47 1848.43" fill="none" stroke="#c4122f" stroke-width="2.16"/>
<path d="M800.58 1899.61A221.50 221.50 0 0 1 805.78 1907.48" fill="none" stroke="#dda0a6" stroke-width="1.25"/>
<path d="M836.36 1874.87A265.00 265.00 0 0 1 842.58 1884.29" fill="none" stroke="#c4122f" stroke-width="2.16"/>
<path d="M819.25 1932.21A221.50 221.50 0 0 1 823.04 1940.85" fill="none" stroke="#dda0a6" stroke-width="1.25"/>
<path d="M858.70 1913.87A265.00 265.00 0 0 1 863.23 1924.21" fill="none" stroke="#c4122f" stroke-width="2.16"/>
<path d="M832.14 1967.50A221.50 221.50 0 0 1 834.42 1976.65" fill="none" stroke="#dda0a6" stroke-width="1.25"/>
<path d="M874.12 1956.09A265.00 265.00 0 0 1 876.85 1967.04" fill="none" stroke="#c4122f" stroke-width="2.16"/>
<path d="M838.89 2004.46A221.50 221.50 0 0 1 839.59 2013.87" fill="none" stroke="#dda0a6" stroke-width="1.25"/>
<path d="M882.19 2000.31A265.00 265.00 0 0 1 883.03 2011.56" fill="none" stroke="#c4122f" stroke-width="2.16"/>
<path d="M839.29 2042.03A221.50 221.50 0 0 1 838.39 2051.42" fill="none" stroke="#dda0a6" stroke-width="1.25"/>
<path d="M882.67 2045.25A265.00 265.00 0 0 1 881.59 2056.49" fill="none" stroke="#c4122f" stroke-width="2.16"/>
<path d="M833.34 2079.12A221.50 221.50 0 0 1 830.86 2088.22" fill="none" stroke="#dda0a6" stroke-width="1.25"/>
<path d="M875.55 2089.63A265.00 265.00 0 0 1 872.59 2100.52" fill="none" stroke="#c4122f" stroke-width="2.16"/>
<path d="M821.20 2114.68A221.50 221.50 0 0 1 817.22 2123.23" fill="none" stroke="#dda0a6" stroke-width="1.25"/>
<path d="M861.03 2132.17A265.00 265.00 0 0 1 856.27 2142.40" fill="none" stroke="#c4122f" stroke-width="2.16"/>
<path d="M803.23 2147.67A221.50 221.50 0 0 1 797.86 2155.43" fill="none" stroke="#dda0a6" stroke-width="1.25"/>
<path d="M839.53 2171.64A265.00 265.00 0 0 1 833.11 2180.92" fill="none" stroke="#c4122f" stroke-width="2.16"/>
<path d="M779.94 2177.15A221.50 221.50 0 0 1 773.34 2183.89" fill="none" stroke="#dda0a6" stroke-width="1.25"/>
<path d="M811.67 2206.91A265.00 265.00 0 0 1 803.77 2214.97" fill="none" stroke="#c4122f" stroke-width="2.16"/>
<path d="M752.01 2202.27A221.50 221.50 0 0 1 744.36 2207.80" fill="none" stroke="#dda0a6" stroke-width="1.25"/>
<path d="M778.24 2236.96A265.00 265.00 0 0 1 769.10 2243.58" fill="none" stroke="#c4122f" stroke-width="2.16"/>
<path d="M720.23 2222.31A221.50 221.50 0 0 1 711.76 2226.46" fill="none" stroke="#dda0a6" stroke-width="1.25"/>
<path d="M740.22 2260.94A265.00 265.00 0 0 1 730.09 2265.91" fill="none" stroke="#c4122f" stroke-width="2.16"/>
<path d="M685.52 2236.69A221.50 221.50 0 0 1 676.47 2239.35" fill="none" stroke="#dda0a6" stroke-width="1.25"/>
<path d="M698.70 2278.14A265.00 265.00 0 0 1 687.88 2281.33" fill="none" stroke="#c4122f" stroke-width="2.16"/>
<path d="M648.88 2244.99A221.50 221.50 0 0 1 639.51 2246.09" fill="none" stroke="#dda0a6" stroke-width="1.25"/>
<path d="M654.86 2288.08A265.00 265.00 0 0 1 643.66 2289.39" fill="none" stroke="#c4122f" stroke-width="2.16"/>
<path d="M611.36 2246.99A221.50 221.50 0 0 1 601.94 2246.49" fill="none" stroke="#dda0a6" stroke-width="1.25"/>
<path d="M609.98 2290.47A265.00 265.00 0 0 1 598.71 2289.87" fill="none" stroke="#c4122f" stroke-width="2.16"/>
<path d="M574.05 2242.61A221.50 221.50 0 0 1 564.85 2240.53" fill="none" stroke="#dda0a6" stroke-width="1.25"/>
<path d="M565.34 2285.23A265.00 265.00 0 0 1 554.33 2282.74" fill="none" stroke="#c4122f" stroke-width="2.16"/>
<path d="M538.01 2232.00A221.50 221.50 0 0 1 529.30 2228.39" fill="none" stroke="#dda0a6" stroke-width="1.25"/>
<path d="M522.22 2272.53A265.00 265.00 0 0 1 511.80 2268.21" fill="none" stroke="#c4122f" stroke-width="2.16"/>
<path d="M504.29 2215.44A221.50 221.50 0 0 1 496.31 2210.41" fill="none" stroke="#dda0a6" stroke-width="1.25"/>
<path d="M481.88 2252.73A265.00 265.00 0 0 1 472.33 2246.71" fill="none" stroke="#c4122f" stroke-width="2.16"/>
<path d="M473.84 2193.43A221.50 221.50 0 0 1 466.83 2187.12" fill="none" stroke="#dda0a6" stroke-width="1.25"/>
<path d="M445.46 2226.39A265.00 265.00 0 0 1 437.06 2218.84" fill="none" stroke="#c4122f" stroke-width="2.16"/>
<path d="M447.56 2166.58A221.50 221.50 0 0 1 441.71 2159.18" fill="none" stroke="#dda0a6" stroke-width="1.25"/>
<path d="M414.01 2194.27A265.00 265.00 0 0 1 407.01 2185.42" fill="none" stroke="#c4122f" stroke-width="2.16"/>
<path d="M426.19 2135.68A221.50 221.50 0 0 1 421.68 2127.40" fill="none" stroke="#dda0a6" stroke-width="1.25"/>
<path d="M388.44 2157.30A265.00 265.00 0 0 1 383.05 2147.39" fill="none" stroke="#c4122f" stroke-width="2.16"/>
<path d="M410.35 2101.62A221.50 221.50 0 0 1 407.30 2092.69" fill="none" stroke="#dda0a6" stroke-width="1.25"/>
<path d="M369.49 2116.55A265.00 265.00 0 0 1 365.85 2105.87" fill="none" stroke="#c4122f" stroke-width="2.16"/>
<path d="M400.50 2065.36A221.50 221.50 0 0 1 399.00 2056.05" fill="none" stroke="#dda0a6" stroke-width="1.25"/>
<path d="M357.70 2073.17A265.00 265.00 0 0 1 355.92 2062.03" fill="none" stroke="#c4122f" stroke-width="2.16"/>
<path d="M396.91 2027.97A221.50 221.50 0 0 1 397.01 2018.53" fill="none" stroke="#dda0a6" stroke-width="1.25"/>
<path d="M353.42 2028.43A265.00 265.00 0 0 1 353.53 2017.15" fill="none" stroke="#c4122f" stroke-width="2.16"/>
<path d="M399.70 1990.50A221.50 221.50 0 0 1 401.39 1981.22" fill="none" stroke="#dda0a6" stroke-width="1.25"/>
<path d="M356.75 1983.61A265.00 265.00 0 0 1 358.77 1972.51" fill="none" stroke="#c4122f" stroke-width="2.16"/>
<path d="M408.78 1954.04A221.50 221.50 0 0 1 412.01 1945.18" fill="none" stroke="#dda0a6" stroke-width="1.25"/>
<path d="M367.61 1939.99A265.00 265.00 0 0 1 371.48 1929.39" fill="none" stroke="#c4122f" stroke-width="2.16"/>
<path d="M423.88 1919.65A221.50 221.50 0 0 1 428.57 1911.46" fill="none" stroke="#dda0a6" stroke-width="1.25"/>
<path d="M385.68 1898.84A265.00 265.00 0 0 1 391.29 1889.05" fill="none" stroke="#c4122f" stroke-width="2.16"/>
<path d="M444.59 1888.30A221.50 221.50 0 0 1 450.59 1881.02" fill="none" stroke="#dda0a6" stroke-width="1.25"/>
<path d="M410.45 1861.33A265.00 265.00 0 0 1 417.64 1852.63" fill="none" stroke="#c4122f" stroke-width="2.16"/>
<path d="M470.29 1860.90A221.50 221.50 0 0 1 477.44 1854.74" fill="none" stroke="#dda0a6" stroke-width="1.25"/>
<path d="M441.21 1828.55A265.00 265.00 0 0 1 449.76 1821.19" fill="none" stroke="#c4122f" stroke-width="2.16"/>
<path d="M500.26 1838.24A221.50 221.50 0 0 1 508.34 1833.38" fill="none" stroke="#dda0a6" stroke-width="1.25"/>
<path d="M477.06 1801.44A265.00 265.00 0 0 1 486.73 1795.63" fill="none" stroke="#c4122f" stroke-width="2.16"/>
<path d="M533.62 1820.97A221.50 221.50 0 0 1 542.41 1817.54" fill="none" stroke="#dda0a6" stroke-width="1.25"/>
<path d="M516.97 1780.78A265.00 265.00 0 0 1 527.49 1776.68" fill="none" stroke="#c4122f" stroke-width="2.16"/>
<path d="M569.42 1809.58A221.50 221.50 0 0 1 578.67 1807.69" fill="none" stroke="#dda0a6" stroke-width="1.25"/>
<path d="M559.81 1767.16A265.00 265.00 0 0 1 570.86 1764.90" fill="none" stroke="#c4122f" stroke-width="2.16"/>
</g>
<circle cx="618.40" cy="2025.60" r="65.90" fill="none" stroke="#222" stroke-width="3.15" stroke-dasharray="4.1 6.25"/>
<g font-size="8.28" fill="#5c5c5c" text-anchor="middle">
<text transform="translate(623.61 1535.08) rotate(-89.39)" dy="2.90">TARTE_PLASMA_CELL_VS_PLASMABLAST_DN</text>
<text transform="translate(634.02 1535.30) rotate(-88.18)" dy="2.90">GSE22886_NAIVE_BCELL_VS_BM_PLASMA_CELL_DN</text>
<text transform="translate(644.42 1535.74) rotate(-86.96)" dy="2.90">GSE12845_IGD_POS_VS_NEG_BLOOD_BCELL_DN</text>
<text transform="translate(654.81 1536.40) rotate(-85.74)" dy="2.90">GSE22886_NAIVE_VS_IGG_IGA_MEMORY_BCELL_DN</text>
<text transform="translate(665.19 1537.29) rotate(-84.53)" dy="2.90">GSE22886_TCELL_VS_BCELL_NAIVE_UP</text>
<text transform="translate(703.82 1557.33) rotate(-79.66)" dy="2.90">TARTE_PLASMA_CELL_VS_PLASMABLAST_DN</text>
<text transform="translate(713.74 1559.25) rotate(-78.45)" dy="2.90">GSE29618_BCELL_VS_MDC_DN</text>
<text transform="translate(723.62 1561.37) rotate(-77.23)" dy="2.90">GSE41176_UNSTIM_VS_ANTI_IGM_STIM_TAK1_KO_BCELL_24H_UP</text>
<text transform="translate(733.45 1563.71) rotate(-76.01)" dy="2.90">GSE12366_PLASMA_CELL_VS_NAIVE_BCELL_DN</text>
<text transform="translate(743.22 1566.26) rotate(-74.80)" dy="2.90">GSE13411_PLASMA_CELL_VS_MEMORY_BCELL_DN</text>
<text transform="translate(786.04 1566.71) rotate(-69.93)" dy="2.90">GSE12845_IGD_NEG_BLOOD_VS_NAIVE_TONSIL_BCELL_UP</text>
<text transform="translate(795.74 1570.37) rotate(-68.72)" dy="2.90">GSE12845_IGD_POS_VS_NEG_BLOOD_BCELL_DN</text>
<text transform="translate(805.36 1574.24) rotate(-67.50)" dy="2.90">GSE22886_NAIVE_BCELL_VS_BM_PLASMA_CELL_DN</text>
<text transform="translate(814.90 1578.31) rotate(-66.28)" dy="2.90">GSE22886_NAIVE_VS_IGG_IGA_MEMORY_BCELL_DN</text>
<text transform="translate(824.35 1582.58) rotate(-65.07)" dy="2.90">GSE22886_TCELL_VS_BCELL_NAIVE_UP</text>
<text transform="translate(868.93 1588.10) rotate(-60.20)" dy="2.90">GSE12845_IGD_POS_VS_NEG_BLOOD_BCELL_DN</text>
<text transform="translate(878.16 1593.52) rotate(-58.99)" dy="2.90">GSE12845_IGD_NEG_BLOOD_VS_NAIVE_TONSIL_BCELL_UP</text>
<text transform="translate(887.27 1599.13) rotate(-57.77)" dy="2.90">GSE10325_BCELL_VS_LUPUS_BCELL_DN</text>
<text transform="translate(896.26 1604.93) rotate(-56.55)" dy="2.90">GSE10325_CD4_TCELL_VS_BCELL_UP</text>
<text transform="translate(905.13 1610.93) rotate(-55.34)" dy="2.90">GSE12845_IGD_NEG_BLOOD_VS_DARKZONE_GC_TONSIL_BCELL_UP</text>
<text transform="translate(902.94 1692.61) rotate(-50.47)" dy="2.90">GSE12845_IGD_POS_VS_NEG_BLOOD_BCELL_DN</text>
<text transform="translate(908.55 1697.49) rotate(-49.26)" dy="2.90">GSE22886_NAIVE_VS_IGG_IGA_MEMORY_BCELL_DN</text>
<text transform="translate(914.08 1702.46) rotate(-48.04)" dy="2.90">GSE22886_NAIVE_VS_IGM_MEMORY_BCELL_DN</text>
<text transform="translate(919.52 1707.53) rotate(-46.82)" dy="2.90">GSE13411_NAIVE_VS_MEMORY_BCELL_DN</text>
<text transform="translate(924.88 1712.69) rotate(-45.61)" dy="2.90">GSE22886_NAIVE_BCELL_VS_NEUTROPHIL_UP</text>
<text transform="translate(971.88 1721.10) rotate(-40.74)" dy="2.90">TARTE_PLASMA_CELL_VS_PLASMABLAST_DN</text>
<text transform="translate(978.26 1728.67) rotate(-39.53)" dy="2.90">GSE22886_NAIVE_VS_IGM_MEMORY_BCELL_DN</text>
<text transform="translate(984.48 1736.37) rotate(-38.31)" dy="2.90">GSE12845_IGD_POS_VS_NEG_BLOOD_BCELL_DN</text>
<text transform="translate(990.54 1744.21) rotate(-37.09)" dy="2.90">GSE12845_IGD_NEG_BLOOD_VS_NAIVE_TONSIL_BCELL_UP</text>
<text transform="translate(996.43 1752.17) rotate(-35.88)" dy="2.90">GSE13411_NAIVE_VS_MEMORY_BCELL_DN</text>
<text transform="translate(1051.68 1765.12) rotate(-31.01)" dy="2.90">GSE10325_CD4_TCELL_VS_BCELL_UP</text>
<text transform="translate(1057.11 1774.38) rotate(-29.80)" dy="2.90">GSE11386_NAIVE_VS_MEMORY_BCELL_UP</text>
<text transform="translate(1062.34 1783.74) rotate(-28.58)" dy="2.90">GSE12366_NAIVE_VS_MEMORY_BCELL_DN</text>
<text transform="translate(1067.38 1793.22) rotate(-27.36)" dy="2.90">GSE12845_IGD_NEG_BLOOD_VS_DARKZONE_GC_TONSIL_BCELL_UP</text>
<text transform="translate(1072.21 1802.80) rotate(-26.15)" dy="2.90">GSE12845_IGD_NEG_BLOOD_VS_NAIVE_TONSIL_BCELL_UP</text>
<text transform="translate(1056.36 1855.03) rotate(-21.28)" dy="2.90">TARTE_PLASMA_CELL_VS_PLASMABLAST_DN</text>
<text transform="translate(1059.36 1862.96) rotate(-20.07)" dy="2.90">GSE29618_BCELL_VS_MDC_DAY7_FLU_VACCINE_DN</text>
<text transform="translate(1062.23 1870.94) rotate(-18.85)" dy="2.90">GSE29618_BCELL_VS_MDC_DN</text>
<text transform="translate(1064.94 1878.98) rotate(-17.64)" dy="2.90">GSE29618_BCELL_VS_MONOCYTE_DN</text>
<text transform="translate(1067.52 1887.06) rotate(-16.42)" dy="2.90">GSE3039_CD4_TCELL_VS_B1_BCELL_DN</text>
<text transform="translate(1105.38 1926.04) rotate(-11.55)" dy="2.90">GSE10325_BCELL_VS_LUPUS_BCELL_DN</text>
<text transform="translate(1107.38 1936.40) rotate(-10.34)" dy="2.90">GSE11961_PLASMA_CELL_DAY7_VS_GERMINAL_CENTER_BCELL_DAY40_UP</text>
<text transform="translate(1109.16 1946.80) rotate(-9.12)" dy="2.90">GSE12366_GC_BCELL_VS_PLASMA_CELL_DN</text>
<text transform="translate(1110.73 1957.24) rotate(-7.91)" dy="2.90">GSE12366_GC_VS_MEMORY_BCELL_UP</text>
<text transform="translate(1112.07 1967.70) rotate(-6.69)" dy="2.90">GSE12366_PLASMA_CELL_VS_MEMORY_BCELL_UP</text>
<text transform="translate(1127.49 2009.38) rotate(-1.82)" dy="2.90">TARTE_PLASMA_CELL_VS_PLASMABLAST_DN</text>
<text transform="translate(1127.72 2020.19) rotate(-0.61)" dy="2.90">GSE22886_NAIVE_BCELL_VS_BLOOD_PLASMA_CELL_DN</text>
<text transform="translate(1127.72 2031.01) rotate(0.61)" dy="2.90">GSE22886_IGM_MEMORY_BCELL_VS_BLOOD_PLASMA_CELL_DN</text>
<text transform="translate(1127.49 2041.82) rotate(1.82)" dy="2.90">GSE22886_IGG_IGA_MEMORY_BCELL_VS_BLOOD_PLASMA_CELL_DN</text>
<text transform="translate(1127.03 2052.62) rotate(3.04)" dy="2.90">GSE12845_IGD_POS_VS_NEG_BLOOD_BCELL_DN</text>
<text transform="translate(1122.12 2095.54) rotate(7.91)" dy="2.90">TARTE_PLASMA_CELL_VS_PLASMABLAST_DN</text>
<text transform="translate(1120.52 2106.22) rotate(9.12)" dy="2.90">GSE12845_IGD_NEG_BLOOD_VS_NAIVE_TONSIL_BCELL_UP</text>
<text transform="translate(1118.69 2116.86) rotate(10.34)" dy="2.90">GSE12845_IGD_POS_VS_NEG_BLOOD_BCELL_DN</text>
<text transform="translate(1116.64 2127.46) rotate(11.55)" dy="2.90">GSE22886_IGG_IGA_MEMORY_BCELL_VS_BLOOD_PLASMA_CELL_DN</text>
<text transform="translate(1114.37 2138.01) rotate(12.77)" dy="2.90">GSE22886_IGM_MEMORY_BCELL_VS_BLOOD_PLASMA_CELL_DN</text>
<text transform="translate(1110.48 2182.03) rotate(17.64)" dy="2.90">GO_B_CELL_ACTIVATION</text>
<text transform="translate(1107.05 2192.44) rotate(18.85)" dy="2.90">GSE10325_CD4_TCELL_VS_BCELL_UP</text>
<text transform="translate(1103.40 2202.77) rotate(20.07)" dy="2.90">GSE12366_GC_BCELL_VS_PLASMA_CELL_DN</text>
<text transform="translate(1099.53 2213.03) rotate(21.28)" dy="2.90">GSE12366_NAIVE_VS_MEMORY_BCELL_DN</text>
<text transform="translate(1095.45 2223.20) rotate(22.50)" dy="2.90">GSE12366_PLASMA_CELL_VS_MEMORY_BCELL_UP</text>
<text transform="translate(1088.16 2268.73) rotate(27.36)" dy="2.90">GSE12845_NAIVE_VS_PRE_GC_TONSIL_BCELL_DN</text>
<text transform="translate(1082.89 2278.65) rotate(28.58)" dy="2.90">GSE13411_NAIVE_VS_MEMORY_BCELL_DN</text>
<text transform="translate(1077.42 2288.45) rotate(29.80)" dy="2.90">GSE22886_NAIVE_VS_IGM_MEMORY_BCELL_DN</text>
<text transform="translate(1071.73 2298.14) rotate(31.01)" dy="2.90">TARTE_PLASMA_CELL_VS_PLASMABLAST_DN</text>
<text transform="translate(1065.85 2307.70) rotate(32.23)" dy="2.90">GSE10325_BCELL_VS_LUPUS_BCELL_DN</text>
<text transform="translate(1016.42 2326.56) rotate(37.09)" dy="2.90">GO_B_CELL_MEDIATED_IMMUNITY</text>
<text transform="translate(1009.95 2334.94) rotate(38.31)" dy="2.90">GSE13411_PLASMA_CELL_VS_MEMORY_BCELL_UP</text>
<text transform="translate(1003.29 2343.18) rotate(39.53)" dy="2.90">GSE17186_MEMORY_VS_NAIVE_BCELL_DN</text>
<text transform="translate(996.46 2351.28) rotate(40.74)" dy="2.90">GSE15271_CXCR4_POS_VS_NEG_GC_BCELL_DN</text>
<text transform="translate(989.47 2359.23) rotate(41.96)" dy="2.90">GSE25677_MPL_VS_MPL_AND_R848_STIM_BCELL_UP</text>
<text transform="translate(955.69 2385.09) rotate(46.82)" dy="2.90">TARTE_PLASMA_CELL_VS_PLASMABLAST_DN</text>
<text transform="translate(947.99 2392.17) rotate(48.04)" dy="2.90">GSE22886_NAIVE_BCELL_VS_BM_PLASMA_CELL_DN</text>
<text transform="translate(940.13 2399.08) rotate(49.26)" dy="2.90">GSE12845_IGD_POS_VS_NEG_BLOOD_BCELL_DN</text>
<text transform="translate(932.13 2405.82) rotate(50.47)" dy="2.90">GSE22886_NAIVE_BCELL_VS_BLOOD_PLASMA_CELL_DN</text>
<text transform="translate(923.99 2412.40) rotate(51.69)" dy="2.90">GSE22886_NAIVE_VS_IGG_IGA_MEMORY_BCELL_DN</text>
<text transform="translate(887.33 2432.75) rotate(56.55)" dy="2.90">TARTE_PLASMA_CELL_VS_PLASMABLAST_DN</text>
<text transform="translate(878.63 2438.36) rotate(57.77)" dy="2.90">GSE22886_NAIVE_BCELL_VS_BLOOD_PLASMA_CELL_DN</text>
<text transform="translate(869.81 2443.80) rotate(58.99)" dy="2.90">GSE22886_IGM_MEMORY_BCELL_VS_BLOOD_PLASMA_CELL_DN</text>
<text transform="translate(860.88 2449.04) rotate(60.20)" dy="2.90">GSE12845_IGD_POS_VS_NEG_BLOOD_BCELL_DN</text>
<text transform="translate(851.84 2454.09) rotate(61.42)" dy="2.90">GSE12845_IGD_NEG_BLOOD_VS_NAIVE_TONSIL_BCELL_UP</text>
<text transform="translate(793.78 2424.83) rotate(66.28)" dy="2.90">GSE10325_CD4_TCELL_VS_BCELL_UP</text>
<text transform="translate(785.27 2428.46) rotate(67.50)" dy="2.90">GSE29618_BCELL_VS_MDC_DN</text>
<text transform="translate(776.68 2431.91) rotate(68.72)" dy="2.90">GSE10325_LUPUS_CD4_TCELL_VS_LUPUS_BCELL_UP</text>
<text transform="translate(768.02 2435.18) rotate(69.93)" dy="2.90">GSE29618_BCELL_VS_MDC_DAY7_FLU_VACCINE_DN</text>
<text transform="translate(759.29 2438.26) rotate(71.15)" dy="2.90">GSE29618_BCELL_VS_MONOCYTE_DN</text>
<text transform="translate(746.99 2541.88) rotate(76.01)" dy="2.90">GO_B_CELL_ACTIVATION</text>
<text transform="translate(736.01 2544.49) rotate(77.23)" dy="2.90">GSE10325_BCELL_VS_LUPUS_BCELL_DN</text>
<text transform="translate(724.97 2546.87) rotate(78.45)" dy="2.90">GSE11386_NAIVE_VS_MEMORY_BCELL_UP</text>
<text transform="translate(713.88 2549.01) rotate(79.66)" dy="2.90">GSE12366_GC_BCELL_VS_PLASMA_CELL_DN</text>
<text transform="translate(702.75 2550.92) rotate(80.88)" dy="2.90">GSE12366_PLASMA_CELL_VS_MEMORY_BCELL_UP</text>
<text transform="translate(656.26 2534.24) rotate(85.74)" dy="2.90">GSE22886_IGM_MEMORY_BCELL_VS_BLOOD_PLASMA_CELL_DN</text>
<text transform="translate(645.45 2534.93) rotate(86.96)" dy="2.90">GSE22886_NAIVE_BCELL_VS_BLOOD_PLASMA_CELL_DN</text>
<text transform="translate(634.64 2535.39) rotate(88.18)" dy="2.90">GSE12845_IGD_POS_VS_NEG_BLOOD_BCELL_DN</text>
<text transform="translate(623.81 2535.62) rotate(89.39)" dy="2.90">GSE22886_IGG_IGA_MEMORY_BCELL_VS_BLOOD_PLASMA_CELL_DN</text>
<text transform="translate(612.99 2535.62) rotate(270.61)" dy="2.90">TARTE_PLASMA_CELL_VS_PLASMABLAST_DN</text>
<text transform="translate(572.23 2507.44) rotate(275.47)" dy="2.90">TARTE_PLASMA_CELL_VS_PLASMABLAST_DN</text>
<text transform="translate(562.02 2506.35) rotate(276.69)" dy="2.90">GSE12845_IGD_POS_VS_NEG_BLOOD_BCELL_DN</text>
<text transform="translate(551.82 2505.05) rotate(277.91)" dy="2.90">GSE22886_NAIVE_BCELL_VS_BM_PLASMA_CELL_DN</text>
<text transform="translate(541.66 2503.53) rotate(279.12)" dy="2.90">GSE22886_NAIVE_VS_IGG_IGA_MEMORY_BCELL_DN</text>
<text transform="translate(531.54 2501.79) rotate(280.34)" dy="2.90">GSE22886_TCELL_VS_BCELL_NAIVE_UP</text>
<text transform="translate(508.25 2430.95) rotate(285.20)" dy="2.90">GSE22886_NAIVE_VS_IGG_IGA_MEMORY_BCELL_DN</text>
<text transform="translate(499.67 2428.52) rotate(286.42)" dy="2.90">GSE22886_NAIVE_VS_IGM_MEMORY_BCELL_DN</text>
<text transform="translate(491.14 2425.91) rotate(287.64)" dy="2.90">GSE22886_CD8_TCELL_VS_BCELL_NAIVE_UP</text>
<text transform="translate(482.68 2423.12) rotate(288.85)" dy="2.90">GSE22886_TCELL_VS_BCELL_NAIVE_UP</text>
<text transform="translate(474.27 2420.15) rotate(290.07)" dy="2.90">GSE22886_CD4_TCELL_VS_BCELL_NAIVE_UP</text>
<text transform="translate(439.56 2410.31) rotate(294.93)" dy="2.90">TARTE_PLASMA_CELL_VS_PLASMABLAST_DN</text>
<text transform="translate(431.43 2406.43) rotate(296.15)" dy="2.90">GSE12845_IGD_POS_BLOOD_VS_PRE_GC_TONSIL_BCELL_DN</text>
<text transform="translate(423.39 2402.38) rotate(297.36)" dy="2.90">GSE12845_NAIVE_VS_PRE_GC_TONSIL_BCELL_DN</text>
<text transform="translate(415.44 2398.15) rotate(298.58)" dy="2.90">GSE13547_2H_VS_12_H_ANTI_IGM_STIM_BCELL_UP</text>
<text transform="translate(407.58 2393.76) rotate(299.80)" dy="2.90">GSE12366_GC_VS_NAIVE_BCELL_UP</text>
<text transform="translate(367.30 2388.74) rotate(304.66)" dy="2.90">GSE12845_IGD_NEG_BLOOD_VS_NAIVE_TONSIL_BCELL_UP</text>
<text transform="translate(359.65 2383.33) rotate(305.88)" dy="2.90">GSE22886_NAIVE_VS_IGG_IGA_MEMORY_BCELL_DN</text>
<text transform="translate(352.12 2377.76) rotate(307.09)" dy="2.90">GSE29618_BCELL_VS_MDC_DN</text>
<text transform="translate(344.70 2372.03) rotate(308.31)" dy="2.90">GSE42724_NAIVE_VS_B1_BCELL_DN</text>
<text transform="translate(337.41 2366.14) rotate(309.53)" dy="2.90">GSE15330_MEGAKARYOCYTE_ERYTHROID_PROGENITOR_VS_PRO_BCELL_UP</text>
<text transform="translate(289.61 2361.45) rotate(314.39)" dy="2.90">GSE12366_PLASMA_CELL_VS_MEMORY_BCELL_DN</text>
<text transform="translate(282.55 2354.39) rotate(315.61)" dy="2.90">GSE22886_IGG_IGA_MEMORY_BCELL_VS_BM_PLASMA_CELL_UP</text>
<text transform="translate(275.65 2347.19) rotate(316.82)" dy="2.90">GSE13411_PLASMA_CELL_VS_MEMORY_BCELL_DN</text>
<text transform="translate(268.90 2339.84) rotate(318.04)" dy="2.90">GSE12366_PLASMA_CELL_VS_NAIVE_BCELL_DN</text>
<text transform="translate(262.31 2332.36) rotate(319.26)" dy="2.90">AIZARANI_LIVER_C38_RESIDENT_B_CELLS_3</text>
<text transform="translate(247.10 2294.17) rotate(324.12)" dy="2.90">GSE41176_WT_VS_TAK1_KO_ANTI_IGM_STIM_BCELL_24H_UP</text>
<text transform="translate(241.48 2286.22) rotate(325.34)" dy="2.90">GSE12366_PLASMA_CELL_VS_NAIVE_BCELL_UP</text>
<text transform="translate(236.03 2278.16) rotate(326.55)" dy="2.90">GSE29618_BCELL_VS_PDC_DN</text>
<text transform="translate(230.76 2269.99) rotate(327.77)" dy="2.90">GSE12845_IGD_NEG_BLOOD_VS_DARKZONE_GC_TONSIL_BCELL_UP</text>
<text transform="translate(225.66 2261.71) rotate(328.99)" dy="2.90">GO_B_CELL_ACTIVATION</text>
<text transform="translate(213.06 2224.60) rotate(333.85)" dy="2.90">GSE12845_IGD_POS_BLOOD_VS_DARKZONE_GC_TONSIL_BCELL_DN</text>
<text transform="translate(208.93 2215.95) rotate(335.07)" dy="2.90">AIZARANI_LIVER_C22_RESIDENT_B_CELLS_2</text>
<text transform="translate(204.98 2207.22) rotate(336.28)" dy="2.90">AIZARANI_LIVER_C38_RESIDENT_B_CELLS_3</text>
<text transform="translate(201.22 2198.40) rotate(337.50)" dy="2.90">DURANTE_ADULT_OLFACTORY_NEUROEPITHELIUM_PLASMA_CELLS</text>
<text transform="translate(197.65 2189.51) rotate(338.72)" dy="2.90">GSE10325_CD4_TCELL_VS_BCELL_DN</text>
<text transform="translate(170.19 2153.12) rotate(343.58)" dy="2.90">GSE22886_NAIVE_BCELL_VS_NEUTROPHIL_UP</text>
<text transform="translate(167.86 2144.63) rotate(344.80)" dy="2.90">GSE29618_BCELL_VS_MDC_DN</text>
<text transform="translate(165.69 2136.10) rotate(346.01)" dy="2.90">AIZARANI_LIVER_C38_RESIDENT_B_CELLS_3</text>
<text transform="translate(163.68 2127.53) rotate(347.23)" dy="2.90">TARTE_PLASMA_CELL_VS_PLASMABLAST_UP</text>
<text transform="translate(161.84 2118.92) rotate(348.45)" dy="2.90">GSE3982_DC_VS_BCELL_DN</text>
<text transform="translate(162.38 2079.08) rotate(353.31)" dy="2.90">GSE22886_NAIVE_BCELL_VS_BM_PLASMA_CELL_DN</text>
<text transform="translate(161.34 2069.39) rotate(354.53)" dy="2.90">GSE12845_IGD_POS_VS_NEG_BLOOD_BCELL_DN</text>
<text transform="translate(160.52 2059.68) rotate(355.74)" dy="2.90">GSE22886_IGG_IGA_MEMORY_BCELL_VS_BLOOD_PLASMA_CELL_DN</text>
<text transform="translate(159.90 2049.95) rotate(356.96)" dy="2.90">GSE22886_NAIVE_BCELL_VS_BLOOD_PLASMA_CELL_DN</text>
<text transform="translate(159.48 2040.22) rotate(358.18)" dy="2.90">GSE22886_IGM_MEMORY_BCELL_VS_BM_PLASMA_CELL_DN</text>
<text transform="translate(136.97 2002.21) rotate(363.04)" dy="2.90">GSE13411_PLASMA_CELL_VS_MEMORY_BCELL_DN</text>
<text transform="translate(137.47 1993.43) rotate(364.26)" dy="2.90">GSE29618_BCELL_VS_MDC_DN</text>
<text transform="translate(138.14 1984.66) rotate(365.47)" dy="2.90">GSE12366_PLASMA_CELL_VS_NAIVE_BCELL_DN</text>
<text transform="translate(149.91 1977.03) rotate(366.69)" dy="2.90">GSE22886_NAIVE_VS_IGM_MEMORY_BCELL_DN</text>
<text transform="translate(150.88 1968.49) rotate(367.91)" dy="2.90">GSE41176_WT_VS_TAK1_KO_UNSTIM_BCELL_UP</text>
<text transform="translate(151.30 1919.73) rotate(372.77)" dy="2.90">GSE22886_NAIVE_BCELL_VS_BLOOD_PLASMA_CELL_DN</text>
<text transform="translate(153.65 1909.84) rotate(373.99)" dy="2.90">GSE12845_IGD_POS_VS_NEG_BLOOD_BCELL_DN</text>
<text transform="translate(156.21 1900.00) rotate(375.20)" dy="2.90">GSE22886_NAIVE_BCELL_VS_BM_PLASMA_CELL_DN</text>
<text transform="translate(158.98 1890.22) rotate(376.42)" dy="2.90">GSE22886_NAIVE_VS_IGG_IGA_MEMORY_BCELL_DN</text>
<text transform="translate(161.96 1880.50) rotate(377.64)" dy="2.90">GSE22886_IGM_MEMORY_BCELL_VS_BM_PLASMA_CELL_DN</text>
<text transform="translate(168.89 1839.41) rotate(382.50)" dy="2.90">GSE22886_IGM_MEMORY_BCELL_VS_BLOOD_PLASMA_CELL_DN</text>
<text transform="translate(172.94 1829.91) rotate(383.72)" dy="2.90">GSE22886_NAIVE_BCELL_VS_BLOOD_PLASMA_CELL_DN</text>
<text transform="translate(177.19 1820.50) rotate(384.93)" dy="2.90">GSE22886_IGG_IGA_MEMORY_BCELL_VS_BLOOD_PLASMA_CELL_DN</text>
<text transform="translate(181.65 1811.18) rotate(386.15)" dy="2.90">GSE12845_IGD_NEG_BLOOD_VS_NAIVE_TONSIL_BCELL_UP</text>
<text transform="translate(186.30 1801.95) rotate(387.36)" dy="2.90">GSE12845_IGD_POS_VS_NEG_BLOOD_BCELL_DN</text>
<text transform="translate(222.47 1775.98) rotate(392.23)" dy="2.90">GSE22886_IGM_MEMORY_BCELL_VS_BLOOD_PLASMA_CELL_DN</text>
<text transform="translate(227.86 1767.63) rotate(393.45)" dy="2.90">GSE22886_IGG_IGA_MEMORY_BCELL_VS_BLOOD_PLASMA_CELL_DN</text>
<text transform="translate(233.42 1759.40) rotate(394.66)" dy="2.90">GO_B_CELL_ACTIVATION</text>
<text transform="translate(239.16 1751.29) rotate(395.88)" dy="2.90">GSE13411_PLASMA_CELL_VS_MEMORY_BCELL_UP</text>
<text transform="translate(245.06 1743.30) rotate(397.09)" dy="2.90">GSE12366_GC_BCELL_VS_PLASMA_CELL_DN</text>
<text transform="translate(264.55 1707.44) rotate(401.96)" dy="2.90">GSE22886_NAIVE_BCELL_VS_BLOOD_PLASMA_CELL_DN</text>
<text transform="translate(271.38 1700.01) rotate(403.18)" dy="2.90">GSE22886_IGG_IGA_MEMORY_BCELL_VS_BLOOD_PLASMA_CELL_DN</text>
<text transform="translate(278.37 1692.71) rotate(404.39)" dy="2.90">GSE22886_NAIVE_BCELL_VS_BM_PLASMA_CELL_DN</text>
<text transform="translate(285.51 1685.57) rotate(405.61)" dy="2.90">GSE12845_IGD_NEG_BLOOD_VS_NAIVE_TONSIL_BCELL_UP</text>
<text transform="translate(292.81 1678.58) rotate(406.82)" dy="2.90">GSE12845_IGD_POS_VS_NEG_BLOOD_BCELL_DN</text>
<text transform="translate(317.08 1644.22) rotate(411.69)" dy="2.90">GSE22886_IGG_IGA_MEMORY_BCELL_VS_BLOOD_PLASMA_CELL_DN</text>
<text transform="translate(325.25 1637.91) rotate(412.91)" dy="2.90">GSE12845_IGD_POS_VS_NEG_BLOOD_BCELL_DN</text>
<text transform="translate(333.54 1631.77) rotate(414.12)" dy="2.90">GSE22886_NAIVE_BCELL_VS_BLOOD_PLASMA_CELL_DN</text>
<text transform="translate(341.97 1625.81) rotate(415.34)" dy="2.90">GSE22886_NAIVE_BCELL_VS_BM_PLASMA_CELL_DN</text>
<text transform="translate(350.51 1620.04) rotate(416.55)" dy="2.90">GSE22886_IGM_MEMORY_BCELL_VS_BM_PLASMA_CELL_DN</text>
<text transform="translate(386.97 1600.80) rotate(421.42)" dy="2.90">GSE22886_NAIVE_BCELL_VS_BLOOD_PLASMA_CELL_DN</text>
<text transform="translate(396.04 1595.98) rotate(422.64)" dy="2.90">GSE12845_IGD_POS_VS_NEG_BLOOD_BCELL_DN</text>
<text transform="translate(405.21 1591.36) rotate(423.85)" dy="2.90">GSE22886_IGG_IGA_MEMORY_BCELL_VS_BLOOD_PLASMA_CELL_DN</text>
<text transform="translate(414.48 1586.93) rotate(425.07)" dy="2.90">GSE22886_NAIVE_BCELL_VS_BM_PLASMA_CELL_DN</text>
<text transform="translate(423.83 1582.70) rotate(426.28)" dy="2.90">GSE22886_IGG_IGA_MEMORY_BCELL_VS_BM_PLASMA_CELL_DN</text>
<text transform="translate(463.64 1572.34) rotate(431.15)" dy="2.90">GSE22886_NAIVE_BCELL_VS_BLOOD_PLASMA_CELL_DN</text>
<text transform="translate(473.30 1569.16) rotate(432.36)" dy="2.90">GSE12845_IGD_POS_VS_NEG_BLOOD_BCELL_DN</text>
<text transform="translate(483.02 1566.18) rotate(433.58)" dy="2.90">GSE22886_NAIVE_BCELL_VS_BM_PLASMA_CELL_DN</text>
<text transform="translate(492.80 1563.41) rotate(434.80)" dy="2.90">GSE22886_IGG_IGA_MEMORY_BCELL_VS_BM_PLASMA_CELL_DN</text>
<text transform="translate(502.64 1560.85) rotate(436.01)" dy="2.90">GSE22886_CD8_TCELL_VS_BCELL_NAIVE_UP</text>
<text transform="translate(549.57 1555.01) rotate(440.88)" dy="2.90">GSE41176_WT_VS_TAK1_KO_ANTI_IGM_STIM_BCELL_24H_UP</text>
<text transform="translate(559.57 1553.65) rotate(442.09)" dy="2.90">GSE29618_BCELL_VS_MDC_DN</text>
<text transform="translate(569.60 1552.51) rotate(443.31)" dy="2.90">GSE41176_WT_VS_TAK1_KO_ANTI_IGM_STIM_BCELL_1H_UP</text>
<text transform="translate(580.89 1566.73) rotate(444.53)" dy="2.90">GSE21063_CTRL_VS_ANTI_IGM_STIM_BCELL_16H_UP</text>
<text transform="translate(590.64 1566.04) rotate(445.74)" dy="2.90">GSE10325_BCELL_VS_LUPUS_BCELL_DN</text>
</g>
<g font-size="16.50" fill="#303030">
<text x="596.9" y="1411.7">10x melanoma</text>
<text x="716.6" y="1421.6">10x NSCLC</text>
<text x="799.8" y="1445.2">10x PBMC1</text>
<text x="899.8" y="1486.5">10x PBMC2</text>
<text x="939.9" y="1607.8">10x PBMC3</text>
<text x="1024.4" y="1648.3">10x PBMC4</text>
<text x="1106.6" y="1716.3">10x PBMC6</text>
<text x="1168.3" y="1846.0">cap</text>
<text x="1125.6" y="1898.9">COVID Coc002</text>
<text x="1184.3" y="1995.2">COVID Coc003</text>
<text x="1179.4" y="2098.2">COVID Coc004</text>
<text x="1184.8" y="2208.6">COVID Coc011</text>
<text x="1105.7" y="2368.0">COVID Coc012</text>
<text x="1046.0" y="2447.0">COVID Coc022</text>
<text x="958.1" y="2514.1">COVID Ki001</text>
<text x="865.0" y="2577.7">COVID Ki002</text>
<text x="775.6" y="2551.7">COVID Ki004</text>
<text x="703.2" y="2673.0">COVID Ki005</text>
<text x="591.0" y="2693.9">COVID Ki006</text>
<text x="484.3" y="2626.8">COVID Ki009c</text>
<text x="392.0" y="2549.8">COVID Ki010c</text>
<text x="316.7" y="2514.4">FB5P2</text>
<text x="219.8" y="2507.0">IBD C12</text>
<text x="160.5" y="2460.2">IBD C16</text>
<text x="100.0" y="2387.2">IBD C17</text>
<text x="46.2" y="2305.1">IBD C18</text>
<text x="32.2" y="2197.2">IBD C19</text>
<text x="11.0" y="2110.2">IBD C21</text>
<text x="9.8" y="1946.2">IBD C30</text>
<text x="13.4" y="1836.7">IBD C33</text>
<text x="56.0" y="1748.8">IBD U34</text>
<text x="123.1" y="1680.5">IBD U35</text>
<text x="178.7" y="1594.4">IBD U4</text>
<text x="205.0" y="1524.9">IBD U41</text>
<text x="279.5" y="1490.0">IBD U45</text>
<text x="402.3" y="1458.7">IBD U5</text>
<text x="491.0" y="1429.6">melanoma</text>
</g>
<defs><linearGradient id="lgB" x1="0" y1="0" x2="0" y2="1"><stop offset="0.0000" stop-color="#5E4FA2"/><stop offset="0.1000" stop-color="#3288BD"/><stop offset="0.2000" stop-color="#66C2A5"/><stop offset="0.3000" stop-color="#ABDDA4"/><stop offset="0.4000" stop-color="#E6F598"/><stop offset="0.5000" stop-color="#FFFFBF"/><stop offset="0.6000" stop-color="#FEE08B"/><stop offset="0.7000" stop-color="#FDAE61"/><stop offset="0.8000" stop-color="#F46D43"/><stop offset="0.9000" stop-color="#D53E4F"/><stop offset="1.0000" stop-color="#9E0142"/></linearGradient></defs>
<rect x="1319.0" y="1829.2" width="44.9" height="224.0" fill="url(#lgB)"/>
<path d="M1354.0 1858.3h9.9" stroke="#fff" stroke-width="1.8" fill="none"/>
<path d="M1319.0 1858.3h9.9" stroke="#fff" stroke-width="1.8" fill="none"/>
<path d="M1354.0 1910.3h9.9" stroke="#fff" stroke-width="1.8" fill="none"/>
<path d="M1319.0 1910.3h9.9" stroke="#fff" stroke-width="1.8" fill="none"/>
<path d="M1354.0 1962.3h9.9" stroke="#fff" stroke-width="1.8" fill="none"/>
<path d="M1319.0 1962.3h9.9" stroke="#fff" stroke-width="1.8" fill="none"/>
<path d="M1354.0 2014.4h9.9" stroke="#fff" stroke-width="1.8" fill="none"/>
<path d="M1319.0 2014.4h9.9" stroke="#fff" stroke-width="1.8" fill="none"/>
<path d="M1354.0 2051.2h9.9" stroke="#fff" stroke-width="1.8" fill="none"/>
<path d="M1319.0 2051.2h9.9" stroke="#fff" stroke-width="1.8" fill="none"/>
<text x="1319.5" y="1809.2" font-size="28" fill="#000">NES</text>
<g font-size="23" fill="#000">
<text x="1378.6" y="1866.6">2</text>
<text x="1378.6" y="1918.6">1</text>
<text x="1378.6" y="1970.6">0</text>
<text x="1378.6" y="2022.7">−1</text>
<text x="1378.6" y="2063.8">−2</text>
</g>
</svg></body></html>
